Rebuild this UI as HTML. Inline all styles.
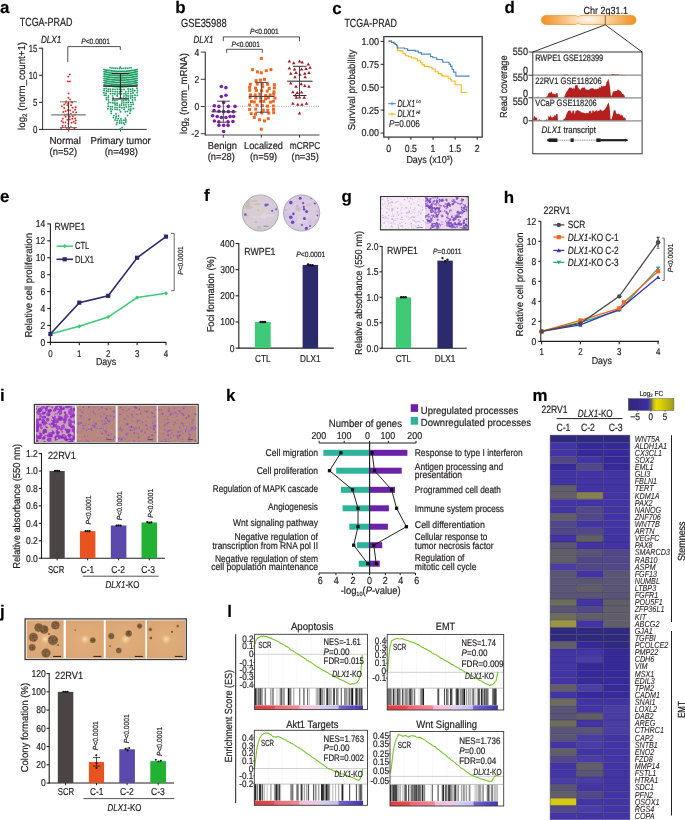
<!DOCTYPE html>
<html><head><meta charset="utf-8"><style>
html,body{margin:0;padding:0;background:#fff;}
svg{display:block;will-change:transform;font-family:"Liberation Sans", sans-serif;}
text{stroke:#231f20;stroke-width:0.2px;}
</style></head><body>
<svg width="685" height="820" viewBox="0 0 685 820" fill="#231f20" text-rendering="geometricPrecision">
<rect width="685" height="820" fill="#fff"/>
<text x="0.00" y="13.20" font-size="16.91" font-weight="bold" fill="#000">a</text>
<text x="19.70" y="26.40" font-size="11.77" textLength="52.80" lengthAdjust="spacingAndGlyphs">TCGA-PRAD</text>
<text x="40.90" y="42.80" font-size="10.27" font-style="italic" textLength="20.40" lengthAdjust="spacingAndGlyphs">DLX1</text>
<polyline points="67.80,62.20 67.80,46.60 120.30,46.60 120.30,50.00" fill="none" stroke="#231f20" stroke-width="0.8"/>
<text x="81.20" y="43.60" font-size="7.7" textLength="28.80" lengthAdjust="spacingAndGlyphs"><tspan font-style="italic">P</tspan>&lt;0.0001</text>
<line x1="42.60" y1="47.80" x2="42.60" y2="129.90" stroke="#231f20" stroke-width="0.9"/>
<line x1="42.20" y1="129.40" x2="146.80" y2="129.40" stroke="#231f20" stroke-width="0.9"/>
<line x1="38.90" y1="129.40" x2="42.60" y2="129.40" stroke="#231f20" stroke-width="1.0"/>
<text x="37.40" y="132.90" font-size="10.27" text-anchor="end" textLength="4.40" lengthAdjust="spacingAndGlyphs">0</text>
<line x1="38.90" y1="102.33" x2="42.60" y2="102.33" stroke="#231f20" stroke-width="1.0"/>
<text x="37.40" y="105.83" font-size="10.27" text-anchor="end" textLength="4.40" lengthAdjust="spacingAndGlyphs">5</text>
<line x1="38.90" y1="75.27" x2="42.60" y2="75.27" stroke="#231f20" stroke-width="1.0"/>
<text x="37.40" y="78.77" font-size="10.27" text-anchor="end" textLength="8.60" lengthAdjust="spacingAndGlyphs">10</text>
<line x1="38.90" y1="48.20" x2="42.60" y2="48.20" stroke="#231f20" stroke-width="1.0"/>
<text x="37.40" y="51.70" font-size="10.27" text-anchor="end" textLength="8.60" lengthAdjust="spacingAndGlyphs">15</text>
<line x1="68.60" y1="129.40" x2="68.60" y2="131.60" stroke="#231f20" stroke-width="0.8"/>
<line x1="120.50" y1="129.40" x2="120.50" y2="131.60" stroke="#231f20" stroke-width="0.8"/>
<text x="25.30" y="85.90" font-size="10.06" text-anchor="middle" textLength="88.00" lengthAdjust="spacingAndGlyphs" transform="rotate(-90 25.30 85.90)">log<tspan font-size="6.5" dy="2">2</tspan><tspan dy="-2"> (norm_count+1)</tspan></text>
<text x="65.20" y="143.80" font-size="10.06" text-anchor="middle" textLength="31.50" lengthAdjust="spacingAndGlyphs">Normal</text>
<text x="63.30" y="155.30" font-size="10.06" text-anchor="middle" textLength="27.50" lengthAdjust="spacingAndGlyphs">(n=52)</text>
<text x="120.60" y="143.80" font-size="10.06" text-anchor="middle" textLength="60.20" lengthAdjust="spacingAndGlyphs">Primary tumor</text>
<text x="121.30" y="155.30" font-size="10.06" text-anchor="middle" textLength="33.20" lengthAdjust="spacingAndGlyphs">(n=498)</text>
<circle cx="69.70" cy="74.50" r="0.95" fill="#e4231f"/>
<circle cx="68.20" cy="76.60" r="0.95" fill="#e4231f"/>
<circle cx="67.90" cy="81.40" r="0.95" fill="#e4231f"/>
<circle cx="69.90" cy="81.40" r="0.95" fill="#e4231f"/>
<circle cx="68.60" cy="93.40" r="0.95" fill="#e4231f"/>
<circle cx="68.40" cy="97.80" r="0.95" fill="#e4231f"/>
<circle cx="70.20" cy="99.50" r="0.95" fill="#e4231f"/>
<circle cx="66.20" cy="101.50" r="0.95" fill="#e4231f"/>
<circle cx="71.50" cy="102.20" r="0.95" fill="#e4231f"/>
<circle cx="72.37" cy="118.76" r="0.95" fill="#e4231f"/>
<circle cx="75.50" cy="123.25" r="0.95" fill="#e4231f"/>
<circle cx="68.26" cy="103.26" r="0.95" fill="#e4231f"/>
<circle cx="70.92" cy="127.12" r="0.95" fill="#e4231f"/>
<circle cx="62.57" cy="126.01" r="0.95" fill="#e4231f"/>
<circle cx="64.65" cy="114.74" r="0.95" fill="#e4231f"/>
<circle cx="69.75" cy="116.69" r="0.95" fill="#e4231f"/>
<circle cx="65.77" cy="102.84" r="0.95" fill="#e4231f"/>
<circle cx="75.09" cy="109.79" r="0.95" fill="#e4231f"/>
<circle cx="63.29" cy="122.49" r="0.95" fill="#e4231f"/>
<circle cx="62.78" cy="118.62" r="0.95" fill="#e4231f"/>
<circle cx="72.31" cy="102.55" r="0.95" fill="#e4231f"/>
<circle cx="64.16" cy="107.97" r="0.95" fill="#e4231f"/>
<circle cx="74.41" cy="128.14" r="0.95" fill="#e4231f"/>
<circle cx="75.88" cy="120.53" r="0.95" fill="#e4231f"/>
<circle cx="65.46" cy="125.83" r="0.95" fill="#e4231f"/>
<circle cx="63.39" cy="111.93" r="0.95" fill="#e4231f"/>
<circle cx="61.82" cy="106.30" r="0.95" fill="#e4231f"/>
<circle cx="70.21" cy="110.37" r="0.95" fill="#e4231f"/>
<circle cx="65.64" cy="111.32" r="0.95" fill="#e4231f"/>
<circle cx="68.30" cy="123.86" r="0.95" fill="#e4231f"/>
<circle cx="61.69" cy="120.89" r="0.95" fill="#e4231f"/>
<circle cx="61.16" cy="127.95" r="0.95" fill="#e4231f"/>
<circle cx="75.70" cy="107.22" r="0.95" fill="#e4231f"/>
<circle cx="72.59" cy="107.63" r="0.95" fill="#e4231f"/>
<circle cx="72.90" cy="116.19" r="0.95" fill="#e4231f"/>
<circle cx="71.08" cy="105.32" r="0.95" fill="#e4231f"/>
<circle cx="75.12" cy="118.44" r="0.95" fill="#e4231f"/>
<circle cx="65.67" cy="116.73" r="0.95" fill="#e4231f"/>
<circle cx="69.12" cy="128.25" r="0.95" fill="#e4231f"/>
<circle cx="67.38" cy="114.39" r="0.95" fill="#e4231f"/>
<circle cx="67.87" cy="110.19" r="0.95" fill="#e4231f"/>
<circle cx="76.22" cy="112.34" r="0.95" fill="#e4231f"/>
<circle cx="73.06" cy="111.93" r="0.95" fill="#e4231f"/>
<circle cx="71.64" cy="122.72" r="0.95" fill="#e4231f"/>
<circle cx="69.86" cy="119.46" r="0.95" fill="#e4231f"/>
<circle cx="73.72" cy="121.76" r="0.95" fill="#e4231f"/>
<circle cx="67.36" cy="119.87" r="0.95" fill="#e4231f"/>
<circle cx="70.94" cy="114.01" r="0.95" fill="#e4231f"/>
<circle cx="66.72" cy="127.88" r="0.95" fill="#e4231f"/>
<circle cx="65.49" cy="122.35" r="0.95" fill="#e4231f"/>
<circle cx="75.10" cy="114.39" r="0.95" fill="#e4231f"/>
<circle cx="67.39" cy="105.32" r="0.95" fill="#e4231f"/>
<circle cx="64.18" cy="104.38" r="0.95" fill="#e4231f"/>
<line x1="51.20" y1="114.90" x2="85.80" y2="114.90" stroke="#7a7a7a" stroke-width="1.2"/>
<line x1="60.00" y1="101.80" x2="77.00" y2="101.80" stroke="#7a7a7a" stroke-width="1.0"/>
<line x1="60.00" y1="127.50" x2="77.00" y2="127.50" stroke="#7a7a7a" stroke-width="1.0"/>
<line x1="68.60" y1="101.80" x2="68.60" y2="127.50" stroke="#231f20" stroke-width="0.9"/>
<circle cx="110.10" cy="67.67" r="0.90" fill="#22a068"/>
<circle cx="112.00" cy="67.91" r="0.90" fill="#22a068"/>
<circle cx="113.90" cy="68.10" r="0.90" fill="#22a068"/>
<circle cx="115.80" cy="68.25" r="0.90" fill="#22a068"/>
<circle cx="117.70" cy="68.34" r="0.90" fill="#22a068"/>
<circle cx="119.60" cy="68.39" r="0.90" fill="#22a068"/>
<circle cx="121.50" cy="68.39" r="0.90" fill="#22a068"/>
<circle cx="123.40" cy="68.35" r="0.90" fill="#22a068"/>
<circle cx="125.30" cy="68.25" r="0.90" fill="#22a068"/>
<circle cx="127.20" cy="68.11" r="0.90" fill="#22a068"/>
<circle cx="129.10" cy="67.92" r="0.90" fill="#22a068"/>
<circle cx="131.00" cy="67.68" r="0.90" fill="#22a068"/>
<polyline points="104.00,69.50 105.23,69.77 106.46,70.02 107.69,70.25 108.92,70.46 110.15,70.65 111.38,70.81 112.61,70.96 113.84,71.08 115.07,71.19 116.30,71.27 117.53,71.33 118.76,71.38 119.99,71.40 121.21,71.40 122.44,71.38 123.67,71.33 124.90,71.27 126.13,71.19 127.36,71.08 128.59,70.96 129.82,70.81 131.05,70.65 132.28,70.46 133.51,70.25 134.74,70.02 135.97,69.77 137.20,69.50" fill="none" stroke="#22a068" stroke-width="1.75" stroke-linecap="round"/>
<polyline points="104.00,71.70 105.23,71.97 106.46,72.22 107.69,72.45 108.92,72.66 110.15,72.85 111.38,73.01 112.61,73.16 113.84,73.28 115.07,73.39 116.30,73.47 117.53,73.53 118.76,73.58 119.99,73.60 121.21,73.60 122.44,73.58 123.67,73.53 124.90,73.47 126.13,73.39 127.36,73.28 128.59,73.16 129.82,73.01 131.05,72.85 132.28,72.66 133.51,72.45 134.74,72.22 135.97,71.97 137.20,71.70" fill="none" stroke="#22a068" stroke-width="1.75" stroke-linecap="round"/>
<polyline points="104.00,73.90 105.23,74.17 106.46,74.42 107.69,74.65 108.92,74.86 110.15,75.05 111.38,75.21 112.61,75.36 113.84,75.48 115.07,75.59 116.30,75.67 117.53,75.73 118.76,75.78 119.99,75.80 121.21,75.80 122.44,75.78 123.67,75.73 124.90,75.67 126.13,75.59 127.36,75.48 128.59,75.36 129.82,75.21 131.05,75.05 132.28,74.86 133.51,74.65 134.74,74.42 135.97,74.17 137.20,73.90" fill="none" stroke="#22a068" stroke-width="1.75" stroke-linecap="round"/>
<polyline points="104.00,76.10 105.23,76.37 106.46,76.62 107.69,76.85 108.92,77.06 110.15,77.25 111.38,77.41 112.61,77.56 113.84,77.68 115.07,77.79 116.30,77.87 117.53,77.93 118.76,77.98 119.99,78.00 121.21,78.00 122.44,77.98 123.67,77.93 124.90,77.87 126.13,77.79 127.36,77.68 128.59,77.56 129.82,77.41 131.05,77.25 132.28,77.06 133.51,76.85 134.74,76.62 135.97,76.37 137.20,76.10" fill="none" stroke="#22a068" stroke-width="1.75" stroke-linecap="round"/>
<polyline points="104.00,78.30 105.23,78.57 106.46,78.82 107.69,79.05 108.92,79.26 110.15,79.45 111.38,79.61 112.61,79.76 113.84,79.88 115.07,79.99 116.30,80.07 117.53,80.13 118.76,80.18 119.99,80.20 121.21,80.20 122.44,80.18 123.67,80.13 124.90,80.07 126.13,79.99 127.36,79.88 128.59,79.76 129.82,79.61 131.05,79.45 132.28,79.26 133.51,79.05 134.74,78.82 135.97,78.57 137.20,78.30" fill="none" stroke="#22a068" stroke-width="1.75" stroke-linecap="round"/>
<polyline points="104.00,80.50 105.23,80.77 106.46,81.02 107.69,81.25 108.92,81.46 110.15,81.65 111.38,81.81 112.61,81.96 113.84,82.08 115.07,82.19 116.30,82.27 117.53,82.33 118.76,82.38 119.99,82.40 121.21,82.40 122.44,82.38 123.67,82.33 124.90,82.27 126.13,82.19 127.36,82.08 128.59,81.96 129.82,81.81 131.05,81.65 132.28,81.46 133.51,81.25 134.74,81.02 135.97,80.77 137.20,80.50" fill="none" stroke="#22a068" stroke-width="1.75" stroke-linecap="round"/>
<polyline points="104.00,82.70 105.23,82.97 106.46,83.22 107.69,83.45 108.92,83.66 110.15,83.85 111.38,84.01 112.61,84.16 113.84,84.28 115.07,84.39 116.30,84.47 117.53,84.53 118.76,84.58 119.99,84.60 121.21,84.60 122.44,84.58 123.67,84.53 124.90,84.47 126.13,84.39 127.36,84.28 128.59,84.16 129.82,84.01 131.05,83.85 132.28,83.66 133.51,83.45 134.74,83.22 135.97,82.97 137.20,82.70" fill="none" stroke="#22a068" stroke-width="1.75" stroke-linecap="round"/>
<polyline points="104.00,84.90 105.23,85.17 106.46,85.42 107.69,85.65 108.92,85.86 110.15,86.05 111.38,86.21 112.61,86.36 113.84,86.48 115.07,86.59 116.30,86.67 117.53,86.73 118.76,86.78 119.99,86.80 121.21,86.80 122.44,86.78 123.67,86.73 124.90,86.67 126.13,86.59 127.36,86.48 128.59,86.36 129.82,86.21 131.05,86.05 132.28,85.86 133.51,85.65 134.74,85.42 135.97,85.17 137.20,84.90" fill="none" stroke="#22a068" stroke-width="1.75" stroke-linecap="round"/>
<circle cx="104.15" cy="88.63" r="0.95" fill="#22a068"/>
<circle cx="106.17" cy="88.54" r="0.95" fill="#22a068"/>
<circle cx="108.42" cy="89.13" r="0.95" fill="#22a068"/>
<circle cx="110.37" cy="89.16" r="0.95" fill="#22a068"/>
<circle cx="112.93" cy="89.19" r="0.95" fill="#22a068"/>
<circle cx="115.10" cy="89.36" r="0.95" fill="#22a068"/>
<circle cx="117.31" cy="89.21" r="0.95" fill="#22a068"/>
<circle cx="119.50" cy="89.18" r="0.95" fill="#22a068"/>
<circle cx="121.63" cy="89.54" r="0.95" fill="#22a068"/>
<circle cx="124.05" cy="89.45" r="0.95" fill="#22a068"/>
<circle cx="128.10" cy="88.96" r="0.95" fill="#22a068"/>
<circle cx="130.40" cy="89.27" r="0.95" fill="#22a068"/>
<circle cx="132.67" cy="89.04" r="0.95" fill="#22a068"/>
<circle cx="136.93" cy="88.19" r="0.95" fill="#22a068"/>
<circle cx="104.11" cy="90.48" r="0.95" fill="#22a068"/>
<circle cx="106.50" cy="91.00" r="0.95" fill="#22a068"/>
<circle cx="108.21" cy="91.19" r="0.95" fill="#22a068"/>
<circle cx="110.48" cy="91.19" r="0.95" fill="#22a068"/>
<circle cx="112.76" cy="91.36" r="0.95" fill="#22a068"/>
<circle cx="115.27" cy="91.63" r="0.95" fill="#22a068"/>
<circle cx="117.24" cy="91.82" r="0.95" fill="#22a068"/>
<circle cx="119.55" cy="91.69" r="0.95" fill="#22a068"/>
<circle cx="121.64" cy="91.40" r="0.95" fill="#22a068"/>
<circle cx="125.86" cy="91.77" r="0.95" fill="#22a068"/>
<circle cx="128.50" cy="91.13" r="0.95" fill="#22a068"/>
<circle cx="130.79" cy="91.36" r="0.95" fill="#22a068"/>
<circle cx="132.75" cy="90.87" r="0.95" fill="#22a068"/>
<circle cx="134.78" cy="90.82" r="0.95" fill="#22a068"/>
<circle cx="137.43" cy="90.44" r="0.95" fill="#22a068"/>
<circle cx="103.87" cy="92.70" r="0.95" fill="#22a068"/>
<circle cx="106.05" cy="93.14" r="0.95" fill="#22a068"/>
<circle cx="110.56" cy="93.80" r="0.95" fill="#22a068"/>
<circle cx="112.96" cy="93.67" r="0.95" fill="#22a068"/>
<circle cx="114.84" cy="93.89" r="0.95" fill="#22a068"/>
<circle cx="117.38" cy="94.00" r="0.95" fill="#22a068"/>
<circle cx="119.31" cy="93.61" r="0.95" fill="#22a068"/>
<circle cx="121.45" cy="93.84" r="0.95" fill="#22a068"/>
<circle cx="123.84" cy="93.75" r="0.95" fill="#22a068"/>
<circle cx="126.00" cy="93.93" r="0.95" fill="#22a068"/>
<circle cx="128.14" cy="93.53" r="0.95" fill="#22a068"/>
<circle cx="130.82" cy="93.63" r="0.95" fill="#22a068"/>
<circle cx="133.06" cy="93.07" r="0.95" fill="#22a068"/>
<circle cx="137.15" cy="92.63" r="0.95" fill="#22a068"/>
<circle cx="104.29" cy="95.16" r="0.95" fill="#22a068"/>
<circle cx="105.97" cy="95.14" r="0.95" fill="#22a068"/>
<circle cx="108.42" cy="95.87" r="0.95" fill="#22a068"/>
<circle cx="112.58" cy="95.87" r="0.95" fill="#22a068"/>
<circle cx="117.22" cy="95.99" r="0.95" fill="#22a068"/>
<circle cx="123.73" cy="96.12" r="0.95" fill="#22a068"/>
<circle cx="126.15" cy="95.79" r="0.95" fill="#22a068"/>
<circle cx="128.11" cy="95.96" r="0.95" fill="#22a068"/>
<circle cx="130.62" cy="96.00" r="0.95" fill="#22a068"/>
<circle cx="132.48" cy="95.64" r="0.95" fill="#22a068"/>
<circle cx="135.03" cy="95.32" r="0.95" fill="#22a068"/>
<circle cx="137.34" cy="95.40" r="0.95" fill="#22a068"/>
<circle cx="106.27" cy="97.60" r="0.95" fill="#22a068"/>
<circle cx="108.27" cy="97.57" r="0.95" fill="#22a068"/>
<circle cx="113.09" cy="98.00" r="0.95" fill="#22a068"/>
<circle cx="119.25" cy="98.35" r="0.95" fill="#22a068"/>
<circle cx="121.55" cy="98.13" r="0.95" fill="#22a068"/>
<circle cx="123.63" cy="98.17" r="0.95" fill="#22a068"/>
<circle cx="126.02" cy="98.01" r="0.95" fill="#22a068"/>
<circle cx="128.19" cy="98.26" r="0.95" fill="#22a068"/>
<circle cx="130.74" cy="98.01" r="0.95" fill="#22a068"/>
<circle cx="132.74" cy="97.65" r="0.95" fill="#22a068"/>
<circle cx="134.99" cy="97.67" r="0.95" fill="#22a068"/>
<circle cx="106.42" cy="99.51" r="0.95" fill="#22a068"/>
<circle cx="108.43" cy="99.71" r="0.95" fill="#22a068"/>
<circle cx="112.76" cy="100.47" r="0.95" fill="#22a068"/>
<circle cx="114.84" cy="100.66" r="0.95" fill="#22a068"/>
<circle cx="117.02" cy="100.33" r="0.95" fill="#22a068"/>
<circle cx="121.92" cy="100.91" r="0.95" fill="#22a068"/>
<circle cx="123.74" cy="100.55" r="0.95" fill="#22a068"/>
<circle cx="126.00" cy="100.21" r="0.95" fill="#22a068"/>
<circle cx="128.50" cy="100.50" r="0.95" fill="#22a068"/>
<circle cx="132.50" cy="100.06" r="0.95" fill="#22a068"/>
<circle cx="135.16" cy="99.83" r="0.95" fill="#22a068"/>
<circle cx="108.75" cy="102.16" r="0.95" fill="#22a068"/>
<circle cx="110.66" cy="102.58" r="0.95" fill="#22a068"/>
<circle cx="112.92" cy="102.89" r="0.95" fill="#22a068"/>
<circle cx="114.86" cy="102.94" r="0.95" fill="#22a068"/>
<circle cx="117.03" cy="103.13" r="0.95" fill="#22a068"/>
<circle cx="121.69" cy="103.12" r="0.95" fill="#22a068"/>
<circle cx="123.73" cy="102.71" r="0.95" fill="#22a068"/>
<circle cx="126.14" cy="102.67" r="0.95" fill="#22a068"/>
<circle cx="128.14" cy="102.52" r="0.95" fill="#22a068"/>
<circle cx="130.79" cy="102.62" r="0.95" fill="#22a068"/>
<circle cx="132.77" cy="102.12" r="0.95" fill="#22a068"/>
<circle cx="108.09" cy="103.87" r="0.95" fill="#22a068"/>
<circle cx="115.16" cy="104.76" r="0.95" fill="#22a068"/>
<circle cx="117.09" cy="105.19" r="0.95" fill="#22a068"/>
<circle cx="119.54" cy="105.32" r="0.95" fill="#22a068"/>
<circle cx="121.44" cy="105.15" r="0.95" fill="#22a068"/>
<circle cx="123.82" cy="105.01" r="0.95" fill="#22a068"/>
<circle cx="126.00" cy="104.83" r="0.95" fill="#22a068"/>
<circle cx="128.54" cy="104.87" r="0.95" fill="#22a068"/>
<circle cx="131.12" cy="104.67" r="0.95" fill="#22a068"/>
<circle cx="133.22" cy="104.25" r="0.95" fill="#22a068"/>
<circle cx="108.28" cy="106.32" r="0.95" fill="#22a068"/>
<circle cx="110.48" cy="106.74" r="0.95" fill="#22a068"/>
<circle cx="112.39" cy="106.75" r="0.95" fill="#22a068"/>
<circle cx="114.97" cy="107.35" r="0.95" fill="#22a068"/>
<circle cx="117.07" cy="107.58" r="0.95" fill="#22a068"/>
<circle cx="119.59" cy="107.13" r="0.95" fill="#22a068"/>
<circle cx="121.84" cy="107.67" r="0.95" fill="#22a068"/>
<circle cx="124.12" cy="107.53" r="0.95" fill="#22a068"/>
<circle cx="126.35" cy="107.02" r="0.95" fill="#22a068"/>
<circle cx="128.79" cy="106.84" r="0.95" fill="#22a068"/>
<circle cx="130.85" cy="106.67" r="0.95" fill="#22a068"/>
<circle cx="107.91" cy="108.74" r="0.95" fill="#22a068"/>
<circle cx="110.62" cy="109.05" r="0.95" fill="#22a068"/>
<circle cx="112.41" cy="109.36" r="0.95" fill="#22a068"/>
<circle cx="115.05" cy="109.37" r="0.95" fill="#22a068"/>
<circle cx="117.02" cy="109.46" r="0.95" fill="#22a068"/>
<circle cx="119.54" cy="109.88" r="0.95" fill="#22a068"/>
<circle cx="124.17" cy="109.41" r="0.95" fill="#22a068"/>
<circle cx="128.75" cy="109.47" r="0.95" fill="#22a068"/>
<circle cx="130.78" cy="108.94" r="0.95" fill="#22a068"/>
<circle cx="133.34" cy="108.53" r="0.95" fill="#22a068"/>
<circle cx="111.16" cy="111.18" r="0.95" fill="#22a068"/>
<circle cx="120.66" cy="111.71" r="0.95" fill="#22a068"/>
<circle cx="125.44" cy="111.76" r="0.95" fill="#22a068"/>
<circle cx="127.46" cy="111.33" r="0.95" fill="#22a068"/>
<circle cx="130.37" cy="110.79" r="0.95" fill="#22a068"/>
<circle cx="111.19" cy="113.41" r="0.95" fill="#22a068"/>
<circle cx="116.05" cy="113.89" r="0.95" fill="#22a068"/>
<circle cx="129.86" cy="113.30" r="0.95" fill="#22a068"/>
<circle cx="113.79" cy="115.58" r="0.95" fill="#22a068"/>
<circle cx="116.19" cy="116.23" r="0.95" fill="#22a068"/>
<circle cx="118.55" cy="116.05" r="0.95" fill="#22a068"/>
<circle cx="127.58" cy="115.51" r="0.95" fill="#22a068"/>
<circle cx="113.35" cy="117.59" r="0.95" fill="#22a068"/>
<circle cx="115.86" cy="117.98" r="0.95" fill="#22a068"/>
<circle cx="118.19" cy="118.65" r="0.95" fill="#22a068"/>
<circle cx="120.88" cy="118.92" r="0.95" fill="#22a068"/>
<circle cx="125.40" cy="118.08" r="0.95" fill="#22a068"/>
<circle cx="115.01" cy="120.04" r="0.95" fill="#22a068"/>
<circle cx="117.23" cy="120.41" r="0.95" fill="#22a068"/>
<circle cx="119.62" cy="121.03" r="0.95" fill="#22a068"/>
<circle cx="121.58" cy="120.76" r="0.95" fill="#22a068"/>
<circle cx="123.91" cy="120.27" r="0.95" fill="#22a068"/>
<circle cx="125.94" cy="120.00" r="0.95" fill="#22a068"/>
<circle cx="117.06" cy="122.78" r="0.95" fill="#22a068"/>
<circle cx="119.52" cy="123.04" r="0.95" fill="#22a068"/>
<circle cx="121.46" cy="123.02" r="0.95" fill="#22a068"/>
<circle cx="123.60" cy="122.95" r="0.95" fill="#22a068"/>
<circle cx="125.81" cy="122.00" r="0.95" fill="#22a068"/>
<circle cx="116.53" cy="124.41" r="0.95" fill="#22a068"/>
<circle cx="124.57" cy="124.38" r="0.95" fill="#22a068"/>
<circle cx="122.05" cy="127.54" r="0.95" fill="#22a068"/>
<circle cx="120.30" cy="67.20" r="0.95" fill="#22a068"/>
<circle cx="120.30" cy="129.00" r="0.95" fill="#22a068"/>
<line x1="103.10" y1="86.10" x2="137.60" y2="86.10" stroke="#231f20" stroke-width="1.3"/>
<line x1="112.00" y1="73.60" x2="128.80" y2="73.60" stroke="#231f20" stroke-width="1.1"/>
<line x1="112.00" y1="98.90" x2="128.80" y2="98.90" stroke="#231f20" stroke-width="1.1"/>
<line x1="120.40" y1="73.60" x2="120.40" y2="98.90" stroke="#231f20" stroke-width="1.0"/>
<text x="175.30" y="13.20" font-size="16.91" font-weight="bold" fill="#000">b</text>
<text x="181.00" y="27.30" font-size="11.77" textLength="45.60" lengthAdjust="spacingAndGlyphs">GSE35988</text>
<text x="193.60" y="42.80" font-size="10.27" font-style="italic" textLength="19.80" lengthAdjust="spacingAndGlyphs">DLX1</text>
<polyline points="223.30,41.20 223.30,36.90 299.50,36.90 299.50,41.20" fill="none" stroke="#231f20" stroke-width="0.8"/>
<text x="250.00" y="33.60" font-size="7.7" textLength="28.70" lengthAdjust="spacingAndGlyphs"><tspan font-style="italic">P</tspan>&lt;0.0001</text>
<polyline points="226.60,52.80 226.60,49.30 262.30,49.30 262.30,52.80" fill="none" stroke="#231f20" stroke-width="0.8"/>
<text x="231.50" y="46.60" font-size="7.7" textLength="28.30" lengthAdjust="spacingAndGlyphs"><tspan font-style="italic">P</tspan>&lt;0.0001</text>
<line x1="205.30" y1="51.70" x2="205.30" y2="135.40" stroke="#444" stroke-width="1.2"/>
<line x1="204.90" y1="135.00" x2="319.50" y2="135.00" stroke="#444" stroke-width="1.2"/>
<line x1="200.70" y1="52.10" x2="205.30" y2="52.10" stroke="#444" stroke-width="1.0"/>
<text x="199.30" y="55.50" font-size="10.06" text-anchor="end" textLength="4.80" lengthAdjust="spacingAndGlyphs">4</text>
<line x1="200.70" y1="79.30" x2="205.30" y2="79.30" stroke="#444" stroke-width="1.0"/>
<text x="199.30" y="82.70" font-size="10.06" text-anchor="end" textLength="4.80" lengthAdjust="spacingAndGlyphs">2</text>
<line x1="200.70" y1="106.50" x2="205.30" y2="106.50" stroke="#444" stroke-width="1.0"/>
<text x="199.30" y="109.90" font-size="10.06" text-anchor="end" textLength="4.80" lengthAdjust="spacingAndGlyphs">0</text>
<line x1="200.70" y1="133.70" x2="205.30" y2="133.70" stroke="#444" stroke-width="1.0"/>
<text x="199.30" y="137.10" font-size="10.06" text-anchor="end" textLength="8.10" lengthAdjust="spacingAndGlyphs">-2</text>
<line x1="223.30" y1="135.00" x2="223.30" y2="137.60" stroke="#231f20" stroke-width="0.9"/>
<line x1="261.30" y1="135.00" x2="261.30" y2="137.60" stroke="#231f20" stroke-width="0.9"/>
<line x1="299.50" y1="135.00" x2="299.50" y2="137.60" stroke="#231f20" stroke-width="0.9"/>
<line x1="205.30" y1="106.40" x2="320.00" y2="106.40" stroke="#9a9a9a" stroke-width="0.8" stroke-dasharray="1,1.3"/>
<text x="187.20" y="93.50" font-size="10.06" text-anchor="middle" textLength="81.00" lengthAdjust="spacingAndGlyphs" transform="rotate(-90 187.20 93.50)">log<tspan font-size="6.5" dy="2">2</tspan><tspan dy="-2"> (norm_mRNA)</tspan></text>
<text x="222.30" y="148.50" font-size="10.06" text-anchor="middle" textLength="29.30" lengthAdjust="spacingAndGlyphs">Benign</text>
<text x="221.30" y="160.30" font-size="10.06" text-anchor="middle" textLength="27.30" lengthAdjust="spacingAndGlyphs">(n=28)</text>
<text x="263.50" y="148.50" font-size="10.06" text-anchor="middle" textLength="39.00" lengthAdjust="spacingAndGlyphs">Localized</text>
<text x="263.60" y="160.30" font-size="10.06" text-anchor="middle" textLength="27.20" lengthAdjust="spacingAndGlyphs">(n=59)</text>
<text x="305.10" y="148.50" font-size="10.06" text-anchor="middle" textLength="30.60" lengthAdjust="spacingAndGlyphs">mCRPC</text>
<text x="305.20" y="160.30" font-size="10.06" text-anchor="middle" textLength="27.30" lengthAdjust="spacingAndGlyphs">(n=35)</text>
<circle cx="221.37" cy="86.44" r="1.80" fill="#7d1fa6"/>
<circle cx="225.93" cy="87.67" r="1.80" fill="#7d1fa6"/>
<circle cx="221.37" cy="96.43" r="1.80" fill="#7d1fa6"/>
<circle cx="225.93" cy="95.20" r="1.80" fill="#7d1fa6"/>
<circle cx="223.65" cy="102.56" r="1.80" fill="#7d1fa6"/>
<circle cx="214.37" cy="105.71" r="1.80" fill="#7d1fa6"/>
<circle cx="218.92" cy="106.41" r="1.80" fill="#7d1fa6"/>
<circle cx="228.38" cy="106.41" r="1.80" fill="#7d1fa6"/>
<circle cx="235.04" cy="106.41" r="1.80" fill="#7d1fa6"/>
<circle cx="214.02" cy="110.44" r="1.80" fill="#7d1fa6"/>
<circle cx="218.92" cy="111.32" r="1.80" fill="#7d1fa6"/>
<circle cx="223.65" cy="111.67" r="1.80" fill="#7d1fa6"/>
<circle cx="228.38" cy="111.67" r="1.80" fill="#7d1fa6"/>
<circle cx="233.29" cy="111.67" r="1.80" fill="#7d1fa6"/>
<circle cx="212.61" cy="115.70" r="1.80" fill="#7d1fa6"/>
<circle cx="217.17" cy="116.57" r="1.80" fill="#7d1fa6"/>
<circle cx="221.37" cy="117.45" r="1.80" fill="#7d1fa6"/>
<circle cx="225.93" cy="117.45" r="1.80" fill="#7d1fa6"/>
<circle cx="230.13" cy="116.57" r="1.80" fill="#7d1fa6"/>
<circle cx="233.64" cy="116.57" r="1.80" fill="#7d1fa6"/>
<circle cx="214.37" cy="120.95" r="1.80" fill="#7d1fa6"/>
<circle cx="218.92" cy="121.83" r="1.80" fill="#7d1fa6"/>
<circle cx="228.03" cy="121.83" r="1.80" fill="#7d1fa6"/>
<circle cx="232.94" cy="121.48" r="1.80" fill="#7d1fa6"/>
<circle cx="218.92" cy="125.33" r="1.80" fill="#7d1fa6"/>
<circle cx="223.65" cy="125.33" r="1.80" fill="#7d1fa6"/>
<circle cx="228.03" cy="125.33" r="1.80" fill="#7d1fa6"/>
<circle cx="223.65" cy="131.46" r="1.80" fill="#7d1fa6"/>
<rect x="259.82" y="56.91" width="3.00" height="3.00" fill="#f26722"/>
<rect x="251.06" y="68.12" width="3.00" height="3.00" fill="#f26722"/>
<rect x="255.96" y="70.40" width="3.00" height="3.00" fill="#f26722"/>
<rect x="259.82" y="71.28" width="3.00" height="3.00" fill="#f26722"/>
<rect x="264.72" y="69.17" width="3.00" height="3.00" fill="#f26722"/>
<rect x="269.45" y="68.12" width="3.00" height="3.00" fill="#f26722"/>
<rect x="254.56" y="79.16" width="3.00" height="3.00" fill="#f26722"/>
<rect x="258.94" y="78.63" width="3.00" height="3.00" fill="#f26722"/>
<rect x="262.97" y="77.93" width="3.00" height="3.00" fill="#f26722"/>
<rect x="252.81" y="115.95" width="3.00" height="3.00" fill="#f26722"/>
<rect x="258.07" y="118.23" width="3.00" height="3.00" fill="#f26722"/>
<rect x="262.97" y="119.45" width="3.00" height="3.00" fill="#f26722"/>
<rect x="266.83" y="117.18" width="3.00" height="3.00" fill="#f26722"/>
<rect x="259.82" y="127.69" width="3.00" height="3.00" fill="#f26722"/>
<rect x="248.86" y="82.77" width="3.00" height="3.00" fill="#f26722"/>
<rect x="255.76" y="82.60" width="3.00" height="3.00" fill="#f26722"/>
<rect x="260.80" y="82.82" width="3.00" height="3.00" fill="#f26722"/>
<rect x="266.03" y="82.68" width="3.00" height="3.00" fill="#f26722"/>
<rect x="272.88" y="83.18" width="3.00" height="3.00" fill="#f26722"/>
<rect x="248.10" y="85.82" width="3.00" height="3.00" fill="#f26722"/>
<rect x="254.01" y="86.71" width="3.00" height="3.00" fill="#f26722"/>
<rect x="261.19" y="85.36" width="3.00" height="3.00" fill="#f26722"/>
<rect x="267.71" y="86.98" width="3.00" height="3.00" fill="#f26722"/>
<rect x="272.93" y="86.37" width="3.00" height="3.00" fill="#f26722"/>
<rect x="248.24" y="88.82" width="3.00" height="3.00" fill="#f26722"/>
<rect x="254.93" y="88.90" width="3.00" height="3.00" fill="#f26722"/>
<rect x="260.13" y="89.22" width="3.00" height="3.00" fill="#f26722"/>
<rect x="265.71" y="89.61" width="3.00" height="3.00" fill="#f26722"/>
<rect x="272.48" y="90.27" width="3.00" height="3.00" fill="#f26722"/>
<rect x="249.00" y="93.42" width="3.00" height="3.00" fill="#f26722"/>
<rect x="253.69" y="93.46" width="3.00" height="3.00" fill="#f26722"/>
<rect x="258.33" y="92.79" width="3.00" height="3.00" fill="#f26722"/>
<rect x="264.19" y="94.04" width="3.00" height="3.00" fill="#f26722"/>
<rect x="268.59" y="93.54" width="3.00" height="3.00" fill="#f26722"/>
<rect x="272.22" y="92.70" width="3.00" height="3.00" fill="#f26722"/>
<rect x="248.51" y="95.93" width="3.00" height="3.00" fill="#f26722"/>
<rect x="254.25" y="96.50" width="3.00" height="3.00" fill="#f26722"/>
<rect x="259.14" y="96.48" width="3.00" height="3.00" fill="#f26722"/>
<rect x="264.11" y="97.29" width="3.00" height="3.00" fill="#f26722"/>
<rect x="266.83" y="96.17" width="3.00" height="3.00" fill="#f26722"/>
<rect x="273.47" y="96.63" width="3.00" height="3.00" fill="#f26722"/>
<rect x="249.97" y="100.00" width="3.00" height="3.00" fill="#f26722"/>
<rect x="252.79" y="100.41" width="3.00" height="3.00" fill="#f26722"/>
<rect x="259.00" y="99.78" width="3.00" height="3.00" fill="#f26722"/>
<rect x="262.28" y="99.89" width="3.00" height="3.00" fill="#f26722"/>
<rect x="268.85" y="100.63" width="3.00" height="3.00" fill="#f26722"/>
<rect x="271.80" y="99.74" width="3.00" height="3.00" fill="#f26722"/>
<rect x="248.12" y="103.44" width="3.00" height="3.00" fill="#f26722"/>
<rect x="255.49" y="103.65" width="3.00" height="3.00" fill="#f26722"/>
<rect x="260.91" y="104.12" width="3.00" height="3.00" fill="#f26722"/>
<rect x="266.04" y="104.62" width="3.00" height="3.00" fill="#f26722"/>
<rect x="271.83" y="104.46" width="3.00" height="3.00" fill="#f26722"/>
<rect x="248.15" y="107.93" width="3.00" height="3.00" fill="#f26722"/>
<rect x="254.26" y="107.66" width="3.00" height="3.00" fill="#f26722"/>
<rect x="261.77" y="108.60" width="3.00" height="3.00" fill="#f26722"/>
<rect x="266.28" y="108.74" width="3.00" height="3.00" fill="#f26722"/>
<rect x="272.00" y="107.88" width="3.00" height="3.00" fill="#f26722"/>
<rect x="249.70" y="112.17" width="3.00" height="3.00" fill="#f26722"/>
<rect x="254.03" y="112.78" width="3.00" height="3.00" fill="#f26722"/>
<rect x="260.18" y="111.50" width="3.00" height="3.00" fill="#f26722"/>
<rect x="267.27" y="111.62" width="3.00" height="3.00" fill="#f26722"/>
<rect x="272.18" y="111.17" width="3.00" height="3.00" fill="#f26722"/>
<path d="M289.35,59.59 L291.10,62.59 L287.60,62.59Z" fill="#a3191f"/>
<path d="M293.73,61.34 L295.48,64.34 L291.98,64.34Z" fill="#a3191f"/>
<path d="M299.51,59.59 L301.26,62.59 L297.76,62.59Z" fill="#a3191f"/>
<path d="M302.14,60.46 L303.89,63.46 L300.39,63.46Z" fill="#a3191f"/>
<path d="M308.27,62.57 L310.02,65.57 L306.52,65.57Z" fill="#a3191f"/>
<path d="M310.02,65.72 L311.77,68.72 L308.27,68.72Z" fill="#a3191f"/>
<path d="M289.35,66.60 L291.10,69.60 L287.60,69.60Z" fill="#a3191f"/>
<path d="M294.60,67.47 L296.35,70.47 L292.85,70.47Z" fill="#a3191f"/>
<path d="M301.61,67.47 L303.36,70.47 L299.86,70.47Z" fill="#a3191f"/>
<path d="M305.99,67.12 L307.74,70.12 L304.24,70.12Z" fill="#a3191f"/>
<path d="M290.75,71.85 L292.50,74.85 L289.00,74.85Z" fill="#a3191f"/>
<path d="M296.01,70.98 L297.76,73.98 L294.26,73.98Z" fill="#a3191f"/>
<path d="M299.86,72.73 L301.61,75.73 L298.11,75.73Z" fill="#a3191f"/>
<path d="M304.77,71.85 L306.52,74.85 L303.02,74.85Z" fill="#a3191f"/>
<path d="M308.97,70.98 L310.72,73.98 L307.22,73.98Z" fill="#a3191f"/>
<path d="M294.95,75.35 L296.70,78.35 L293.20,78.35Z" fill="#a3191f"/>
<path d="M305.12,75.35 L306.87,78.35 L303.37,78.35Z" fill="#a3191f"/>
<path d="M290.75,81.49 L292.50,84.49 L289.00,84.49Z" fill="#a3191f"/>
<path d="M296.01,84.64 L297.76,87.64 L294.26,87.64Z" fill="#a3191f"/>
<path d="M301.26,82.36 L303.01,85.36 L299.51,85.36Z" fill="#a3191f"/>
<path d="M304.77,84.11 L306.52,87.11 L303.02,87.11Z" fill="#a3191f"/>
<path d="M308.97,84.64 L310.72,87.64 L307.22,87.64Z" fill="#a3191f"/>
<path d="M292.85,90.25 L294.60,93.25 L291.10,93.25Z" fill="#a3191f"/>
<path d="M297.23,91.12 L298.98,94.12 L295.48,94.12Z" fill="#a3191f"/>
<path d="M301.61,90.60 L303.36,93.60 L299.86,93.60Z" fill="#a3191f"/>
<path d="M295.48,93.40 L297.23,96.40 L293.73,96.40Z" fill="#a3191f"/>
<path d="M296.36,95.85 L298.11,98.85 L294.61,98.85Z" fill="#a3191f"/>
<path d="M299.51,95.50 L301.26,98.50 L297.76,98.50Z" fill="#a3191f"/>
<path d="M304.24,95.85 L305.99,98.85 L302.49,98.85Z" fill="#a3191f"/>
<path d="M292.85,101.63 L294.60,104.63 L291.10,104.63Z" fill="#a3191f"/>
<path d="M297.76,102.86 L299.51,105.86 L296.01,105.86Z" fill="#a3191f"/>
<path d="M301.96,102.86 L303.71,105.86 L300.21,105.86Z" fill="#a3191f"/>
<path d="M306.52,101.63 L308.27,104.63 L304.77,104.63Z" fill="#a3191f"/>
<path d="M299.51,111.62 L301.26,114.62 L297.76,114.62Z" fill="#a3191f"/>
<line x1="211.40" y1="111.80" x2="236.40" y2="111.80" stroke="#444" stroke-width="1.1"/>
<line x1="217.20" y1="101.20" x2="229.80" y2="101.20" stroke="#444" stroke-width="1.0"/>
<line x1="217.20" y1="122.20" x2="229.80" y2="122.20" stroke="#444" stroke-width="1.0"/>
<line x1="223.30" y1="101.20" x2="223.30" y2="122.20" stroke="#333" stroke-width="0.9"/>
<line x1="249.00" y1="96.40" x2="274.50" y2="96.40" stroke="#444" stroke-width="1.1"/>
<line x1="255.20" y1="82.40" x2="268.30" y2="82.40" stroke="#444" stroke-width="1.0"/>
<line x1="255.20" y1="112.20" x2="268.30" y2="112.20" stroke="#444" stroke-width="1.0"/>
<line x1="261.30" y1="82.40" x2="261.30" y2="112.20" stroke="#333" stroke-width="0.9"/>
<line x1="287.20" y1="81.20" x2="312.50" y2="81.20" stroke="#333" stroke-width="1.1"/>
<line x1="292.90" y1="66.30" x2="306.50" y2="66.30" stroke="#333" stroke-width="1.0"/>
<line x1="292.90" y1="95.50" x2="306.50" y2="95.50" stroke="#333" stroke-width="1.0"/>
<line x1="299.50" y1="66.30" x2="299.50" y2="95.50" stroke="#333" stroke-width="0.9"/>
<text x="332.30" y="14.30" font-size="16.91" font-weight="bold" fill="#000">c</text>
<text x="344.40" y="26.80" font-size="11.77" textLength="52.60" lengthAdjust="spacingAndGlyphs">TCGA-PRAD</text>
<rect x="383.8" y="36.6" width="98.4" height="100.5" fill="none" stroke="#3a3a3a" stroke-width="1.3"/>
<line x1="380.60" y1="41.40" x2="383.80" y2="41.40" stroke="#231f20" stroke-width="1.0"/>
<text x="379.10" y="44.80" font-size="10.06" text-anchor="end" textLength="17.60" lengthAdjust="spacingAndGlyphs">1.00</text>
<line x1="380.60" y1="64.30" x2="383.80" y2="64.30" stroke="#231f20" stroke-width="1.0"/>
<text x="379.10" y="67.70" font-size="10.06" text-anchor="end" textLength="17.60" lengthAdjust="spacingAndGlyphs">0.75</text>
<line x1="380.60" y1="87.20" x2="383.80" y2="87.20" stroke="#231f20" stroke-width="1.0"/>
<text x="379.10" y="90.60" font-size="10.06" text-anchor="end" textLength="17.60" lengthAdjust="spacingAndGlyphs">0.50</text>
<line x1="380.60" y1="110.10" x2="383.80" y2="110.10" stroke="#231f20" stroke-width="1.0"/>
<text x="379.10" y="113.50" font-size="10.06" text-anchor="end" textLength="17.60" lengthAdjust="spacingAndGlyphs">0.25</text>
<line x1="380.60" y1="133.00" x2="383.80" y2="133.00" stroke="#231f20" stroke-width="1.0"/>
<text x="379.10" y="136.40" font-size="10.06" text-anchor="end" textLength="17.60" lengthAdjust="spacingAndGlyphs">0.00</text>
<line x1="388.80" y1="137.10" x2="388.80" y2="139.80" stroke="#231f20" stroke-width="1.0"/>
<text x="388.80" y="151.60" font-size="10.27" text-anchor="middle" textLength="4.90" lengthAdjust="spacingAndGlyphs">0</text>
<line x1="410.90" y1="137.10" x2="410.90" y2="139.80" stroke="#231f20" stroke-width="1.0"/>
<text x="410.90" y="151.60" font-size="10.27" text-anchor="middle" textLength="12.20" lengthAdjust="spacingAndGlyphs">0.5</text>
<line x1="433.00" y1="137.10" x2="433.00" y2="139.80" stroke="#231f20" stroke-width="1.0"/>
<text x="433.00" y="151.60" font-size="10.27" text-anchor="middle" textLength="4.90" lengthAdjust="spacingAndGlyphs">1</text>
<line x1="455.10" y1="137.10" x2="455.10" y2="139.80" stroke="#231f20" stroke-width="1.0"/>
<text x="455.10" y="151.60" font-size="10.27" text-anchor="middle" textLength="12.20" lengthAdjust="spacingAndGlyphs">1.5</text>
<line x1="477.20" y1="137.10" x2="477.20" y2="139.80" stroke="#231f20" stroke-width="1.0"/>
<text x="477.20" y="151.60" font-size="10.27" text-anchor="middle" textLength="4.90" lengthAdjust="spacingAndGlyphs">2</text>
<text x="429.60" y="163.00" font-size="10.06" text-anchor="middle" textLength="46.40" lengthAdjust="spacingAndGlyphs">Days (x10<tspan font-size="6" dy="-3.3">3</tspan><tspan dy="3.3">)</tspan></text>
<text x="355.40" y="90.00" font-size="10.06" text-anchor="middle" textLength="80.70" lengthAdjust="spacingAndGlyphs" transform="rotate(-90 355.40 90.00)">Survival probability</text>
<polyline points="388.43,41.13 389.96,41.13 389.96,41.13 391.50,41.13 391.50,42.36 394.56,42.36 394.56,44.50 396.86,44.50 396.86,48.03 397.63,48.03 397.63,50.63 400.69,50.63 400.69,51.09 402.99,51.09 402.99,53.70 405.29,53.70 405.29,55.69 408.36,55.69 408.36,56.77 411.42,56.77 411.42,57.99 415.25,57.99 415.25,58.76 417.55,58.76 417.55,60.75 420.62,60.75 420.62,62.59 422.15,62.59 422.15,64.89 424.45,64.89 424.45,66.42 429.05,66.42 429.05,67.19 432.12,67.19 432.12,69.03 435.18,69.03 435.18,71.79 438.25,71.79 438.25,73.63 441.31,73.63 441.31,75.16 442.84,75.16 442.84,76.08 447.44,76.08 447.44,76.08 448.21,76.08 448.21,78.23 450.51,78.23 450.51,79.45 451.28,79.45 451.28,80.98 454.34,80.98 454.34,80.98 455.11,80.98 455.11,84.82 461.24,84.82 461.24,84.82 461.24,84.82 461.24,92.48 467.37,92.48 467.37,92.48" fill="none" stroke="#f2b81c" stroke-width="1.1" stroke-linejoin="miter"/>
<polyline points="388.43,41.13 390.42,41.13 390.42,41.13 391.50,41.13 391.50,42.36 393.80,42.36 393.80,43.43 395.33,43.43 395.33,44.50 396.55,44.50 396.55,45.73 397.63,45.73 397.63,48.03 402.99,48.03 402.99,48.03 404.52,48.03 404.52,48.80 407.59,48.80 407.59,50.33 412.19,50.33 412.19,50.33 415.25,50.33 415.25,51.09 418.32,51.09 418.32,52.63 421.39,52.63 421.39,54.16 429.05,54.16 429.05,54.16 430.58,54.16 430.58,56.46 432.88,56.46 432.88,57.69 436.71,57.69 436.71,59.52 442.08,59.52 442.08,60.29 442.84,60.29 442.84,62.28 447.44,62.28 447.44,62.28 448.98,62.28 448.98,64.12 450.51,64.12 450.51,66.42 452.04,66.42 452.04,69.49 453.57,69.49 453.57,72.09 455.11,72.09 455.11,72.09 455.87,72.09 455.87,76.08 469.67,76.08 469.67,76.08" fill="none" stroke="#4a86c8" stroke-width="1.1" stroke-linejoin="miter"/>
<line x1="388.30" y1="103.70" x2="395.80" y2="103.70" stroke="#4a86c8" stroke-width="1.1"/>
<line x1="392.00" y1="101.90" x2="392.00" y2="105.50" stroke="#4a86c8" stroke-width="0.9"/>
<line x1="388.30" y1="114.10" x2="395.80" y2="114.10" stroke="#f2b81c" stroke-width="1.1"/>
<line x1="392.00" y1="112.30" x2="392.00" y2="115.90" stroke="#f2b81c" stroke-width="0.9"/>
<text x="397.50" y="106.90" font-size="10.27" font-style="italic" textLength="17.60" lengthAdjust="spacingAndGlyphs">DLX1</text>
<text x="416.30" y="103.20" font-size="4.92" font-style="italic" textLength="4.60" lengthAdjust="spacingAndGlyphs">Lo</text>
<text x="397.50" y="117.30" font-size="10.27" font-style="italic" textLength="17.60" lengthAdjust="spacingAndGlyphs">DLX1</text>
<text x="416.30" y="113.60" font-size="4.92" font-style="italic" textLength="4.00" lengthAdjust="spacingAndGlyphs">Hi</text>
<text x="389.00" y="127.40" font-size="9.84" textLength="30.80" lengthAdjust="spacingAndGlyphs"><tspan font-style="italic">P</tspan>=0.006</text>
<text x="504.60" y="13.30" font-size="16.91" font-weight="bold" fill="#000">d</text>
<text x="583.40" y="14.00" font-size="10.27" textLength="44.70" lengthAdjust="spacingAndGlyphs">Chr 2q31.1</text>
<defs><radialGradient id="chrg" cx="588.7" cy="19.5" r="52" gradientUnits="userSpaceOnUse" gradientTransform="translate(588.7 19.5) scale(1 0.35) translate(-588.7 -19.5)">
<stop offset="0" stop-color="#fff8ee"/><stop offset="0.35" stop-color="#f9d3a0"/><stop offset="0.75" stop-color="#f2a040"/><stop offset="1" stop-color="#ec8c1c"/></radialGradient></defs>
<path d="M545.9,15.4 L575.6,15.4 Q578.2,18 580.8,15.4 L631.5,15.4 A4.55,4.55 0 0 1 631.5,24.5 L580.8,24.5 Q578.2,21.9 575.6,24.5 L545.9,24.5 A4.55,4.55 0 0 1 545.9,15.4 Z" fill="url(#chrg)" stroke="#e8871a" stroke-width="0.6"/>
<line x1="605.30" y1="15.40" x2="605.30" y2="24.50" stroke="#7a4a20" stroke-width="0.8"/>
<line x1="605.30" y1="24.80" x2="532.80" y2="52.00" stroke="#231f20" stroke-width="0.9"/>
<line x1="605.30" y1="24.80" x2="642.10" y2="52.00" stroke="#231f20" stroke-width="0.9"/>
<rect x="532.8" y="52" width="109.3" height="101.8" fill="none" stroke="#231f20" stroke-width="0.9"/>
<path d="M533.00,75.20 L533.00,75.20 L533.50,75.20 L534.00,75.20 L534.50,75.20 L535.00,75.20 L535.50,75.20 L536.00,75.20 L536.50,75.20 L537.00,75.20 L537.50,75.20 L538.00,75.20 L538.50,75.20 L539.00,75.20 L539.50,75.20 L540.00,75.20 L540.50,75.20 L541.00,75.20 L541.50,75.20 L542.00,75.20 L542.50,75.20 L543.00,75.20 L543.50,75.20 L544.00,75.20 L544.50,75.20 L545.00,75.20 L545.50,75.20 L546.00,75.20 L546.50,75.20 L547.00,75.20 L547.50,75.20 L548.00,75.20 L548.50,75.20 L549.00,75.20 L549.50,75.20 L550.00,75.20 L550.50,75.20 L551.00,75.20 L551.50,75.20 L552.00,75.20 L552.50,75.20 L553.00,75.20 L553.50,75.20 L554.00,75.20 L554.50,75.20 L555.00,75.20 L555.50,75.20 L556.00,75.20 L556.50,75.20 L557.00,75.20 L557.50,75.20 L558.00,75.20 L558.50,75.20 L559.00,75.20 L559.50,75.20 L560.00,75.20 L560.50,75.20 L561.00,75.20 L561.50,75.20 L562.00,75.20 L562.50,75.20 L563.00,75.20 L563.50,74.85 L564.00,74.43 L564.50,74.81 L565.00,74.59 L565.50,74.63 L566.00,74.68 L566.50,74.30 L567.00,74.33 L567.50,74.85 L568.00,75.20 L568.50,75.20 L569.00,75.20 L569.50,75.20 L570.00,75.20 L570.50,75.20 L571.00,75.20 L571.50,75.20 L572.00,75.20 L572.50,75.20 L573.00,75.20 L573.50,75.20 L574.00,75.20 L574.50,75.20 L575.00,75.20 L575.50,75.20 L576.00,75.20 L576.50,75.20 L577.00,75.20 L577.50,75.20 L578.00,75.20 L578.50,75.20 L579.00,75.20 L579.50,75.20 L580.00,75.20 L580.50,75.20 L581.00,75.20 L581.50,75.20 L582.00,75.20 L582.50,75.20 L583.00,75.20 L583.50,75.20 L584.00,75.20 L584.50,75.20 L585.00,75.20 L585.50,75.20 L586.00,75.20 L586.50,74.67 L587.00,74.68 L587.50,74.75 L588.00,74.79 L588.50,74.90 L589.00,74.92 L589.50,74.85 L590.00,74.96 L590.50,75.06 L591.00,74.90 L591.50,75.05 L592.00,75.20 L592.50,75.20 L593.00,75.20 L593.50,75.20 L594.00,75.20 L594.50,75.20 L595.00,75.20 L595.50,75.20 L596.00,75.20 L596.50,75.20 L597.00,75.20 L597.50,75.20 L598.00,75.20 L598.50,75.20 L599.00,75.20 L599.50,75.20 L600.00,75.20 L600.50,75.14 L601.00,74.72 L601.50,74.66 L602.00,74.57 L602.50,74.55 L603.00,74.52 L603.50,74.71 L604.00,74.50 L604.50,74.59 L605.00,74.66 L605.50,74.64 L606.00,74.69 L606.50,74.95 L607.00,74.94 L607.50,74.73 L608.00,74.98 L608.50,74.93 L609.00,74.81 L609.50,74.59 L610.00,74.54 L610.50,74.76 L611.00,74.67 L611.50,74.68 L612.00,74.05 L612.50,73.96 L613.00,74.12 L613.50,74.12 L614.00,74.19 L614.50,74.15 L615.00,74.32 L615.50,74.42 L616.00,74.31 L616.50,74.43 L617.00,74.27 L617.50,74.54 L618.00,74.56 L618.50,74.57 L619.00,74.46 L619.50,74.92 L620.00,75.01 L620.50,74.98 L621.00,74.86 L621.50,74.83 L622.00,74.83 L622.50,74.74 L623.00,74.90 L623.50,74.95 L624.00,75.00 L624.50,75.05 L625.00,75.10 L625.50,75.15 L626.00,75.20 L626.00,75.20 Z" fill="#b3201d" stroke="none" stroke-width="1"/>
<path d="M533.00,97.80 L533.00,97.80 L533.50,97.55 L534.00,97.80 L534.50,97.80 L535.00,97.80 L535.50,97.32 L536.00,97.23 L536.50,97.38 L537.00,97.53 L537.50,97.80 L538.00,95.61 L538.50,97.59 L539.00,97.68 L539.50,97.80 L540.00,97.80 L540.50,97.77 L541.00,97.20 L541.50,97.80 L542.00,97.80 L542.50,97.80 L543.00,97.80 L543.50,97.80 L544.00,97.80 L544.50,97.80 L545.00,97.18 L545.50,97.43 L546.00,96.70 L546.50,96.47 L547.00,96.80 L547.50,95.63 L548.00,94.47 L548.50,92.94 L549.00,93.44 L549.50,92.43 L550.00,92.41 L550.50,92.89 L551.00,91.71 L551.50,91.75 L552.00,92.22 L552.50,94.06 L553.00,93.82 L553.50,93.37 L554.00,94.78 L554.50,93.74 L555.00,94.66 L555.50,94.36 L556.00,92.94 L556.50,93.20 L557.00,93.48 L557.50,92.78 L558.00,97.80 L558.50,97.80 L559.00,97.80 L559.50,97.80 L560.00,97.80 L560.50,97.80 L561.00,97.80 L561.50,97.80 L562.00,97.80 L562.50,97.80 L563.00,97.80 L563.50,97.80 L564.00,97.78 L564.50,95.97 L565.00,95.14 L565.50,93.79 L566.00,92.99 L566.50,91.85 L567.00,91.08 L567.50,90.80 L568.00,89.53 L568.50,89.10 L569.00,88.00 L569.50,87.50 L570.00,87.65 L570.50,87.66 L571.00,87.50 L571.50,87.80 L572.00,88.31 L572.50,88.83 L573.00,88.78 L573.50,87.34 L574.00,88.63 L574.50,88.77 L575.00,85.90 L575.50,85.22 L576.00,85.01 L576.50,85.22 L577.00,85.29 L577.50,84.87 L578.00,87.32 L578.50,88.16 L579.00,88.49 L579.50,89.22 L580.00,89.71 L580.50,90.04 L581.00,88.41 L581.50,88.53 L582.00,87.71 L582.50,87.84 L583.00,87.56 L583.50,87.97 L584.00,86.91 L584.50,87.50 L585.00,87.85 L585.50,89.42 L586.00,89.25 L586.50,89.76 L587.00,89.70 L587.50,89.58 L588.00,90.32 L588.50,89.82 L589.00,89.29 L589.50,89.38 L590.00,88.91 L590.50,88.83 L591.00,88.34 L591.50,88.61 L592.00,88.10 L592.50,88.27 L593.00,88.60 L593.50,88.81 L594.00,88.58 L594.50,89.40 L595.00,89.42 L595.50,88.72 L596.00,89.42 L596.50,89.27 L597.00,88.72 L597.50,89.10 L598.00,88.37 L598.50,88.91 L599.00,88.02 L599.50,86.89 L600.00,87.25 L600.50,88.17 L601.00,85.70 L601.50,86.05 L602.00,85.58 L602.50,86.47 L603.00,86.65 L603.50,85.64 L604.00,85.87 L604.50,86.47 L605.00,85.87 L605.50,86.17 L606.00,84.68 L606.50,82.26 L607.00,81.67 L607.50,80.92 L608.00,79.59 L608.50,78.68 L609.00,81.88 L609.50,84.07 L610.00,87.80 L610.50,91.95 L611.00,96.70 L611.50,95.76 L612.00,95.09 L612.50,93.07 L613.00,91.11 L613.50,91.80 L614.00,91.21 L614.50,91.33 L615.00,90.97 L615.50,91.31 L616.00,91.09 L616.50,90.80 L617.00,91.20 L617.50,89.25 L618.00,89.93 L618.50,89.82 L619.00,89.51 L619.50,90.69 L620.00,90.93 L620.50,91.10 L621.00,91.73 L621.50,92.32 L622.00,93.26 L622.50,94.01 L623.00,93.91 L623.50,94.58 L624.00,94.72 L624.50,95.44 L625.00,97.80 L625.50,97.60 L625.70,97.80 Z" fill="#b3201d" stroke="none" stroke-width="1"/>
<path d="M533.00,120.80 L533.00,120.80 L533.50,118.11 L534.00,116.18 L534.50,116.35 L535.00,116.76 L535.50,117.71 L536.00,117.13 L536.50,117.74 L537.00,117.76 L537.50,120.80 L538.00,120.00 L538.50,119.85 L539.00,119.63 L539.50,118.91 L540.00,120.01 L540.50,119.88 L541.00,120.15 L541.50,119.78 L542.00,120.80 L542.50,120.80 L543.00,120.80 L543.50,120.70 L544.00,120.80 L544.50,120.02 L545.00,119.82 L545.50,120.24 L546.00,119.90 L546.50,118.34 L547.00,120.19 L547.50,120.06 L548.00,119.63 L548.50,115.82 L549.00,115.86 L549.50,116.99 L550.00,117.37 L550.50,115.07 L551.00,115.99 L551.50,117.75 L552.00,117.20 L552.50,117.60 L553.00,117.20 L553.50,116.61 L554.00,117.48 L554.50,114.43 L555.00,115.54 L555.50,115.65 L556.00,114.89 L556.50,113.75 L557.00,113.84 L557.50,113.93 L558.00,120.80 L558.50,120.80 L559.00,120.80 L559.50,120.80 L560.00,120.80 L560.50,120.80 L561.00,120.80 L561.50,120.80 L562.00,120.80 L562.50,120.80 L563.00,120.80 L563.50,119.38 L564.00,118.23 L564.50,119.09 L565.00,118.23 L565.50,117.60 L566.00,115.33 L566.50,113.65 L567.00,113.50 L567.50,111.98 L568.00,111.28 L568.50,110.80 L569.00,110.97 L569.50,110.81 L570.00,109.39 L570.50,111.50 L571.00,111.29 L571.50,112.81 L572.00,113.73 L572.50,110.85 L573.00,110.84 L573.50,110.59 L574.00,110.62 L574.50,113.85 L575.00,113.76 L575.50,110.84 L576.00,110.91 L576.50,110.71 L577.00,110.23 L577.50,110.11 L578.00,110.61 L578.50,110.54 L579.00,110.88 L579.50,111.34 L580.00,111.10 L580.50,111.56 L581.00,112.85 L581.50,112.16 L582.00,112.29 L582.50,112.75 L583.00,111.87 L583.50,113.04 L584.00,113.02 L584.50,113.07 L585.00,113.33 L585.50,113.40 L586.00,112.93 L586.50,112.90 L587.00,113.08 L587.50,112.77 L588.00,113.49 L588.50,113.55 L589.00,111.40 L589.50,110.96 L590.00,111.22 L590.50,111.09 L591.00,110.59 L591.50,113.28 L592.00,113.46 L592.50,110.35 L593.00,109.95 L593.50,110.52 L594.00,111.90 L594.50,111.72 L595.00,111.27 L595.50,110.60 L596.00,111.15 L596.50,109.93 L597.00,110.00 L597.50,111.73 L598.00,111.12 L598.50,110.44 L599.00,110.94 L599.50,110.31 L600.00,109.73 L600.50,109.41 L601.00,109.49 L601.50,110.68 L602.00,110.68 L602.50,110.80 L603.00,110.80 L603.50,110.57 L604.00,110.03 L604.50,110.00 L605.00,108.53 L605.50,108.50 L606.00,107.49 L606.50,106.74 L607.00,105.72 L607.50,104.37 L608.00,103.40 L608.50,102.50 L609.00,104.05 L609.50,106.71 L610.00,111.53 L610.50,118.92 L611.00,119.41 L611.50,119.18 L612.00,117.40 L612.50,116.19 L613.00,114.00 L613.50,111.85 L614.00,109.77 L614.50,110.50 L615.00,110.57 L615.50,110.31 L616.00,112.91 L616.50,113.81 L617.00,114.05 L617.50,113.55 L618.00,114.68 L618.50,113.24 L619.00,113.56 L619.50,114.65 L620.00,113.45 L620.50,115.32 L621.00,115.96 L621.50,114.58 L622.00,115.14 L622.50,115.20 L623.00,116.38 L623.50,117.64 L624.00,117.25 L624.50,117.57 L625.00,118.48 L625.50,117.95 L626.00,120.54 L626.30,120.80 Z" fill="#b3201d" stroke="none" stroke-width="1"/>
<line x1="532.80" y1="75.20" x2="642.30" y2="75.20" stroke="#8c8c8c" stroke-width="1.2"/>
<line x1="532.80" y1="97.80" x2="642.30" y2="97.80" stroke="#8c8c8c" stroke-width="1.2"/>
<line x1="532.80" y1="120.80" x2="642.30" y2="120.80" stroke="#8c8c8c" stroke-width="1.2"/>
<text x="528.00" y="55.30" font-size="10.49" text-anchor="end" textLength="15.20" lengthAdjust="spacingAndGlyphs">550</text>
<line x1="528.50" y1="52.00" x2="532.80" y2="52.00" stroke="#231f20" stroke-width="0.9"/>
<text x="528.00" y="73.90" font-size="10.49" text-anchor="end" textLength="5.00" lengthAdjust="spacingAndGlyphs">0</text>
<text x="528.00" y="80.80" font-size="10.49" text-anchor="end" textLength="15.20" lengthAdjust="spacingAndGlyphs">550</text>
<text x="528.00" y="96.60" font-size="10.49" text-anchor="end" textLength="5.00" lengthAdjust="spacingAndGlyphs">0</text>
<text x="528.00" y="105.40" font-size="10.49" text-anchor="end" textLength="15.20" lengthAdjust="spacingAndGlyphs">550</text>
<text x="528.00" y="124.00" font-size="10.49" text-anchor="end" textLength="5.00" lengthAdjust="spacingAndGlyphs">0</text>
<line x1="528.50" y1="75.20" x2="532.80" y2="75.20" stroke="#231f20" stroke-width="0.9"/>
<line x1="528.50" y1="97.80" x2="532.80" y2="97.80" stroke="#231f20" stroke-width="0.9"/>
<line x1="528.50" y1="120.80" x2="532.80" y2="120.80" stroke="#231f20" stroke-width="0.9"/>
<text x="507.30" y="86.70" font-size="10.06" text-anchor="middle" textLength="62.40" lengthAdjust="spacingAndGlyphs" transform="rotate(-90 507.30 86.70)">Read coverage</text>
<text x="535.20" y="61.30" font-size="9.2" textLength="68.00" lengthAdjust="spacingAndGlyphs">RWPE1 GSE128399</text>
<text x="535.20" y="84.00" font-size="9.2" textLength="66.50" lengthAdjust="spacingAndGlyphs">22RV1 GSE118206</text>
<text x="535.20" y="106.20" font-size="9.2" textLength="61.50" lengthAdjust="spacingAndGlyphs">VCaP GSE118206</text>
<text x="541.60" y="133.40" font-size="9.42" textLength="54.30" lengthAdjust="spacingAndGlyphs"><tspan font-style="italic">DLX1</tspan> transcript</text>
<line x1="547.70" y1="140.20" x2="627.50" y2="140.20" stroke="#231f20" stroke-width="0.6" stroke-dasharray="1,0.8"/>
<rect x="547.20" y="139.20" width="2.20" height="2.00" fill="#231f20"/>
<rect x="548.60" y="138.40" width="8.80" height="3.60" fill="#231f20"/>
<rect x="570.50" y="138.40" width="3.20" height="3.60" fill="#231f20"/>
<rect x="596.30" y="138.40" width="4.40" height="3.60" fill="#231f20"/>
<rect x="600.50" y="139.10" width="25.50" height="2.20" fill="#231f20"/>
<path d="M625.5,138.6 L628.3,140.2 L625.5,141.79999999999998 Z" fill="#231f20" stroke="none" stroke-width="1"/>
<text x="0.00" y="202.20" font-size="16.91" font-weight="bold" fill="#000">e</text>
<line x1="50.40" y1="223.50" x2="50.40" y2="343.00" stroke="#231f20" stroke-width="1.1"/>
<line x1="49.90" y1="342.40" x2="166.40" y2="342.40" stroke="#231f20" stroke-width="1.1"/>
<line x1="47.20" y1="342.40" x2="50.40" y2="342.40" stroke="#231f20" stroke-width="1.1"/>
<text x="45.20" y="345.80" font-size="10.06" text-anchor="end" textLength="4.75" lengthAdjust="spacingAndGlyphs">0</text>
<line x1="47.20" y1="325.47" x2="50.40" y2="325.47" stroke="#231f20" stroke-width="1.1"/>
<text x="45.20" y="328.87" font-size="10.06" text-anchor="end" textLength="4.75" lengthAdjust="spacingAndGlyphs">2</text>
<line x1="47.20" y1="308.54" x2="50.40" y2="308.54" stroke="#231f20" stroke-width="1.1"/>
<text x="45.20" y="311.94" font-size="10.06" text-anchor="end" textLength="4.75" lengthAdjust="spacingAndGlyphs">4</text>
<line x1="47.20" y1="291.61" x2="50.40" y2="291.61" stroke="#231f20" stroke-width="1.1"/>
<text x="45.20" y="295.01" font-size="10.06" text-anchor="end" textLength="4.75" lengthAdjust="spacingAndGlyphs">6</text>
<line x1="47.20" y1="274.69" x2="50.40" y2="274.69" stroke="#231f20" stroke-width="1.1"/>
<text x="45.20" y="278.09" font-size="10.06" text-anchor="end" textLength="4.75" lengthAdjust="spacingAndGlyphs">8</text>
<line x1="47.20" y1="257.76" x2="50.40" y2="257.76" stroke="#231f20" stroke-width="1.1"/>
<text x="45.20" y="261.16" font-size="10.06" text-anchor="end" textLength="9.50" lengthAdjust="spacingAndGlyphs">10</text>
<line x1="47.20" y1="240.83" x2="50.40" y2="240.83" stroke="#231f20" stroke-width="1.1"/>
<text x="45.20" y="244.23" font-size="10.06" text-anchor="end" textLength="9.50" lengthAdjust="spacingAndGlyphs">12</text>
<line x1="47.20" y1="223.90" x2="50.40" y2="223.90" stroke="#231f20" stroke-width="1.1"/>
<text x="45.20" y="227.30" font-size="10.06" text-anchor="end" textLength="9.50" lengthAdjust="spacingAndGlyphs">14</text>
<line x1="50.40" y1="342.40" x2="50.40" y2="345.20" stroke="#231f20" stroke-width="1.1"/>
<text x="50.40" y="356.80" font-size="9.84" text-anchor="middle" textLength="4.40" lengthAdjust="spacingAndGlyphs">0</text>
<line x1="79.30" y1="342.40" x2="79.30" y2="345.20" stroke="#231f20" stroke-width="1.1"/>
<text x="79.30" y="356.80" font-size="9.84" text-anchor="middle" textLength="4.40" lengthAdjust="spacingAndGlyphs">1</text>
<line x1="108.20" y1="342.40" x2="108.20" y2="345.20" stroke="#231f20" stroke-width="1.1"/>
<text x="108.20" y="356.80" font-size="9.84" text-anchor="middle" textLength="4.40" lengthAdjust="spacingAndGlyphs">2</text>
<line x1="137.10" y1="342.40" x2="137.10" y2="345.20" stroke="#231f20" stroke-width="1.1"/>
<text x="137.10" y="356.80" font-size="9.84" text-anchor="middle" textLength="4.40" lengthAdjust="spacingAndGlyphs">3</text>
<line x1="166.00" y1="342.40" x2="166.00" y2="345.20" stroke="#231f20" stroke-width="1.1"/>
<text x="166.00" y="356.80" font-size="9.84" text-anchor="middle" textLength="4.40" lengthAdjust="spacingAndGlyphs">4</text>
<text x="106.00" y="364.60" font-size="10.06" text-anchor="middle" textLength="20.20" lengthAdjust="spacingAndGlyphs">Days</text>
<text x="32.00" y="285.30" font-size="10.06" text-anchor="middle" textLength="104.60" lengthAdjust="spacingAndGlyphs" transform="rotate(-90 32.00 285.30)">Relative cell proliferation</text>
<text x="54.60" y="229.80" font-size="10.27" textLength="30.80" lengthAdjust="spacingAndGlyphs">RWPE1</text>
<polyline points="50.40,333.94 79.30,326.32 108.20,317.01 137.10,297.54 166.00,293.31" fill="none" stroke="#3fca78" stroke-width="1.5"/>
<polyline points="50.40,333.94 79.30,302.62 108.20,295.85 137.10,257.76 166.00,236.60" fill="none" stroke="#2b2a6b" stroke-width="1.6"/>
<path d="M79.3,324.2178571428571 L81.39999999999999,326.3178571428571 L79.3,328.41785714285714 L77.2,326.3178571428571Z" fill="#3fca78" stroke="none" stroke-width="1"/>
<path d="M108.19999999999999,314.90714285714284 L110.29999999999998,317.00714285714287 L108.19999999999999,319.1071428571429 L106.1,317.00714285714287Z" fill="#3fca78" stroke="none" stroke-width="1"/>
<path d="M137.1,295.4392857142857 L139.2,297.5392857142857 L137.1,299.63928571428573 L135.0,297.5392857142857Z" fill="#3fca78" stroke="none" stroke-width="1"/>
<path d="M166.0,291.2071428571428 L168.1,293.3071428571428 L166.0,295.40714285714284 L163.9,293.3071428571428Z" fill="#3fca78" stroke="none" stroke-width="1"/>
<rect x="48.30" y="331.84" width="4.20" height="4.20" fill="#2b2a6b"/>
<rect x="77.20" y="300.52" width="4.20" height="4.20" fill="#2b2a6b"/>
<rect x="106.10" y="293.75" width="4.20" height="4.20" fill="#2b2a6b"/>
<rect x="135.00" y="255.66" width="4.20" height="4.20" fill="#2b2a6b"/>
<rect x="163.90" y="234.50" width="4.20" height="4.20" fill="#2b2a6b"/>
<line x1="56.50" y1="246.20" x2="73.00" y2="246.20" stroke="#3fca78" stroke-width="1.5"/>
<path d="M64.7,244.1 L66.8,246.2 L64.7,248.3 L62.6,246.2Z" fill="#3fca78" stroke="none" stroke-width="1"/>
<text x="74.90" y="249.40" font-size="10.27" textLength="14.40" lengthAdjust="spacingAndGlyphs">CTL</text>
<line x1="56.50" y1="259.30" x2="73.00" y2="259.30" stroke="#2b2a6b" stroke-width="1.6"/>
<rect x="62.60" y="257.20" width="4.20" height="4.20" fill="#2b2a6b"/>
<text x="74.90" y="262.50" font-size="10.27" textLength="19.20" lengthAdjust="spacingAndGlyphs">DLX1</text>
<polyline points="171.00,233.40 174.20,233.40 174.20,290.70 171.00,290.70" fill="none" stroke="#444" stroke-width="0.8"/>
<text x="182.80" y="260.50" font-size="7.38" text-anchor="middle" textLength="28.50" lengthAdjust="spacingAndGlyphs" transform="rotate(-90 182.80 260.50)"><tspan font-style="italic">P</tspan>&lt;0.0001</text>
<text x="204.00" y="201.00" font-size="16.91" font-weight="bold" fill="#000">f</text>
<defs><radialGradient id="fociA" cx="0.45" cy="0.45" r="0.6"><stop offset="0" stop-color="#d9cfcf"/><stop offset="0.7" stop-color="#d6cdd6"/><stop offset="1" stop-color="#cfc6d4"/></radialGradient>
<radialGradient id="fociB" cx="0.5" cy="0.5" r="0.6"><stop offset="0" stop-color="#dcd0e2"/><stop offset="1" stop-color="#d4c6e2"/></radialGradient></defs>
<defs><filter id="blur04" x="-5%" y="-5%" width="110%" height="110%"><feGaussianBlur stdDeviation="0.45"/></filter><clipPath id="fc1"><circle cx="260.4" cy="213" r="17.8"/></clipPath><clipPath id="fc2"><circle cx="301.6" cy="213" r="17.8"/></clipPath></defs>
<circle cx="260.40" cy="213.00" r="18.10" fill="url(#fociA)" stroke="#9a8f93" stroke-width="0.7"/>
<circle cx="301.60" cy="213.00" r="18.10" fill="url(#fociB)" stroke="#9a8f93" stroke-width="0.7"/>
<g clip-path="url(#fc1)"><g filter="url(#blur04)">
<ellipse cx="254.3" cy="201.1" rx="3.5" ry="1.1" fill="#c2b4a0" opacity="0.55"/>
<ellipse cx="255.8" cy="198.0" rx="3.0" ry="1.1" fill="#d8cce0" opacity="0.55"/>
<ellipse cx="257.6" cy="204.2" rx="3.2" ry="1.1" fill="#c2b4a0" opacity="0.55"/>
<ellipse cx="276.2" cy="217.4" rx="3.2" ry="1.1" fill="#d8cce0" opacity="0.55"/>
<ellipse cx="244.7" cy="203.5" rx="3.2" ry="1.3" fill="#d8cce0" opacity="0.55"/>
<ellipse cx="248.0" cy="200.0" rx="2.4" ry="2.6" fill="#bfae9a" opacity="0.55"/>
<ellipse cx="246.6" cy="215.4" rx="2.1" ry="1.2" fill="#c2b4a0" opacity="0.55"/>
<ellipse cx="262.8" cy="217.0" rx="3.0" ry="2.1" fill="#e0d8e4" opacity="0.55"/>
<ellipse cx="259.3" cy="227.4" rx="2.6" ry="1.5" fill="#bfae9a" opacity="0.55"/>
<ellipse cx="267.5" cy="204.3" rx="3.2" ry="2.1" fill="#e0d8e4" opacity="0.55"/>
<ellipse cx="268.5" cy="205.8" rx="4.4" ry="1.2" fill="#d8cce0" opacity="0.55"/>
<ellipse cx="248.8" cy="207.6" rx="4.3" ry="1.8" fill="#c2b4a0" opacity="0.55"/>
<ellipse cx="269.8" cy="215.5" rx="4.1" ry="1.6" fill="#e0d8e4" opacity="0.55"/>
<ellipse cx="263.8" cy="215.7" rx="2.9" ry="2.7" fill="#e0d8e4" opacity="0.55"/>
<ellipse cx="259.6" cy="218.6" rx="1.7" ry="2.4" fill="#d8cce0" opacity="0.55"/>
<ellipse cx="253.0" cy="209.1" rx="3.5" ry="1.0" fill="#d8cce0" opacity="0.55"/>
<ellipse cx="255.4" cy="216.8" rx="3.0" ry="1.4" fill="#e0d8e4" opacity="0.55"/>
<ellipse cx="247.5" cy="204.4" rx="2.7" ry="2.7" fill="#c2b4a0" opacity="0.55"/>
<ellipse cx="248.8" cy="209.7" rx="2.3" ry="1.3" fill="#d8cce0" opacity="0.55"/>
<ellipse cx="273.2" cy="205.5" rx="2.7" ry="1.7" fill="#d8cce0" opacity="0.55"/>
<ellipse cx="276.5" cy="201.1" rx="2.0" ry="1.5" fill="#bfae9a" opacity="0.55"/>
<ellipse cx="243.4" cy="224.3" rx="2.0" ry="1.6" fill="#bfae9a" opacity="0.55"/>
<circle cx="265.80" cy="205.00" r="1.50" fill="#7d55c8"/>
<circle cx="267.50" cy="204.60" r="1.20" fill="#7d55c8"/>
<circle cx="272.20" cy="210.80" r="1.10" fill="#7d55c8"/>
<circle cx="276.10" cy="209.20" r="1.00" fill="#7d55c8"/>
<circle cx="245.30" cy="214.50" r="1.30" fill="#7d55c8"/>
<circle cx="258.00" cy="210.00" r="0.40" fill="#7d55c8"/>
<circle cx="256.00" cy="222.00" r="0.50" fill="#7d55c8"/>
</g></g><g clip-path="url(#fc2)"><g filter="url(#blur04)">
<ellipse cx="298.7" cy="208.6" rx="3.2" ry="2.9" fill="#cdbde0" opacity="0.55"/>
<ellipse cx="314.1" cy="228.3" rx="3.5" ry="2.5" fill="#e4d8ee" opacity="0.55"/>
<ellipse cx="315.5" cy="222.5" rx="4.1" ry="2.6" fill="#e4d8ee" opacity="0.55"/>
<ellipse cx="297.9" cy="209.4" rx="2.9" ry="1.8" fill="#c8b8a8" opacity="0.55"/>
<ellipse cx="286.4" cy="203.1" rx="2.0" ry="1.7" fill="#c8b8a8" opacity="0.55"/>
<ellipse cx="287.6" cy="215.3" rx="3.1" ry="2.9" fill="#cdbde0" opacity="0.55"/>
<ellipse cx="284.9" cy="225.7" rx="3.3" ry="1.3" fill="#e4d8ee" opacity="0.55"/>
<ellipse cx="317.4" cy="216.5" rx="2.9" ry="1.2" fill="#e4d8ee" opacity="0.55"/>
<ellipse cx="318.8" cy="211.8" rx="3.0" ry="1.2" fill="#c8b8a8" opacity="0.55"/>
<ellipse cx="310.2" cy="221.2" rx="2.9" ry="2.4" fill="#cdbde0" opacity="0.55"/>
<ellipse cx="284.8" cy="228.3" rx="3.1" ry="1.3" fill="#cdbde0" opacity="0.55"/>
<ellipse cx="316.0" cy="221.8" rx="2.4" ry="2.3" fill="#c8b8a8" opacity="0.55"/>
<ellipse cx="308.4" cy="204.9" rx="2.6" ry="1.3" fill="#c8b8a8" opacity="0.55"/>
<ellipse cx="302.6" cy="222.5" rx="2.5" ry="1.4" fill="#c8b8a8" opacity="0.55"/>
<ellipse cx="312.2" cy="223.8" rx="3.7" ry="1.5" fill="#cdbde0" opacity="0.55"/>
<ellipse cx="301.2" cy="220.9" rx="4.5" ry="2.6" fill="#e4d8ee" opacity="0.55"/>
<ellipse cx="293.1" cy="219.5" rx="4.4" ry="1.9" fill="#cdbde0" opacity="0.55"/>
<ellipse cx="318.6" cy="228.5" rx="2.6" ry="1.4" fill="#c8b8a8" opacity="0.55"/>
<circle cx="290.80" cy="202.60" r="1.80" fill="#7048c0"/>
<circle cx="300.20" cy="198.30" r="1.50" fill="#7048c0"/>
<circle cx="303.20" cy="203.10" r="1.10" fill="#7048c0"/>
<circle cx="303.80" cy="206.90" r="1.10" fill="#7048c0"/>
<circle cx="306.60" cy="211.50" r="1.50" fill="#7048c0"/>
<circle cx="304.10" cy="209.30" r="1.20" fill="#7048c0"/>
<circle cx="293.40" cy="213.90" r="1.30" fill="#7048c0"/>
<circle cx="290.80" cy="217.20" r="1.80" fill="#7048c0"/>
<circle cx="292.60" cy="222.20" r="1.80" fill="#7048c0"/>
<circle cx="304.40" cy="218.50" r="1.50" fill="#7048c0"/>
<circle cx="302.00" cy="225.00" r="1.00" fill="#7048c0"/>
<circle cx="306.40" cy="228.40" r="1.60" fill="#7048c0"/>
<circle cx="310.00" cy="226.00" r="0.90" fill="#7048c0"/>
<circle cx="314.80" cy="203.40" r="1.00" fill="#7048c0"/>
<circle cx="317.40" cy="215.50" r="0.90" fill="#7048c0"/>
<circle cx="311.10" cy="198.40" r="0.70" fill="#7048c0"/>
<circle cx="297.00" cy="206.00" r="0.50" fill="#7048c0"/>
<circle cx="286.00" cy="210.00" r="0.50" fill="#7048c0"/>
</g></g>
<line x1="263.50" y1="226.20" x2="268.50" y2="226.20" stroke="#555" stroke-width="0.5"/>
<line x1="238.80" y1="243.10" x2="238.80" y2="348.60" stroke="#231f20" stroke-width="1.1"/>
<line x1="238.30" y1="348.10" x2="333.80" y2="348.10" stroke="#231f20" stroke-width="1.1"/>
<line x1="235.60" y1="348.10" x2="238.80" y2="348.10" stroke="#231f20" stroke-width="1.1"/>
<text x="234.40" y="351.50" font-size="10.06" text-anchor="end" textLength="4.75" lengthAdjust="spacingAndGlyphs">0</text>
<line x1="235.60" y1="321.95" x2="238.80" y2="321.95" stroke="#231f20" stroke-width="1.1"/>
<text x="234.40" y="325.35" font-size="10.06" text-anchor="end" textLength="14.25" lengthAdjust="spacingAndGlyphs">100</text>
<line x1="235.60" y1="295.80" x2="238.80" y2="295.80" stroke="#231f20" stroke-width="1.1"/>
<text x="234.40" y="299.20" font-size="10.06" text-anchor="end" textLength="14.25" lengthAdjust="spacingAndGlyphs">200</text>
<line x1="235.60" y1="269.65" x2="238.80" y2="269.65" stroke="#231f20" stroke-width="1.1"/>
<text x="234.40" y="273.05" font-size="10.06" text-anchor="end" textLength="14.25" lengthAdjust="spacingAndGlyphs">300</text>
<line x1="235.60" y1="243.50" x2="238.80" y2="243.50" stroke="#231f20" stroke-width="1.1"/>
<text x="234.40" y="246.90" font-size="10.06" text-anchor="end" textLength="14.25" lengthAdjust="spacingAndGlyphs">400</text>
<rect x="254.90" y="321.95" width="15.80" height="26.15" fill="#3fca78"/>
<rect x="302.60" y="264.94" width="15.50" height="83.16" fill="#2b2a6b"/>
<circle cx="260.60" cy="321.95" r="1.32" fill="#111"/>
<circle cx="262.80" cy="321.95" r="1.32" fill="#111"/>
<circle cx="265.00" cy="321.95" r="1.32" fill="#111"/>
<circle cx="308.10" cy="264.54" r="1.32" fill="#111"/>
<circle cx="310.30" cy="265.24" r="1.32" fill="#111"/>
<circle cx="312.50" cy="265.44" r="1.32" fill="#111"/>
<line x1="310.30" y1="263.90" x2="310.30" y2="265.99" stroke="#231f20" stroke-width="0.8"/>
<text x="244.30" y="255.00" font-size="10.27" textLength="31.10" lengthAdjust="spacingAndGlyphs">RWPE1</text>
<text x="296.20" y="257.20" font-size="7.7" textLength="29.10" lengthAdjust="spacingAndGlyphs"><tspan font-style="italic">P</tspan>&lt;0.0001</text>
<text x="214.50" y="294.20" font-size="10.06" text-anchor="middle" textLength="76.30" lengthAdjust="spacingAndGlyphs" transform="rotate(-90 214.50 294.20)">Foci formation (%)</text>
<text x="262.80" y="362.00" font-size="10.06" text-anchor="middle" textLength="15.50" lengthAdjust="spacingAndGlyphs">CTL</text>
<text x="310.30" y="362.00" font-size="10.06" text-anchor="middle" textLength="20.50" lengthAdjust="spacingAndGlyphs">DLX1</text>
<text x="341.60" y="201.70" font-size="16.91" font-weight="bold" fill="#000">g</text>
<rect x="380.6" y="196.6" width="87.6" height="33.2" fill="#fff" stroke="#3a3a3a" stroke-width="1.3"/>
<clipPath id="gclipL"><rect x="381.3" y="197.3" width="42.8" height="31.8"/></clipPath><clipPath id="gclipR"><rect x="424.9" y="197.3" width="42.6" height="31.8"/></clipPath>
<g clip-path="url(#gclipL)"><g filter="url(#blur04)">
<rect x="380.30" y="196.30" width="44.80" height="33.80" fill="#f6eef6"/>
<circle cx="388.48" cy="219.09" r="0.64" fill="#ead2ee"/>
<circle cx="417.17" cy="228.48" r="0.56" fill="#d4b0e4"/>
<circle cx="402.87" cy="204.89" r="0.35" fill="#c8a4e0"/>
<circle cx="420.96" cy="210.90" r="0.42" fill="#d4b0e4"/>
<circle cx="420.48" cy="219.22" r="0.55" fill="#ead2ee"/>
<circle cx="407.55" cy="198.57" r="0.50" fill="#ead2ee"/>
<circle cx="410.85" cy="217.81" r="0.77" fill="#e2c2ea"/>
<circle cx="388.05" cy="223.09" r="0.41" fill="#e2c2ea"/>
<circle cx="400.67" cy="214.78" r="0.50" fill="#ead2ee"/>
<circle cx="387.89" cy="218.32" r="0.56" fill="#d4b0e4"/>
<circle cx="384.66" cy="203.68" r="0.65" fill="#e2c2ea"/>
<circle cx="386.68" cy="212.41" r="0.72" fill="#d4b0e4"/>
<circle cx="395.93" cy="202.07" r="0.59" fill="#c8a4e0"/>
<circle cx="396.95" cy="211.63" r="0.52" fill="#ead2ee"/>
<circle cx="397.85" cy="198.34" r="0.39" fill="#ead2ee"/>
<circle cx="381.62" cy="199.69" r="0.62" fill="#d4b0e4"/>
<circle cx="405.68" cy="207.47" r="0.79" fill="#e2c2ea"/>
<circle cx="389.14" cy="202.82" r="0.51" fill="#c8a4e0"/>
<circle cx="396.16" cy="216.19" r="0.49" fill="#e2c2ea"/>
<circle cx="388.64" cy="226.39" r="0.43" fill="#ead2ee"/>
<circle cx="397.36" cy="218.89" r="0.65" fill="#d4b0e4"/>
<circle cx="398.72" cy="228.46" r="0.78" fill="#e2c2ea"/>
<circle cx="418.86" cy="212.87" r="0.52" fill="#d4b0e4"/>
<circle cx="421.10" cy="205.20" r="0.60" fill="#ead2ee"/>
<circle cx="415.56" cy="221.72" r="0.57" fill="#c8a4e0"/>
<circle cx="383.71" cy="205.57" r="0.48" fill="#ead2ee"/>
<circle cx="392.02" cy="209.85" r="0.74" fill="#d4b0e4"/>
<circle cx="423.10" cy="220.85" r="0.57" fill="#c8a4e0"/>
<circle cx="387.40" cy="217.85" r="0.76" fill="#ead2ee"/>
<circle cx="382.70" cy="204.14" r="0.73" fill="#d4b0e4"/>
<circle cx="418.79" cy="216.32" r="0.54" fill="#ead2ee"/>
<circle cx="394.53" cy="214.22" r="0.47" fill="#e2c2ea"/>
<circle cx="397.67" cy="201.44" r="0.67" fill="#c8a4e0"/>
<circle cx="406.61" cy="217.65" r="0.73" fill="#ead2ee"/>
<circle cx="392.38" cy="210.20" r="0.78" fill="#d4b0e4"/>
<circle cx="387.15" cy="200.47" r="0.39" fill="#e2c2ea"/>
<circle cx="408.65" cy="222.11" r="0.38" fill="#e2c2ea"/>
<circle cx="409.22" cy="201.46" r="0.59" fill="#c8a4e0"/>
<circle cx="398.26" cy="225.29" r="0.63" fill="#d4b0e4"/>
<circle cx="389.28" cy="209.33" r="0.67" fill="#e2c2ea"/>
<circle cx="407.04" cy="213.30" r="0.69" fill="#e2c2ea"/>
<circle cx="414.95" cy="197.74" r="0.56" fill="#e2c2ea"/>
<circle cx="398.33" cy="215.25" r="0.73" fill="#d4b0e4"/>
<circle cx="392.20" cy="219.31" r="0.49" fill="#e2c2ea"/>
<circle cx="391.85" cy="202.39" r="0.68" fill="#c8a4e0"/>
<circle cx="416.08" cy="222.64" r="0.57" fill="#e2c2ea"/>
<circle cx="404.57" cy="199.38" r="0.62" fill="#c8a4e0"/>
<circle cx="422.41" cy="207.21" r="0.66" fill="#d4b0e4"/>
<circle cx="384.20" cy="223.00" r="0.79" fill="#c8a4e0"/>
<circle cx="384.26" cy="218.09" r="0.54" fill="#e2c2ea"/>
<circle cx="409.07" cy="217.11" r="0.71" fill="#ead2ee"/>
<circle cx="402.86" cy="227.14" r="0.66" fill="#ead2ee"/>
<circle cx="401.42" cy="213.56" r="0.74" fill="#e2c2ea"/>
<circle cx="391.04" cy="199.03" r="0.55" fill="#d4b0e4"/>
<circle cx="393.16" cy="215.95" r="0.53" fill="#ead2ee"/>
<circle cx="400.79" cy="204.90" r="0.52" fill="#ead2ee"/>
<circle cx="391.14" cy="226.13" r="0.64" fill="#e2c2ea"/>
<circle cx="401.79" cy="212.90" r="0.67" fill="#d4b0e4"/>
<circle cx="414.47" cy="217.12" r="0.69" fill="#c8a4e0"/>
<circle cx="391.88" cy="226.19" r="0.52" fill="#ead2ee"/>
<circle cx="416.39" cy="227.66" r="0.80" fill="#e2c2ea"/>
<circle cx="388.35" cy="203.82" r="0.74" fill="#d4b0e4"/>
<circle cx="385.34" cy="202.99" r="0.59" fill="#ead2ee"/>
<circle cx="412.90" cy="211.97" r="0.40" fill="#d4b0e4"/>
<circle cx="411.28" cy="203.94" r="0.50" fill="#d4b0e4"/>
<circle cx="392.53" cy="227.27" r="0.49" fill="#c8a4e0"/>
<circle cx="421.47" cy="227.77" r="0.75" fill="#d4b0e4"/>
<circle cx="391.58" cy="219.04" r="0.67" fill="#d4b0e4"/>
<circle cx="421.29" cy="212.12" r="0.55" fill="#c8a4e0"/>
<circle cx="409.82" cy="218.40" r="0.63" fill="#e2c2ea"/>
<circle cx="389.47" cy="227.57" r="0.37" fill="#c8a4e0"/>
<circle cx="382.30" cy="213.19" r="0.37" fill="#ead2ee"/>
<circle cx="411.13" cy="205.02" r="0.35" fill="#d4b0e4"/>
<circle cx="385.50" cy="207.17" r="0.55" fill="#e2c2ea"/>
<circle cx="397.15" cy="201.72" r="0.71" fill="#ead2ee"/>
<circle cx="403.89" cy="199.04" r="0.43" fill="#ead2ee"/>
<circle cx="418.83" cy="205.15" r="0.61" fill="#ead2ee"/>
<circle cx="418.87" cy="198.05" r="0.61" fill="#e2c2ea"/>
<circle cx="399.93" cy="223.56" r="0.80" fill="#d4b0e4"/>
<circle cx="387.93" cy="213.07" r="0.59" fill="#ead2ee"/>
<circle cx="401.43" cy="222.54" r="0.50" fill="#c8a4e0"/>
<circle cx="387.99" cy="206.51" r="0.64" fill="#e2c2ea"/>
<circle cx="419.15" cy="199.72" r="0.38" fill="#e2c2ea"/>
<circle cx="410.18" cy="203.44" r="0.47" fill="#e2c2ea"/>
<circle cx="388.36" cy="215.82" r="0.47" fill="#ead2ee"/>
<circle cx="388.19" cy="200.76" r="0.77" fill="#c8a4e0"/>
<circle cx="398.78" cy="219.12" r="0.68" fill="#ead2ee"/>
<circle cx="384.81" cy="223.39" r="0.45" fill="#e2c2ea"/>
<circle cx="412.28" cy="216.49" r="0.63" fill="#d4b0e4"/>
<circle cx="382.39" cy="209.03" r="0.57" fill="#ead2ee"/>
<circle cx="415.63" cy="225.87" r="0.66" fill="#d4b0e4"/>
<circle cx="410.30" cy="217.78" r="0.63" fill="#e2c2ea"/>
<circle cx="422.54" cy="209.71" r="0.77" fill="#c8a4e0"/>
<circle cx="381.98" cy="208.52" r="0.63" fill="#e2c2ea"/>
<circle cx="413.47" cy="217.75" r="0.42" fill="#ead2ee"/>
<circle cx="390.25" cy="228.74" r="0.60" fill="#ead2ee"/>
<circle cx="412.80" cy="225.13" r="0.51" fill="#e2c2ea"/>
<circle cx="391.65" cy="216.26" r="0.51" fill="#c8a4e0"/>
<circle cx="405.73" cy="228.62" r="0.76" fill="#e2c2ea"/>
<circle cx="423.14" cy="220.66" r="0.68" fill="#d4b0e4"/>
<circle cx="420.74" cy="213.87" r="0.75" fill="#c8a4e0"/>
<circle cx="386.70" cy="205.01" r="0.54" fill="#ead2ee"/>
<circle cx="414.11" cy="221.02" r="0.64" fill="#c8a4e0"/>
<circle cx="389.30" cy="223.39" r="0.45" fill="#ead2ee"/>
<circle cx="392.73" cy="214.33" r="0.56" fill="#e2c2ea"/>
<circle cx="414.88" cy="208.02" r="0.55" fill="#c8a4e0"/>
<circle cx="412.66" cy="220.38" r="0.80" fill="#ead2ee"/>
<circle cx="387.52" cy="198.53" r="0.70" fill="#c8a4e0"/>
<circle cx="405.88" cy="228.73" r="0.44" fill="#d4b0e4"/>
<circle cx="418.30" cy="214.82" r="0.69" fill="#e2c2ea"/>
<circle cx="382.65" cy="226.18" r="0.41" fill="#c8a4e0"/>
<circle cx="401.02" cy="209.69" r="0.63" fill="#e2c2ea"/>
<circle cx="418.10" cy="221.02" r="0.52" fill="#c8a4e0"/>
<circle cx="412.56" cy="211.86" r="0.41" fill="#d4b0e4"/>
<circle cx="406.68" cy="207.93" r="0.73" fill="#c8a4e0"/>
<circle cx="392.02" cy="201.57" r="0.69" fill="#c8a4e0"/>
<circle cx="385.91" cy="216.81" r="0.64" fill="#d4b0e4"/>
<circle cx="387.16" cy="221.64" r="0.57" fill="#e2c2ea"/>
<circle cx="410.54" cy="207.99" r="0.64" fill="#c8a4e0"/>
<circle cx="381.89" cy="223.88" r="0.48" fill="#c8a4e0"/>
<circle cx="410.96" cy="210.45" r="0.41" fill="#e2c2ea"/>
<circle cx="423.65" cy="204.78" r="0.67" fill="#ead2ee"/>
<circle cx="402.68" cy="227.62" r="0.52" fill="#e2c2ea"/>
<circle cx="408.39" cy="208.95" r="0.51" fill="#ead2ee"/>
<circle cx="408.39" cy="211.80" r="0.58" fill="#d4b0e4"/>
<circle cx="400.07" cy="204.78" r="0.73" fill="#ead2ee"/>
<circle cx="417.18" cy="221.75" r="0.76" fill="#e2c2ea"/>
<circle cx="396.09" cy="202.33" r="0.36" fill="#c8a4e0"/>
<circle cx="395.33" cy="207.78" r="0.45" fill="#e2c2ea"/>
<circle cx="400.82" cy="203.82" r="0.35" fill="#d4b0e4"/>
<circle cx="417.34" cy="204.42" r="0.40" fill="#e2c2ea"/>
<circle cx="408.09" cy="201.33" r="0.41" fill="#d4b0e4"/>
<circle cx="404.29" cy="200.16" r="0.46" fill="#e2c2ea"/>
<circle cx="391.85" cy="211.02" r="0.70" fill="#e2c2ea"/>
<circle cx="398.41" cy="227.53" r="0.71" fill="#c8a4e0"/>
<circle cx="418.91" cy="210.58" r="0.61" fill="#e2c2ea"/>
<circle cx="419.21" cy="221.64" r="0.61" fill="#d4b0e4"/>
<circle cx="383.11" cy="217.55" r="0.70" fill="#c8a4e0"/>
<circle cx="414.33" cy="220.03" r="0.59" fill="#d4b0e4"/>
<circle cx="393.73" cy="209.11" r="0.57" fill="#c8a4e0"/>
<circle cx="397.97" cy="222.58" r="0.37" fill="#c8a4e0"/>
<circle cx="406.24" cy="212.74" r="0.72" fill="#d4b0e4"/>
<circle cx="413.37" cy="202.18" r="0.49" fill="#e2c2ea"/>
<circle cx="392.91" cy="218.70" r="0.76" fill="#e2c2ea"/>
<circle cx="397.33" cy="224.58" r="0.54" fill="#e2c2ea"/>
<circle cx="408.05" cy="212.32" r="0.60" fill="#c8a4e0"/>
<circle cx="412.20" cy="198.96" r="0.63" fill="#c8a4e0"/>
<circle cx="399.90" cy="221.61" r="0.36" fill="#d4b0e4"/>
<circle cx="388.38" cy="204.31" r="0.42" fill="#c8a4e0"/>
<circle cx="382.06" cy="221.71" r="0.73" fill="#ead2ee"/>
<circle cx="392.02" cy="208.60" r="0.73" fill="#d4b0e4"/>
<circle cx="393.35" cy="216.10" r="0.72" fill="#c8a4e0"/>
<circle cx="401.81" cy="207.78" r="0.75" fill="#d4b0e4"/>
<circle cx="393.67" cy="220.98" r="0.66" fill="#e2c2ea"/>
<circle cx="418.68" cy="205.20" r="0.80" fill="#c8a4e0"/>
<circle cx="405.18" cy="223.20" r="0.70" fill="#ead2ee"/>
<circle cx="382.68" cy="215.59" r="0.76" fill="#d4b0e4"/>
<circle cx="415.09" cy="216.67" r="0.68" fill="#e2c2ea"/>
<circle cx="418.39" cy="225.47" r="0.72" fill="#d4b0e4"/>
<circle cx="402.62" cy="219.46" r="0.58" fill="#d4b0e4"/>
<circle cx="409.21" cy="210.98" r="0.65" fill="#c8a4e0"/>
<circle cx="414.07" cy="213.75" r="0.37" fill="#e2c2ea"/>
<circle cx="413.41" cy="202.69" r="0.40" fill="#ead2ee"/>
<circle cx="383.55" cy="217.43" r="0.40" fill="#c8a4e0"/>
<circle cx="409.11" cy="224.80" r="0.48" fill="#ead2ee"/>
<circle cx="421.73" cy="214.84" r="0.48" fill="#e2c2ea"/>
<circle cx="411.19" cy="223.63" r="0.79" fill="#c8a4e0"/>
<circle cx="401.10" cy="225.91" r="0.75" fill="#c8a4e0"/>
<circle cx="417.29" cy="201.73" r="0.51" fill="#c8a4e0"/>
<circle cx="390.16" cy="202.54" r="0.39" fill="#d4b0e4"/>
<circle cx="381.65" cy="208.16" r="0.43" fill="#c8a4e0"/>
<circle cx="410.83" cy="213.29" r="0.37" fill="#e2c2ea"/>
<circle cx="388.84" cy="215.44" r="0.60" fill="#d4b0e4"/>
<circle cx="417.33" cy="216.96" r="0.43" fill="#d4b0e4"/>
<circle cx="385.62" cy="226.56" r="0.49" fill="#c8a4e0"/>
<circle cx="395.30" cy="220.26" r="0.52" fill="#c8a4e0"/>
<circle cx="413.06" cy="220.33" r="0.46" fill="#c8a4e0"/>
<circle cx="391.13" cy="223.21" r="0.70" fill="#d4b0e4"/>
<circle cx="423.63" cy="200.12" r="0.78" fill="#ead2ee"/>
<circle cx="401.00" cy="219.18" r="0.70" fill="#d4b0e4"/>
<circle cx="411.93" cy="211.22" r="0.37" fill="#ead2ee"/>
<circle cx="420.06" cy="200.15" r="0.67" fill="#ead2ee"/>
<circle cx="419.76" cy="226.70" r="0.72" fill="#e2c2ea"/>
<circle cx="407.57" cy="197.78" r="0.69" fill="#c8a4e0"/>
<circle cx="403.54" cy="220.09" r="0.35" fill="#e2c2ea"/>
<circle cx="418.36" cy="228.37" r="0.78" fill="#e2c2ea"/>
<circle cx="405.79" cy="208.88" r="0.62" fill="#ead2ee"/>
<circle cx="414.83" cy="212.79" r="0.47" fill="#c8a4e0"/>
<circle cx="408.55" cy="227.93" r="0.49" fill="#d4b0e4"/>
<circle cx="388.25" cy="210.37" r="0.49" fill="#c8a4e0"/>
<circle cx="414.03" cy="209.78" r="0.69" fill="#c8a4e0"/>
<circle cx="404.06" cy="199.10" r="0.39" fill="#d4b0e4"/>
<circle cx="419.08" cy="211.90" r="0.56" fill="#d4b0e4"/>
<circle cx="409.33" cy="212.31" r="0.70" fill="#c8a4e0"/>
<circle cx="394.90" cy="215.96" r="0.57" fill="#ead2ee"/>
<circle cx="413.33" cy="217.31" r="0.77" fill="#c8a4e0"/>
<circle cx="390.11" cy="203.12" r="0.59" fill="#d4b0e4"/>
<circle cx="385.51" cy="220.15" r="0.47" fill="#ead2ee"/>
<circle cx="399.41" cy="214.25" r="0.46" fill="#c8a4e0"/>
<circle cx="385.18" cy="216.44" r="0.71" fill="#e2c2ea"/>
<circle cx="417.36" cy="215.13" r="0.38" fill="#d4b0e4"/>
<circle cx="410.97" cy="213.48" r="0.60" fill="#d4b0e4"/>
<circle cx="408.59" cy="219.36" r="0.80" fill="#ead2ee"/>
<circle cx="392.54" cy="219.17" r="0.54" fill="#e2c2ea"/>
<circle cx="411.59" cy="227.81" r="0.54" fill="#c8a4e0"/>
<circle cx="420.90" cy="217.21" r="0.74" fill="#ead2ee"/>
<circle cx="393.48" cy="220.43" r="0.45" fill="#c8a4e0"/>
<circle cx="392.15" cy="227.57" r="0.59" fill="#e2c2ea"/>
<circle cx="392.65" cy="202.52" r="0.75" fill="#d4b0e4"/>
<circle cx="385.87" cy="218.01" r="0.76" fill="#d4b0e4"/>
<circle cx="414.11" cy="202.91" r="0.62" fill="#e2c2ea"/>
<circle cx="382.93" cy="199.11" r="0.65" fill="#d4b0e4"/>
<circle cx="388.63" cy="209.92" r="0.72" fill="#ead2ee"/>
<circle cx="414.73" cy="228.22" r="0.42" fill="#ead2ee"/>
<circle cx="408.73" cy="211.52" r="0.53" fill="#ead2ee"/>
<circle cx="396.00" cy="218.53" r="0.44" fill="#d4b0e4"/>
<circle cx="385.70" cy="228.19" r="0.37" fill="#ead2ee"/>
<circle cx="415.36" cy="208.05" r="0.53" fill="#ead2ee"/>
<circle cx="393.05" cy="222.91" r="0.76" fill="#e2c2ea"/>
<circle cx="413.29" cy="228.03" r="0.59" fill="#c8a4e0"/>
<circle cx="387.72" cy="213.66" r="0.39" fill="#e2c2ea"/>
<circle cx="400.80" cy="210.39" r="0.55" fill="#ead2ee"/>
<circle cx="413.72" cy="225.17" r="0.71" fill="#ead2ee"/>
<circle cx="391.79" cy="225.95" r="0.70" fill="#c8a4e0"/>
<circle cx="391.71" cy="205.75" r="0.61" fill="#ead2ee"/>
<circle cx="391.34" cy="226.90" r="0.68" fill="#ead2ee"/>
<circle cx="397.58" cy="208.22" r="0.78" fill="#d4b0e4"/>
<circle cx="394.74" cy="223.83" r="0.48" fill="#c8a4e0"/>
<circle cx="410.45" cy="198.32" r="0.63" fill="#c8a4e0"/>
<circle cx="384.45" cy="201.18" r="0.57" fill="#ead2ee"/>
<circle cx="395.01" cy="223.91" r="0.54" fill="#ead2ee"/>
<circle cx="391.12" cy="205.62" r="0.70" fill="#d4b0e4"/>
<circle cx="388.99" cy="220.97" r="0.38" fill="#c8a4e0"/>
<circle cx="408.10" cy="214.08" r="0.78" fill="#ead2ee"/>
<circle cx="402.26" cy="225.78" r="0.69" fill="#d4b0e4"/>
<circle cx="385.18" cy="216.84" r="0.78" fill="#ead2ee"/>
<circle cx="389.58" cy="222.43" r="0.45" fill="#d4b0e4"/>
<circle cx="382.29" cy="217.80" r="0.44" fill="#c8a4e0"/>
<circle cx="406.83" cy="216.21" r="0.68" fill="#e2c2ea"/>
<circle cx="420.72" cy="206.30" r="0.39" fill="#c8a4e0"/>
<circle cx="418.61" cy="221.36" r="0.37" fill="#d4b0e4"/>
<circle cx="420.32" cy="222.45" r="0.54" fill="#e2c2ea"/>
<circle cx="397.31" cy="212.45" r="0.64" fill="#e2c2ea"/>
<circle cx="382.33" cy="225.50" r="0.36" fill="#ead2ee"/>
<circle cx="404.84" cy="215.94" r="0.49" fill="#ead2ee"/>
<circle cx="411.53" cy="225.99" r="0.61" fill="#c8a4e0"/>
<circle cx="415.97" cy="218.99" r="0.47" fill="#c8a4e0"/>
<circle cx="394.47" cy="220.02" r="0.41" fill="#d4b0e4"/>
<circle cx="405.57" cy="223.42" r="0.58" fill="#d4b0e4"/>
<circle cx="397.94" cy="213.86" r="0.71" fill="#e2c2ea"/>
<circle cx="392.46" cy="219.22" r="0.70" fill="#c8a4e0"/>
<circle cx="397.61" cy="212.37" r="0.76" fill="#e2c2ea"/>
<circle cx="402.05" cy="217.33" r="0.73" fill="#d4b0e4"/>
<circle cx="404.05" cy="208.04" r="0.35" fill="#ead2ee"/>
<circle cx="411.43" cy="217.37" r="0.53" fill="#d4b0e4"/>
<circle cx="381.55" cy="197.97" r="0.79" fill="#e2c2ea"/>
<circle cx="387.58" cy="205.66" r="0.37" fill="#d4b0e4"/>
<circle cx="401.72" cy="217.49" r="0.72" fill="#d4b0e4"/>
<circle cx="421.33" cy="224.21" r="0.49" fill="#d4b0e4"/>
<circle cx="387.01" cy="208.39" r="0.54" fill="#c8a4e0"/>
</g></g><g clip-path="url(#gclipR)"><g filter="url(#blur04)">
<rect x="423.90" y="196.30" width="44.60" height="33.80" fill="#ecd6ee"/>
<circle cx="439.16" cy="207.93" r="1.39" fill="#9a6cd0"/>
<circle cx="437.98" cy="209.23" r="1.31" fill="#8c5ec8"/>
<circle cx="435.46" cy="209.12" r="1.12" fill="#7446b8"/>
<circle cx="438.10" cy="211.65" r="0.91" fill="#7f52c2"/>
<circle cx="456.86" cy="197.94" r="1.21" fill="#7446b8"/>
<circle cx="457.11" cy="198.07" r="1.47" fill="#7446b8"/>
<circle cx="454.46" cy="199.74" r="0.73" fill="#7f52c2"/>
<circle cx="441.18" cy="200.85" r="0.84" fill="#7f52c2"/>
<circle cx="439.45" cy="201.37" r="0.82" fill="#7446b8"/>
<circle cx="439.97" cy="200.15" r="0.90" fill="#7446b8"/>
<circle cx="439.31" cy="199.62" r="0.76" fill="#7446b8"/>
<circle cx="437.66" cy="203.39" r="0.80" fill="#8c5ec8"/>
<circle cx="442.41" cy="200.62" r="1.25" fill="#7446b8"/>
<circle cx="439.93" cy="200.57" r="0.75" fill="#9a6cd0"/>
<circle cx="463.88" cy="221.33" r="1.50" fill="#7446b8"/>
<circle cx="461.56" cy="223.82" r="0.78" fill="#9a6cd0"/>
<circle cx="459.93" cy="221.62" r="1.07" fill="#9a6cd0"/>
<circle cx="460.91" cy="224.61" r="1.32" fill="#7f52c2"/>
<circle cx="463.84" cy="225.28" r="0.95" fill="#7446b8"/>
<circle cx="464.64" cy="224.69" r="0.75" fill="#7f52c2"/>
<circle cx="463.75" cy="223.12" r="1.21" fill="#7446b8"/>
<circle cx="428.63" cy="217.68" r="1.00" fill="#7f52c2"/>
<circle cx="428.54" cy="214.42" r="0.97" fill="#7f52c2"/>
<circle cx="429.67" cy="218.59" r="1.41" fill="#8c5ec8"/>
<circle cx="429.54" cy="218.54" r="0.60" fill="#7f52c2"/>
<circle cx="425.93" cy="215.85" r="0.91" fill="#8c5ec8"/>
<circle cx="427.21" cy="218.85" r="1.16" fill="#7f52c2"/>
<circle cx="439.59" cy="211.21" r="1.29" fill="#7446b8"/>
<circle cx="434.29" cy="212.13" r="0.64" fill="#8c5ec8"/>
<circle cx="438.47" cy="210.23" r="1.41" fill="#7446b8"/>
<circle cx="438.39" cy="209.25" r="1.25" fill="#9a6cd0"/>
<circle cx="435.95" cy="211.84" r="1.42" fill="#7f52c2"/>
<circle cx="436.94" cy="212.03" r="1.29" fill="#7f52c2"/>
<circle cx="459.09" cy="212.47" r="0.61" fill="#8c5ec8"/>
<circle cx="461.84" cy="207.58" r="1.00" fill="#7f52c2"/>
<circle cx="461.64" cy="209.39" r="0.73" fill="#8c5ec8"/>
<circle cx="463.73" cy="211.53" r="1.14" fill="#7446b8"/>
<circle cx="445.81" cy="205.17" r="1.48" fill="#9a6cd0"/>
<circle cx="447.22" cy="205.82" r="1.31" fill="#9a6cd0"/>
<circle cx="448.91" cy="203.81" r="0.79" fill="#8c5ec8"/>
<circle cx="445.14" cy="204.47" r="0.89" fill="#7446b8"/>
<circle cx="445.98" cy="208.54" r="0.76" fill="#8c5ec8"/>
<circle cx="445.13" cy="206.23" r="1.19" fill="#9a6cd0"/>
<circle cx="446.97" cy="204.30" r="0.95" fill="#7446b8"/>
<circle cx="450.37" cy="219.51" r="1.01" fill="#7446b8"/>
<circle cx="449.38" cy="219.49" r="1.36" fill="#9a6cd0"/>
<circle cx="446.99" cy="217.16" r="0.77" fill="#7f52c2"/>
<circle cx="448.04" cy="218.09" r="1.50" fill="#9a6cd0"/>
<circle cx="463.73" cy="225.70" r="1.06" fill="#7f52c2"/>
<circle cx="465.80" cy="225.00" r="1.46" fill="#7446b8"/>
<circle cx="467.66" cy="226.21" r="1.16" fill="#7446b8"/>
<circle cx="459.33" cy="230.27" r="1.43" fill="#7446b8"/>
<circle cx="464.35" cy="227.32" r="1.32" fill="#9a6cd0"/>
<circle cx="464.97" cy="231.64" r="1.33" fill="#8c5ec8"/>
<circle cx="464.79" cy="229.40" r="1.32" fill="#8c5ec8"/>
<circle cx="451.23" cy="223.04" r="0.71" fill="#8c5ec8"/>
<circle cx="446.46" cy="226.09" r="1.00" fill="#9a6cd0"/>
<circle cx="449.92" cy="226.01" r="1.43" fill="#7446b8"/>
<circle cx="449.66" cy="225.89" r="1.12" fill="#7446b8"/>
<circle cx="447.67" cy="223.05" r="1.43" fill="#7f52c2"/>
<circle cx="446.56" cy="220.72" r="0.86" fill="#9a6cd0"/>
<circle cx="436.43" cy="213.61" r="1.09" fill="#9a6cd0"/>
<circle cx="436.03" cy="214.14" r="0.60" fill="#7f52c2"/>
<circle cx="435.35" cy="214.90" r="1.40" fill="#7446b8"/>
<circle cx="436.58" cy="216.52" r="1.07" fill="#7f52c2"/>
<circle cx="464.12" cy="208.28" r="0.96" fill="#7f52c2"/>
<circle cx="466.86" cy="207.71" r="0.71" fill="#7f52c2"/>
<circle cx="469.00" cy="208.09" r="1.01" fill="#9a6cd0"/>
<circle cx="467.91" cy="206.75" r="0.97" fill="#7446b8"/>
<circle cx="465.06" cy="204.97" r="0.73" fill="#7f52c2"/>
<circle cx="464.71" cy="206.75" r="1.13" fill="#7f52c2"/>
<circle cx="465.13" cy="206.29" r="0.82" fill="#7f52c2"/>
<circle cx="426.33" cy="197.98" r="1.45" fill="#8c5ec8"/>
<circle cx="425.32" cy="201.73" r="1.32" fill="#8c5ec8"/>
<circle cx="426.75" cy="200.08" r="0.99" fill="#8c5ec8"/>
<circle cx="427.33" cy="199.64" r="1.43" fill="#7f52c2"/>
<circle cx="468.13" cy="229.11" r="0.64" fill="#7446b8"/>
<circle cx="468.97" cy="227.96" r="1.30" fill="#7f52c2"/>
<circle cx="466.71" cy="230.58" r="1.42" fill="#9a6cd0"/>
<circle cx="465.43" cy="230.45" r="1.02" fill="#8c5ec8"/>
<circle cx="466.45" cy="227.86" r="1.32" fill="#9a6cd0"/>
<circle cx="463.79" cy="228.10" r="1.03" fill="#8c5ec8"/>
<circle cx="455.81" cy="217.42" r="1.43" fill="#9a6cd0"/>
<circle cx="453.52" cy="219.74" r="1.17" fill="#7446b8"/>
<circle cx="456.00" cy="215.43" r="1.28" fill="#8c5ec8"/>
<circle cx="452.09" cy="216.83" r="1.34" fill="#9a6cd0"/>
<circle cx="454.48" cy="219.07" r="1.31" fill="#7f52c2"/>
<circle cx="455.48" cy="219.03" r="0.95" fill="#8c5ec8"/>
<circle cx="452.51" cy="216.53" r="0.94" fill="#7f52c2"/>
<circle cx="436.05" cy="203.68" r="0.77" fill="#7446b8"/>
<circle cx="431.76" cy="204.61" r="1.12" fill="#7446b8"/>
<circle cx="432.95" cy="203.70" r="0.71" fill="#9a6cd0"/>
<circle cx="436.55" cy="205.65" r="0.96" fill="#8c5ec8"/>
<circle cx="431.89" cy="204.42" r="0.69" fill="#7f52c2"/>
<circle cx="432.95" cy="202.73" r="0.77" fill="#9a6cd0"/>
<circle cx="426.99" cy="202.29" r="0.67" fill="#7446b8"/>
<circle cx="426.77" cy="202.08" r="0.75" fill="#7f52c2"/>
<circle cx="427.78" cy="206.27" r="0.94" fill="#8c5ec8"/>
<circle cx="427.44" cy="205.39" r="1.19" fill="#7f52c2"/>
<circle cx="431.06" cy="208.86" r="0.86" fill="#7f52c2"/>
<circle cx="447.09" cy="204.36" r="1.35" fill="#8c5ec8"/>
<circle cx="444.80" cy="207.04" r="0.94" fill="#9a6cd0"/>
<circle cx="446.71" cy="204.55" r="1.05" fill="#7f52c2"/>
<circle cx="447.79" cy="205.02" r="1.02" fill="#8c5ec8"/>
<circle cx="443.73" cy="205.70" r="0.74" fill="#7446b8"/>
<circle cx="446.97" cy="206.25" r="1.29" fill="#9a6cd0"/>
<circle cx="447.80" cy="213.83" r="1.02" fill="#7446b8"/>
<circle cx="446.10" cy="211.36" r="0.65" fill="#7f52c2"/>
<circle cx="446.56" cy="212.73" r="1.15" fill="#8c5ec8"/>
<circle cx="456.66" cy="216.10" r="0.68" fill="#7f52c2"/>
<circle cx="458.68" cy="219.90" r="0.91" fill="#8c5ec8"/>
<circle cx="460.44" cy="217.01" r="0.89" fill="#7f52c2"/>
<circle cx="458.40" cy="216.47" r="1.33" fill="#7f52c2"/>
<circle cx="456.96" cy="216.88" r="1.41" fill="#7f52c2"/>
<circle cx="442.49" cy="215.88" r="1.38" fill="#9a6cd0"/>
<circle cx="442.17" cy="216.63" r="0.63" fill="#8c5ec8"/>
<circle cx="443.57" cy="215.03" r="0.70" fill="#8c5ec8"/>
<circle cx="431.72" cy="210.76" r="1.21" fill="#7446b8"/>
<circle cx="431.18" cy="210.93" r="0.72" fill="#7446b8"/>
<circle cx="432.03" cy="209.83" r="1.14" fill="#7f52c2"/>
<circle cx="431.52" cy="211.84" r="1.30" fill="#7446b8"/>
<circle cx="447.47" cy="207.42" r="0.77" fill="#9a6cd0"/>
<circle cx="450.58" cy="210.93" r="1.40" fill="#8c5ec8"/>
<circle cx="448.62" cy="204.99" r="0.78" fill="#7446b8"/>
<circle cx="450.24" cy="205.49" r="1.13" fill="#7f52c2"/>
<circle cx="427.35" cy="205.68" r="0.98" fill="#7446b8"/>
<circle cx="426.15" cy="205.21" r="0.63" fill="#8c5ec8"/>
<circle cx="425.45" cy="203.49" r="0.90" fill="#7446b8"/>
<circle cx="425.96" cy="205.87" r="0.78" fill="#8c5ec8"/>
<circle cx="425.50" cy="203.31" r="1.32" fill="#9a6cd0"/>
<circle cx="427.37" cy="206.16" r="0.97" fill="#7f52c2"/>
<circle cx="450.02" cy="223.80" r="0.83" fill="#8c5ec8"/>
<circle cx="447.81" cy="225.10" r="1.50" fill="#9a6cd0"/>
<circle cx="454.18" cy="226.85" r="1.26" fill="#8c5ec8"/>
<circle cx="450.10" cy="225.45" r="1.27" fill="#7f52c2"/>
<circle cx="452.07" cy="227.30" r="1.28" fill="#9a6cd0"/>
<circle cx="454.57" cy="223.59" r="1.03" fill="#7f52c2"/>
<circle cx="448.66" cy="223.03" r="0.68" fill="#7446b8"/>
<circle cx="459.00" cy="215.85" r="0.65" fill="#9a6cd0"/>
<circle cx="457.20" cy="212.70" r="0.72" fill="#7f52c2"/>
<circle cx="457.77" cy="211.88" r="1.07" fill="#7446b8"/>
<circle cx="458.68" cy="212.67" r="0.64" fill="#8c5ec8"/>
<circle cx="459.33" cy="214.56" r="0.77" fill="#9a6cd0"/>
<circle cx="456.82" cy="214.50" r="0.75" fill="#7446b8"/>
<circle cx="468.55" cy="218.94" r="0.68" fill="#7446b8"/>
<circle cx="464.17" cy="219.12" r="0.74" fill="#9a6cd0"/>
<circle cx="466.37" cy="219.10" r="1.16" fill="#7446b8"/>
<circle cx="466.23" cy="221.71" r="0.65" fill="#9a6cd0"/>
<circle cx="464.76" cy="206.46" r="0.84" fill="#9a6cd0"/>
<circle cx="465.89" cy="206.32" r="0.76" fill="#8c5ec8"/>
<circle cx="466.14" cy="208.10" r="0.66" fill="#9a6cd0"/>
<circle cx="463.45" cy="204.90" r="0.66" fill="#7446b8"/>
<circle cx="469.42" cy="206.13" r="1.07" fill="#8c5ec8"/>
<circle cx="467.57" cy="206.32" r="0.69" fill="#9a6cd0"/>
<circle cx="431.96" cy="207.43" r="0.75" fill="#7f52c2"/>
<circle cx="430.66" cy="207.06" r="1.27" fill="#7446b8"/>
<circle cx="435.09" cy="204.34" r="1.07" fill="#9a6cd0"/>
<circle cx="434.48" cy="208.05" r="1.25" fill="#7446b8"/>
<circle cx="432.51" cy="208.30" r="1.20" fill="#7f52c2"/>
<circle cx="432.19" cy="205.66" r="0.73" fill="#7446b8"/>
<circle cx="450.24" cy="205.60" r="0.90" fill="#8c5ec8"/>
<circle cx="448.81" cy="204.73" r="1.35" fill="#7446b8"/>
<circle cx="452.79" cy="204.01" r="1.27" fill="#7f52c2"/>
<circle cx="448.14" cy="206.02" r="1.29" fill="#7446b8"/>
<circle cx="446.31" cy="199.74" r="1.27" fill="#9a6cd0"/>
<circle cx="448.69" cy="203.47" r="1.18" fill="#7f52c2"/>
<circle cx="464.11" cy="210.70" r="1.40" fill="#7f52c2"/>
<circle cx="466.27" cy="207.69" r="0.66" fill="#9a6cd0"/>
<circle cx="465.82" cy="210.31" r="1.34" fill="#7f52c2"/>
<circle cx="463.18" cy="208.01" r="0.82" fill="#7446b8"/>
<circle cx="466.95" cy="206.15" r="0.85" fill="#7f52c2"/>
<circle cx="465.95" cy="210.19" r="1.41" fill="#8c5ec8"/>
<circle cx="465.03" cy="210.00" r="0.85" fill="#9a6cd0"/>
<circle cx="439.14" cy="205.74" r="1.22" fill="#7446b8"/>
<circle cx="436.92" cy="208.14" r="1.26" fill="#7f52c2"/>
<circle cx="438.93" cy="208.36" r="1.02" fill="#7446b8"/>
<circle cx="441.03" cy="205.66" r="0.97" fill="#9a6cd0"/>
<circle cx="436.69" cy="222.82" r="0.72" fill="#7f52c2"/>
<circle cx="436.75" cy="224.06" r="1.42" fill="#8c5ec8"/>
<circle cx="439.95" cy="223.92" r="1.03" fill="#7f52c2"/>
<circle cx="437.80" cy="225.92" r="1.47" fill="#8c5ec8"/>
<circle cx="436.51" cy="223.57" r="0.90" fill="#8c5ec8"/>
<circle cx="437.12" cy="223.66" r="1.14" fill="#7f52c2"/>
<circle cx="437.37" cy="216.87" r="0.96" fill="#7f52c2"/>
<circle cx="435.02" cy="214.83" r="1.38" fill="#7f52c2"/>
<circle cx="435.87" cy="214.13" r="0.64" fill="#7f52c2"/>
<circle cx="433.62" cy="215.73" r="1.12" fill="#7446b8"/>
<circle cx="438.45" cy="214.47" r="0.74" fill="#9a6cd0"/>
<circle cx="437.32" cy="215.66" r="0.97" fill="#7f52c2"/>
<circle cx="436.08" cy="211.49" r="1.49" fill="#8c5ec8"/>
<circle cx="437.14" cy="201.68" r="1.33" fill="#9a6cd0"/>
<circle cx="436.63" cy="199.79" r="0.63" fill="#8c5ec8"/>
<circle cx="436.44" cy="200.87" r="0.64" fill="#7f52c2"/>
<circle cx="426.97" cy="216.05" r="1.35" fill="#9a6cd0"/>
<circle cx="428.13" cy="218.33" r="1.10" fill="#9a6cd0"/>
<circle cx="424.84" cy="217.35" r="1.07" fill="#7446b8"/>
<circle cx="421.51" cy="218.82" r="0.75" fill="#8c5ec8"/>
<circle cx="427.35" cy="218.13" r="0.77" fill="#7446b8"/>
<circle cx="457.08" cy="223.65" r="1.39" fill="#8c5ec8"/>
<circle cx="456.95" cy="224.52" r="1.02" fill="#7f52c2"/>
<circle cx="457.04" cy="226.82" r="1.09" fill="#9a6cd0"/>
<circle cx="455.68" cy="223.34" r="1.20" fill="#7446b8"/>
<circle cx="458.72" cy="225.09" r="1.43" fill="#7f52c2"/>
<circle cx="459.06" cy="222.98" r="1.26" fill="#7446b8"/>
<circle cx="454.58" cy="223.53" r="0.94" fill="#7446b8"/>
<circle cx="462.79" cy="200.01" r="1.33" fill="#7446b8"/>
<circle cx="461.54" cy="201.99" r="0.82" fill="#9a6cd0"/>
<circle cx="461.71" cy="203.44" r="0.72" fill="#7f52c2"/>
<circle cx="461.51" cy="199.00" r="0.67" fill="#9a6cd0"/>
<circle cx="458.02" cy="203.28" r="0.97" fill="#8c5ec8"/>
<circle cx="461.65" cy="200.92" r="1.22" fill="#8c5ec8"/>
<circle cx="460.08" cy="203.92" r="0.76" fill="#7446b8"/>
<circle cx="436.60" cy="207.39" r="0.96" fill="#7446b8"/>
<circle cx="437.26" cy="201.66" r="1.32" fill="#7f52c2"/>
<circle cx="436.44" cy="203.49" r="0.81" fill="#9a6cd0"/>
<circle cx="451.28" cy="225.01" r="1.07" fill="#8c5ec8"/>
<circle cx="452.78" cy="224.36" r="0.96" fill="#7446b8"/>
<circle cx="455.72" cy="224.15" r="1.02" fill="#7446b8"/>
<circle cx="437.57" cy="228.66" r="1.09" fill="#8c5ec8"/>
<circle cx="434.71" cy="229.16" r="1.00" fill="#8c5ec8"/>
<circle cx="436.26" cy="225.14" r="1.44" fill="#9a6cd0"/>
<circle cx="437.61" cy="227.15" r="1.04" fill="#7446b8"/>
<circle cx="437.15" cy="228.01" r="0.89" fill="#9a6cd0"/>
<circle cx="431.20" cy="210.80" r="1.45" fill="#9a6cd0"/>
<circle cx="431.34" cy="205.65" r="1.46" fill="#8c5ec8"/>
<circle cx="429.25" cy="208.43" r="0.80" fill="#8c5ec8"/>
<circle cx="429.30" cy="206.96" r="1.42" fill="#7446b8"/>
<circle cx="449.42" cy="220.39" r="0.68" fill="#7f52c2"/>
<circle cx="452.24" cy="225.74" r="1.19" fill="#7f52c2"/>
<circle cx="448.77" cy="221.34" r="0.66" fill="#7446b8"/>
<circle cx="447.12" cy="222.27" r="1.15" fill="#9a6cd0"/>
<circle cx="448.32" cy="221.19" r="0.76" fill="#9a6cd0"/>
<circle cx="428.55" cy="223.34" r="0.78" fill="#7f52c2"/>
<circle cx="428.30" cy="221.24" r="1.10" fill="#7f52c2"/>
<circle cx="424.43" cy="222.16" r="1.24" fill="#9a6cd0"/>
<circle cx="454.49" cy="201.92" r="1.46" fill="#9a6cd0"/>
<circle cx="455.48" cy="199.05" r="0.84" fill="#8c5ec8"/>
<circle cx="456.04" cy="202.32" r="0.79" fill="#8c5ec8"/>
<circle cx="452.73" cy="200.69" r="1.30" fill="#8c5ec8"/>
<circle cx="431.44" cy="220.05" r="1.02" fill="#8c5ec8"/>
<circle cx="430.32" cy="221.61" r="0.87" fill="#9a6cd0"/>
<circle cx="431.74" cy="217.94" r="0.85" fill="#7f52c2"/>
<circle cx="430.09" cy="221.20" r="1.43" fill="#7f52c2"/>
<circle cx="432.15" cy="220.08" r="0.60" fill="#7f52c2"/>
<circle cx="428.15" cy="222.46" r="1.32" fill="#7f52c2"/>
<circle cx="429.53" cy="219.13" r="0.77" fill="#9a6cd0"/>
<circle cx="428.83" cy="200.43" r="1.44" fill="#7f52c2"/>
<circle cx="429.94" cy="201.98" r="1.43" fill="#7f52c2"/>
<circle cx="430.11" cy="199.51" r="1.14" fill="#8c5ec8"/>
<circle cx="459.80" cy="215.29" r="0.60" fill="#9a6cd0"/>
<circle cx="462.41" cy="210.72" r="1.06" fill="#8c5ec8"/>
<circle cx="459.12" cy="213.40" r="0.83" fill="#7f52c2"/>
<circle cx="462.32" cy="212.72" r="0.90" fill="#8c5ec8"/>
<circle cx="460.33" cy="212.80" r="1.32" fill="#7446b8"/>
<circle cx="461.42" cy="213.26" r="1.39" fill="#9a6cd0"/>
<circle cx="458.43" cy="213.78" r="1.06" fill="#9a6cd0"/>
<circle cx="450.94" cy="223.05" r="1.03" fill="#7446b8"/>
<circle cx="446.65" cy="221.55" r="1.14" fill="#7f52c2"/>
<circle cx="449.10" cy="223.66" r="0.79" fill="#7f52c2"/>
<circle cx="449.76" cy="220.45" r="0.61" fill="#8c5ec8"/>
<circle cx="444.47" cy="200.48" r="0.64" fill="#7446b8"/>
<circle cx="442.37" cy="199.46" r="0.97" fill="#7f52c2"/>
<circle cx="446.83" cy="200.70" r="0.86" fill="#8c5ec8"/>
<circle cx="437.61" cy="197.81" r="0.92" fill="#7446b8"/>
<circle cx="433.39" cy="198.42" r="0.87" fill="#7446b8"/>
<circle cx="435.51" cy="197.27" r="1.10" fill="#9a6cd0"/>
<circle cx="433.07" cy="196.36" r="1.12" fill="#8c5ec8"/>
<circle cx="430.91" cy="198.39" r="0.75" fill="#9a6cd0"/>
<circle cx="433.19" cy="196.52" r="0.85" fill="#8c5ec8"/>
<circle cx="434.17" cy="201.29" r="1.37" fill="#7f52c2"/>
<circle cx="434.68" cy="217.44" r="0.72" fill="#8c5ec8"/>
<circle cx="437.96" cy="213.56" r="1.45" fill="#7f52c2"/>
<circle cx="437.65" cy="219.79" r="0.99" fill="#7f52c2"/>
<circle cx="432.84" cy="224.79" r="1.47" fill="#7f52c2"/>
<circle cx="431.63" cy="226.38" r="1.31" fill="#7f52c2"/>
<circle cx="434.66" cy="223.85" r="0.99" fill="#7446b8"/>
<circle cx="430.59" cy="228.35" r="0.97" fill="#7446b8"/>
<circle cx="434.14" cy="224.30" r="1.06" fill="#7446b8"/>
<circle cx="434.04" cy="224.97" r="0.98" fill="#7f52c2"/>
<circle cx="432.09" cy="223.33" r="0.83" fill="#9a6cd0"/>
<circle cx="438.83" cy="211.19" r="1.08" fill="#9a6cd0"/>
<circle cx="435.35" cy="211.13" r="0.62" fill="#7446b8"/>
<circle cx="434.00" cy="211.20" r="0.89" fill="#7f52c2"/>
<circle cx="434.47" cy="230.37" r="1.20" fill="#8c5ec8"/>
<circle cx="433.16" cy="226.74" r="1.32" fill="#7f52c2"/>
<circle cx="434.06" cy="230.35" r="1.18" fill="#8c5ec8"/>
<circle cx="432.93" cy="225.46" r="0.67" fill="#9a6cd0"/>
<circle cx="431.48" cy="229.93" r="0.76" fill="#9a6cd0"/>
<circle cx="434.40" cy="225.90" r="1.37" fill="#9a6cd0"/>
<circle cx="431.71" cy="218.33" r="0.62" fill="#9a6cd0"/>
<circle cx="430.63" cy="220.38" r="1.03" fill="#9a6cd0"/>
<circle cx="429.93" cy="216.64" r="0.67" fill="#7446b8"/>
<circle cx="431.58" cy="216.88" r="1.13" fill="#8c5ec8"/>
<circle cx="428.18" cy="219.91" r="1.47" fill="#7446b8"/>
<circle cx="428.98" cy="217.28" r="0.99" fill="#9a6cd0"/>
<circle cx="431.99" cy="216.26" r="1.49" fill="#9a6cd0"/>
<circle cx="426.21" cy="200.07" r="0.83" fill="#9a70cc"/>
<circle cx="439.73" cy="227.84" r="0.52" fill="#9a70cc"/>
<circle cx="440.46" cy="225.63" r="0.62" fill="#9a70cc"/>
<circle cx="453.80" cy="221.89" r="0.59" fill="#9a70cc"/>
<circle cx="433.57" cy="197.61" r="0.83" fill="#9a70cc"/>
<circle cx="449.37" cy="222.08" r="0.89" fill="#9a70cc"/>
<circle cx="462.05" cy="216.07" r="0.46" fill="#9a70cc"/>
<circle cx="449.51" cy="212.65" r="0.45" fill="#9a70cc"/>
<circle cx="425.79" cy="208.26" r="0.59" fill="#9a70cc"/>
<circle cx="462.22" cy="228.79" r="0.86" fill="#9a70cc"/>
<circle cx="438.68" cy="224.34" r="0.59" fill="#9a70cc"/>
<circle cx="440.47" cy="215.62" r="0.42" fill="#9a70cc"/>
<circle cx="453.64" cy="199.25" r="0.69" fill="#9a70cc"/>
<circle cx="456.74" cy="199.22" r="0.72" fill="#9a70cc"/>
<circle cx="446.63" cy="208.35" r="0.79" fill="#9a70cc"/>
<circle cx="438.41" cy="203.39" r="0.61" fill="#9a70cc"/>
<circle cx="440.54" cy="223.30" r="0.50" fill="#9a70cc"/>
<circle cx="441.89" cy="222.02" r="0.63" fill="#9a70cc"/>
<circle cx="439.38" cy="201.96" r="0.58" fill="#9a70cc"/>
<circle cx="447.55" cy="222.01" r="0.90" fill="#9a70cc"/>
<circle cx="447.69" cy="213.09" r="0.78" fill="#9a70cc"/>
<circle cx="444.78" cy="205.37" r="0.75" fill="#9a70cc"/>
<circle cx="460.35" cy="204.32" r="0.83" fill="#9a70cc"/>
<circle cx="427.58" cy="203.33" r="0.59" fill="#9a70cc"/>
<circle cx="463.46" cy="212.56" r="0.57" fill="#9a70cc"/>
<circle cx="435.35" cy="212.12" r="0.68" fill="#9a70cc"/>
<circle cx="450.42" cy="225.61" r="0.46" fill="#9a70cc"/>
<circle cx="455.43" cy="227.80" r="0.70" fill="#9a70cc"/>
<circle cx="455.17" cy="222.83" r="0.84" fill="#9a70cc"/>
<circle cx="438.54" cy="211.66" r="0.82" fill="#9a70cc"/>
<circle cx="431.77" cy="211.52" r="0.88" fill="#9a70cc"/>
<circle cx="441.92" cy="211.03" r="0.61" fill="#9a70cc"/>
<circle cx="445.42" cy="221.67" r="0.45" fill="#9a70cc"/>
<circle cx="444.57" cy="210.82" r="0.88" fill="#9a70cc"/>
<circle cx="461.32" cy="206.62" r="0.56" fill="#9a70cc"/>
<circle cx="467.13" cy="197.69" r="0.75" fill="#9a70cc"/>
<circle cx="425.70" cy="206.55" r="0.72" fill="#9a70cc"/>
<circle cx="453.73" cy="217.47" r="0.51" fill="#9a70cc"/>
<circle cx="442.07" cy="224.38" r="0.54" fill="#9a70cc"/>
<circle cx="447.81" cy="215.00" r="0.83" fill="#9a70cc"/>
<circle cx="458.88" cy="222.23" r="0.64" fill="#f2e2f2"/>
<circle cx="450.07" cy="224.55" r="0.47" fill="#e8d0ec"/>
<circle cx="464.20" cy="224.50" r="0.76" fill="#f2e2f2"/>
<circle cx="465.43" cy="210.88" r="0.52" fill="#f2e2f2"/>
<circle cx="430.11" cy="223.89" r="0.88" fill="#f2e2f2"/>
<circle cx="464.03" cy="216.26" r="1.06" fill="#f2e2f2"/>
<circle cx="452.29" cy="200.42" r="0.50" fill="#e8d0ec"/>
<circle cx="451.13" cy="211.16" r="0.54" fill="#f2e2f2"/>
<circle cx="459.10" cy="200.03" r="0.50" fill="#e8d0ec"/>
<circle cx="446.69" cy="197.60" r="0.63" fill="#f2e2f2"/>
<circle cx="437.50" cy="213.29" r="1.05" fill="#e8d0ec"/>
<circle cx="437.70" cy="205.95" r="0.95" fill="#e8d0ec"/>
<circle cx="426.73" cy="218.30" r="1.07" fill="#e8d0ec"/>
<circle cx="463.38" cy="201.48" r="0.90" fill="#e8d0ec"/>
<circle cx="435.63" cy="206.56" r="1.08" fill="#f2e2f2"/>
<circle cx="433.73" cy="198.61" r="0.45" fill="#e8d0ec"/>
<circle cx="451.31" cy="205.44" r="0.56" fill="#e8d0ec"/>
<circle cx="443.55" cy="218.41" r="0.79" fill="#f2e2f2"/>
<circle cx="448.32" cy="200.30" r="0.75" fill="#f2e2f2"/>
<circle cx="455.02" cy="207.86" r="0.40" fill="#f2e2f2"/>
<circle cx="459.07" cy="202.44" r="0.58" fill="#e8d0ec"/>
<circle cx="458.26" cy="225.45" r="0.44" fill="#f2e2f2"/>
<circle cx="426.13" cy="221.37" r="1.01" fill="#f2e2f2"/>
<circle cx="445.48" cy="207.98" r="0.67" fill="#e8d0ec"/>
<circle cx="449.43" cy="217.31" r="1.03" fill="#f2e2f2"/>
<circle cx="453.31" cy="198.58" r="0.66" fill="#e8d0ec"/>
<circle cx="429.14" cy="219.03" r="0.99" fill="#f2e2f2"/>
<circle cx="448.57" cy="206.34" r="0.66" fill="#f2e2f2"/>
<circle cx="460.68" cy="197.57" r="0.43" fill="#f2e2f2"/>
<circle cx="441.17" cy="228.45" r="0.40" fill="#f2e2f2"/>
<circle cx="444.84" cy="200.23" r="0.76" fill="#e8d0ec"/>
<circle cx="460.21" cy="218.64" r="0.81" fill="#e8d0ec"/>
<circle cx="438.51" cy="201.80" r="0.55" fill="#f2e2f2"/>
<circle cx="454.82" cy="198.76" r="0.79" fill="#f2e2f2"/>
<circle cx="465.47" cy="221.61" r="0.98" fill="#e8d0ec"/>
<circle cx="437.43" cy="203.74" r="0.58" fill="#f2e2f2"/>
<circle cx="428.98" cy="199.25" r="0.55" fill="#e8d0ec"/>
<circle cx="453.36" cy="216.14" r="0.99" fill="#e8d0ec"/>
<circle cx="450.82" cy="211.73" r="0.65" fill="#f2e2f2"/>
<circle cx="462.71" cy="206.21" r="0.99" fill="#e8d0ec"/>
<circle cx="435.22" cy="202.07" r="0.91" fill="#f2e2f2"/>
<circle cx="434.03" cy="228.22" r="0.73" fill="#f2e2f2"/>
<circle cx="446.25" cy="220.05" r="0.50" fill="#e8d0ec"/>
<circle cx="427.04" cy="217.59" r="0.92" fill="#e8d0ec"/>
<circle cx="462.34" cy="221.34" r="1.04" fill="#e8d0ec"/>
<circle cx="440.63" cy="223.46" r="0.96" fill="#e8d0ec"/>
<circle cx="453.48" cy="222.23" r="0.81" fill="#f2e2f2"/>
<circle cx="447.94" cy="219.72" r="0.90" fill="#e8d0ec"/>
<circle cx="432.90" cy="204.91" r="0.49" fill="#f2e2f2"/>
<circle cx="434.72" cy="211.11" r="0.60" fill="#e8d0ec"/>
<circle cx="436.71" cy="211.05" r="1.04" fill="#e8d0ec"/>
<circle cx="443.79" cy="214.82" r="0.96" fill="#f2e2f2"/>
<circle cx="433.80" cy="224.14" r="0.48" fill="#e8d0ec"/>
<circle cx="438.35" cy="218.55" r="0.65" fill="#e8d0ec"/>
<circle cx="443.33" cy="210.60" r="0.49" fill="#f2e2f2"/>
<circle cx="438.87" cy="206.39" r="1.03" fill="#e8d0ec"/>
<circle cx="458.59" cy="226.31" r="1.01" fill="#e8d0ec"/>
<circle cx="428.15" cy="222.65" r="1.02" fill="#e8d0ec"/>
<circle cx="433.98" cy="224.42" r="0.73" fill="#e8d0ec"/>
<circle cx="426.15" cy="202.35" r="0.77" fill="#f2e2f2"/>
<circle cx="444.85" cy="204.98" r="0.81" fill="#f2e2f2"/>
<circle cx="463.90" cy="214.88" r="0.53" fill="#f2e2f2"/>
<circle cx="446.27" cy="204.09" r="0.47" fill="#e8d0ec"/>
<circle cx="456.77" cy="222.84" r="0.85" fill="#f2e2f2"/>
<circle cx="433.06" cy="219.19" r="0.43" fill="#e8d0ec"/>
<circle cx="431.34" cy="216.81" r="0.92" fill="#f2e2f2"/>
<circle cx="460.66" cy="214.90" r="1.01" fill="#f2e2f2"/>
<circle cx="427.09" cy="204.10" r="0.48" fill="#e8d0ec"/>
<circle cx="456.53" cy="201.51" r="0.50" fill="#e8d0ec"/>
<circle cx="427.30" cy="212.45" r="0.48" fill="#f2e2f2"/>
<circle cx="455.65" cy="214.37" r="1.07" fill="#e8d0ec"/>
<circle cx="459.97" cy="199.25" r="0.51" fill="#f2e2f2"/>
<circle cx="462.66" cy="224.70" r="0.46" fill="#e8d0ec"/>
<circle cx="437.37" cy="209.99" r="0.64" fill="#e8d0ec"/>
<circle cx="445.68" cy="226.33" r="0.94" fill="#f2e2f2"/>
<circle cx="433.73" cy="208.04" r="0.43" fill="#e8d0ec"/>
<circle cx="445.71" cy="205.24" r="0.69" fill="#e8d0ec"/>
<circle cx="464.02" cy="210.11" r="0.50" fill="#e8d0ec"/>
<circle cx="443.76" cy="217.53" r="0.75" fill="#f2e2f2"/>
<circle cx="455.28" cy="199.03" r="0.74" fill="#f2e2f2"/>
<circle cx="460.66" cy="201.93" r="0.95" fill="#e8d0ec"/>
<circle cx="429.20" cy="217.34" r="0.61" fill="#f2e2f2"/>
<circle cx="466.73" cy="205.52" r="0.89" fill="#f2e2f2"/>
<circle cx="447.55" cy="219.19" r="0.49" fill="#e8d0ec"/>
<circle cx="434.64" cy="214.65" r="1.04" fill="#e8d0ec"/>
<circle cx="461.86" cy="205.28" r="0.90" fill="#e8d0ec"/>
<circle cx="446.92" cy="220.98" r="0.92" fill="#e8d0ec"/>
<circle cx="433.31" cy="199.46" r="1.09" fill="#e8d0ec"/>
<circle cx="442.91" cy="219.37" r="0.47" fill="#f2e2f2"/>
<circle cx="430.70" cy="226.41" r="0.75" fill="#e8d0ec"/>
</g></g>
<line x1="417.00" y1="227.50" x2="423.00" y2="227.50" stroke="#555" stroke-width="0.5"/>
<line x1="459.50" y1="227.50" x2="465.50" y2="227.50" stroke="#555" stroke-width="0.5"/>
<line x1="382.10" y1="246.00" x2="382.10" y2="348.70" stroke="#231f20" stroke-width="1.1"/>
<line x1="381.60" y1="348.20" x2="466.80" y2="348.20" stroke="#231f20" stroke-width="1.1"/>
<line x1="379.50" y1="348.20" x2="382.10" y2="348.20" stroke="#231f20" stroke-width="1.1"/>
<text x="378.50" y="351.60" font-size="10.06" text-anchor="end" textLength="11.90" lengthAdjust="spacingAndGlyphs">0.0</text>
<line x1="379.50" y1="322.75" x2="382.10" y2="322.75" stroke="#231f20" stroke-width="1.1"/>
<text x="378.50" y="326.15" font-size="10.06" text-anchor="end" textLength="11.90" lengthAdjust="spacingAndGlyphs">0.5</text>
<line x1="379.50" y1="297.30" x2="382.10" y2="297.30" stroke="#231f20" stroke-width="1.1"/>
<text x="378.50" y="300.70" font-size="10.06" text-anchor="end" textLength="11.90" lengthAdjust="spacingAndGlyphs">1.0</text>
<line x1="379.50" y1="271.85" x2="382.10" y2="271.85" stroke="#231f20" stroke-width="1.1"/>
<text x="378.50" y="275.25" font-size="10.06" text-anchor="end" textLength="11.90" lengthAdjust="spacingAndGlyphs">1.5</text>
<line x1="379.50" y1="246.40" x2="382.10" y2="246.40" stroke="#231f20" stroke-width="1.1"/>
<text x="378.50" y="249.80" font-size="10.06" text-anchor="end" textLength="11.90" lengthAdjust="spacingAndGlyphs">2.0</text>
<rect x="395.80" y="297.30" width="15.30" height="50.90" fill="#3fca78"/>
<rect x="437.40" y="260.65" width="15.40" height="87.55" fill="#2b2a6b"/>
<circle cx="401.20" cy="297.30" r="1.32" fill="#111"/>
<circle cx="403.40" cy="297.30" r="1.32" fill="#111"/>
<circle cx="405.60" cy="297.30" r="1.32" fill="#111"/>
<circle cx="442.50" cy="258.11" r="1.20" fill="#111"/>
<circle cx="445.20" cy="261.16" r="1.20" fill="#111"/>
<circle cx="447.50" cy="259.63" r="1.20" fill="#111"/>
<text x="387.00" y="254.00" font-size="10.27" textLength="31.00" lengthAdjust="spacingAndGlyphs">RWPE1</text>
<text x="433.00" y="253.60" font-size="7.7" textLength="28.50" lengthAdjust="spacingAndGlyphs"><tspan font-style="italic">P</tspan>=0.0011</text>
<text x="361.60" y="292.90" font-size="10.06" text-anchor="middle" textLength="124.00" lengthAdjust="spacingAndGlyphs" transform="rotate(-90 361.60 292.90)">Relative absorbance (550 nm)</text>
<text x="403.40" y="362.30" font-size="10.06" text-anchor="middle" textLength="15.50" lengthAdjust="spacingAndGlyphs">CTL</text>
<text x="445.10" y="362.30" font-size="10.06" text-anchor="middle" textLength="20.50" lengthAdjust="spacingAndGlyphs">DLX1</text>
<text x="503.80" y="202.80" font-size="16.91" font-weight="bold" fill="#000">h</text>
<text x="543.50" y="213.60" font-size="10.91" textLength="27.00" lengthAdjust="spacingAndGlyphs">22RV1</text>
<line x1="540.80" y1="220.90" x2="540.80" y2="341.90" stroke="#231f20" stroke-width="1.1"/>
<line x1="540.30" y1="341.40" x2="659.00" y2="341.40" stroke="#231f20" stroke-width="1.1"/>
<line x1="538.30" y1="341.40" x2="540.80" y2="341.40" stroke="#231f20" stroke-width="1.1"/>
<text x="536.30" y="344.80" font-size="10.06" text-anchor="end" textLength="4.75" lengthAdjust="spacingAndGlyphs">0</text>
<line x1="538.30" y1="321.38" x2="540.80" y2="321.38" stroke="#231f20" stroke-width="1.1"/>
<text x="536.30" y="324.78" font-size="10.06" text-anchor="end" textLength="4.75" lengthAdjust="spacingAndGlyphs">2</text>
<line x1="538.30" y1="301.37" x2="540.80" y2="301.37" stroke="#231f20" stroke-width="1.1"/>
<text x="536.30" y="304.77" font-size="10.06" text-anchor="end" textLength="4.75" lengthAdjust="spacingAndGlyphs">4</text>
<line x1="538.30" y1="281.35" x2="540.80" y2="281.35" stroke="#231f20" stroke-width="1.1"/>
<text x="536.30" y="284.75" font-size="10.06" text-anchor="end" textLength="4.75" lengthAdjust="spacingAndGlyphs">6</text>
<line x1="538.30" y1="261.33" x2="540.80" y2="261.33" stroke="#231f20" stroke-width="1.1"/>
<text x="536.30" y="264.73" font-size="10.06" text-anchor="end" textLength="4.75" lengthAdjust="spacingAndGlyphs">8</text>
<line x1="538.30" y1="241.32" x2="540.80" y2="241.32" stroke="#231f20" stroke-width="1.1"/>
<text x="536.30" y="244.72" font-size="10.06" text-anchor="end" textLength="9.50" lengthAdjust="spacingAndGlyphs">10</text>
<line x1="538.30" y1="221.30" x2="540.80" y2="221.30" stroke="#231f20" stroke-width="1.1"/>
<text x="536.30" y="224.70" font-size="10.06" text-anchor="end" textLength="9.50" lengthAdjust="spacingAndGlyphs">12</text>
<line x1="541.60" y1="341.40" x2="541.60" y2="344.20" stroke="#231f20" stroke-width="1.1"/>
<text x="541.60" y="355.30" font-size="9.84" text-anchor="middle" textLength="4.40" lengthAdjust="spacingAndGlyphs">1</text>
<line x1="580.43" y1="341.40" x2="580.43" y2="344.20" stroke="#231f20" stroke-width="1.1"/>
<text x="580.43" y="355.30" font-size="9.84" text-anchor="middle" textLength="4.40" lengthAdjust="spacingAndGlyphs">2</text>
<line x1="619.26" y1="341.40" x2="619.26" y2="344.20" stroke="#231f20" stroke-width="1.1"/>
<text x="619.26" y="355.30" font-size="9.84" text-anchor="middle" textLength="4.40" lengthAdjust="spacingAndGlyphs">3</text>
<line x1="658.09" y1="341.40" x2="658.09" y2="344.20" stroke="#231f20" stroke-width="1.1"/>
<text x="658.09" y="355.30" font-size="9.84" text-anchor="middle" textLength="4.40" lengthAdjust="spacingAndGlyphs">4</text>
<text x="601.80" y="364.40" font-size="10.06" text-anchor="middle" textLength="20.20" lengthAdjust="spacingAndGlyphs">Days</text>
<text x="522.80" y="284.40" font-size="10.06" text-anchor="middle" textLength="104.00" lengthAdjust="spacingAndGlyphs" transform="rotate(-90 522.80 284.40)">Relative cell proliferation</text>
<polyline points="541.60,331.39 580.43,322.38 619.26,310.37 658.09,268.34" fill="none" stroke="#2fa878" stroke-width="1.3"/>
<polyline points="541.60,331.39 580.43,324.89 619.26,309.37 658.09,277.35" fill="none" stroke="#3d37b0" stroke-width="1.3"/>
<polyline points="541.60,331.39 580.43,320.38 619.26,308.37 623.96,302.37 658.09,271.34" fill="none" stroke="#f26522" stroke-width="1.3"/>
<polyline points="541.60,331.39 580.43,323.38 619.26,296.36 658.09,242.32" fill="none" stroke="#4a4a4a" stroke-width="1.3"/>
<line x1="658.09" y1="237.31" x2="658.09" y2="247.32" stroke="#4a4a4a" stroke-width="0.9"/>
<line x1="656.79" y1="237.31" x2="659.39" y2="237.31" stroke="#4a4a4a" stroke-width="0.9"/>
<path d="M541.6,333.59166666666664 L543.8000000000001,329.63166666666666 L539.4,329.63166666666666Z" fill="#2fa878" stroke="none" stroke-width="1"/>
<path d="M580.4300000000001,324.58416666666665 L582.6300000000001,320.62416666666667 L578.23,320.62416666666667Z" fill="#2fa878" stroke="none" stroke-width="1"/>
<path d="M619.26,312.57416666666666 L621.46,308.6141666666667 L617.06,308.6141666666667Z" fill="#2fa878" stroke="none" stroke-width="1"/>
<path d="M658.09,270.53916666666663 L660.2900000000001,266.57916666666665 L655.89,266.57916666666665Z" fill="#2fa878" stroke="none" stroke-width="1"/>
<path d="M541.6,329.19166666666666 L543.8000000000001,333.15166666666664 L539.4,333.15166666666664Z" fill="#3d37b0" stroke="none" stroke-width="1"/>
<path d="M580.4300000000001,322.68625 L582.6300000000001,326.64624999999995 L578.23,326.64624999999995Z" fill="#3d37b0" stroke="none" stroke-width="1"/>
<path d="M619.26,307.17333333333335 L621.46,311.1333333333333 L617.06,311.1333333333333Z" fill="#3d37b0" stroke="none" stroke-width="1"/>
<path d="M658.09,275.14666666666665 L660.2900000000001,279.1066666666666 L655.89,279.1066666666666Z" fill="#3d37b0" stroke="none" stroke-width="1"/>
<rect x="539.50" y="329.29" width="4.20" height="4.20" fill="#f26522"/>
<rect x="578.33" y="318.28" width="4.20" height="4.20" fill="#f26522"/>
<rect x="617.16" y="306.27" width="4.20" height="4.20" fill="#f26522"/>
<rect x="621.86" y="300.27" width="4.20" height="4.20" fill="#f26522"/>
<rect x="655.99" y="269.24" width="4.20" height="4.20" fill="#f26522"/>
<circle cx="541.60" cy="331.39" r="2.20" fill="#4a4a4a"/>
<circle cx="580.43" cy="323.38" r="2.20" fill="#4a4a4a"/>
<circle cx="619.26" cy="296.36" r="2.20" fill="#4a4a4a"/>
<circle cx="658.09" cy="242.32" r="2.20" fill="#4a4a4a"/>
<line x1="553.30" y1="224.90" x2="564.30" y2="224.90" stroke="#4a4a4a" stroke-width="1.3"/>
<circle cx="558.80" cy="224.90" r="2.20" fill="#4a4a4a"/>
<line x1="553.30" y1="237.10" x2="564.30" y2="237.10" stroke="#f26522" stroke-width="1.3"/>
<rect x="556.70" y="235.00" width="4.20" height="4.20" fill="#f26522"/>
<line x1="553.30" y1="250.40" x2="564.30" y2="250.40" stroke="#3d37b0" stroke-width="1.3"/>
<path d="M558.8,248.20000000000002 L561.0,252.16 L556.5999999999999,252.16Z" fill="#3d37b0" stroke="none" stroke-width="1"/>
<line x1="553.30" y1="262.40" x2="564.30" y2="262.40" stroke="#2fa878" stroke-width="1.3"/>
<path d="M558.8,264.59999999999997 L561.0,260.64 L556.5999999999999,260.64Z" fill="#2fa878" stroke="none" stroke-width="1"/>
<text x="567.70" y="228.40" font-size="10.49" textLength="17.60" lengthAdjust="spacingAndGlyphs">SCR</text>
<text x="567.70" y="240.60" font-size="10.49" textLength="51.00" lengthAdjust="spacingAndGlyphs"><tspan font-style="italic">DLX1</tspan>-KO C-1</text>
<text x="567.70" y="253.90" font-size="10.49" textLength="51.00" lengthAdjust="spacingAndGlyphs"><tspan font-style="italic">DLX1</tspan>-KO C-2</text>
<text x="567.70" y="265.90" font-size="10.49" textLength="51.00" lengthAdjust="spacingAndGlyphs"><tspan font-style="italic">DLX1</tspan>-KO C-3</text>
<polyline points="662.20,238.10 664.20,238.10 664.20,280.50 662.20,280.50" fill="none" stroke="#444" stroke-width="0.8"/>
<text x="672.60" y="257.90" font-size="7.38" text-anchor="middle" textLength="28.50" lengthAdjust="spacingAndGlyphs" transform="rotate(-90 672.60 257.90)"><tspan font-style="italic">P</tspan>&lt;0.0001</text>
<line x1="658.09" y1="247.32" x2="658.09" y2="237.31" stroke="#4a4a4a" stroke-width="0.8"/>
<line x1="656.59" y1="237.31" x2="659.59" y2="237.31" stroke="#4a4a4a" stroke-width="0.8"/>
<line x1="656.59" y1="248.32" x2="659.59" y2="248.32" stroke="#4a4a4a" stroke-width="0.8"/>
<text x="0.00" y="400.60" font-size="16.91" font-weight="bold" fill="#000">i</text>
<rect x="34.4" y="404.5" width="163.8" height="38.8" fill="#fff" stroke="#3a3a3a" stroke-width="1.3"/>
<clipPath id="cp1"><rect x="35.90" y="405.80" width="39.10" height="36.10"/></clipPath>
<g clip-path="url(#cp1)"><g filter="url(#blur04)">
<rect x="34.90" y="404.80" width="41.10" height="38.10" fill="#c8a4b8"/>
<circle cx="35.40" cy="409.08" r="1.45" fill="#9a34c8"/>
<circle cx="40.60" cy="409.08" r="1.22" fill="#a23ccc"/>
<circle cx="40.96" cy="433.02" r="1.83" fill="#a23ccc"/>
<circle cx="44.40" cy="432.70" r="1.64" fill="#a23ccc"/>
<circle cx="75.85" cy="408.35" r="0.93" fill="#a848d0"/>
<circle cx="48.94" cy="412.65" r="1.45" fill="#a23ccc"/>
<circle cx="43.54" cy="413.06" r="1.72" fill="#9a34c8"/>
<circle cx="74.10" cy="436.75" r="1.40" fill="#a23ccc"/>
<circle cx="40.97" cy="435.13" r="1.43" fill="#9a34c8"/>
<circle cx="65.11" cy="437.88" r="1.81" fill="#a23ccc"/>
<circle cx="43.44" cy="421.27" r="1.41" fill="#9030c0"/>
<circle cx="61.24" cy="413.15" r="0.96" fill="#9030c0"/>
<circle cx="46.96" cy="426.59" r="1.57" fill="#9030c0"/>
<circle cx="74.41" cy="442.00" r="2.29" fill="#9030c0"/>
<circle cx="71.74" cy="426.13" r="2.21" fill="#9030c0"/>
<circle cx="38.74" cy="412.15" r="2.19" fill="#9030c0"/>
<circle cx="63.48" cy="408.44" r="1.46" fill="#9030c0"/>
<circle cx="61.59" cy="442.58" r="1.18" fill="#a848d0"/>
<circle cx="43.23" cy="417.52" r="1.46" fill="#9a34c8"/>
<circle cx="57.99" cy="409.30" r="1.04" fill="#9a34c8"/>
<circle cx="74.39" cy="412.46" r="1.13" fill="#a23ccc"/>
<circle cx="54.45" cy="423.78" r="2.00" fill="#9030c0"/>
<circle cx="70.26" cy="442.19" r="1.59" fill="#9a34c8"/>
<circle cx="70.02" cy="423.29" r="2.02" fill="#a848d0"/>
<circle cx="74.90" cy="434.04" r="1.26" fill="#a848d0"/>
<circle cx="49.23" cy="405.23" r="1.43" fill="#9030c0"/>
<circle cx="53.22" cy="442.64" r="1.09" fill="#9a34c8"/>
<circle cx="72.85" cy="438.59" r="2.00" fill="#9030c0"/>
<circle cx="63.23" cy="425.93" r="1.68" fill="#a848d0"/>
<circle cx="44.23" cy="412.22" r="1.76" fill="#9030c0"/>
<circle cx="64.37" cy="422.59" r="1.09" fill="#9a34c8"/>
<circle cx="56.38" cy="418.02" r="1.17" fill="#9030c0"/>
<circle cx="63.26" cy="426.89" r="1.13" fill="#9a34c8"/>
<circle cx="65.01" cy="412.71" r="1.24" fill="#9030c0"/>
<circle cx="43.32" cy="438.72" r="1.33" fill="#a23ccc"/>
<circle cx="72.68" cy="415.07" r="2.21" fill="#9a34c8"/>
<circle cx="36.26" cy="428.22" r="2.15" fill="#9030c0"/>
<circle cx="56.95" cy="421.37" r="1.88" fill="#a23ccc"/>
<circle cx="51.39" cy="435.95" r="1.44" fill="#a23ccc"/>
<circle cx="44.76" cy="417.07" r="1.32" fill="#9030c0"/>
<circle cx="39.52" cy="413.03" r="2.26" fill="#a848d0"/>
<circle cx="71.41" cy="422.02" r="1.81" fill="#a23ccc"/>
<circle cx="52.07" cy="407.39" r="1.12" fill="#a848d0"/>
<circle cx="69.09" cy="442.18" r="1.29" fill="#9030c0"/>
<circle cx="66.04" cy="416.25" r="2.18" fill="#9030c0"/>
<circle cx="51.48" cy="434.41" r="1.23" fill="#a23ccc"/>
<circle cx="69.69" cy="425.41" r="1.35" fill="#9a34c8"/>
<circle cx="62.45" cy="431.77" r="0.93" fill="#a848d0"/>
<circle cx="73.58" cy="430.46" r="1.63" fill="#9030c0"/>
<circle cx="47.58" cy="419.57" r="1.85" fill="#a23ccc"/>
<circle cx="66.44" cy="406.64" r="1.70" fill="#a23ccc"/>
<circle cx="36.88" cy="441.17" r="1.86" fill="#9030c0"/>
<circle cx="46.12" cy="408.91" r="1.67" fill="#9030c0"/>
<circle cx="45.10" cy="423.53" r="2.30" fill="#a23ccc"/>
<circle cx="66.38" cy="416.57" r="2.02" fill="#a848d0"/>
<circle cx="44.16" cy="437.62" r="1.66" fill="#9a34c8"/>
<circle cx="35.85" cy="435.39" r="1.52" fill="#a848d0"/>
<circle cx="66.08" cy="430.22" r="0.90" fill="#9030c0"/>
<circle cx="44.56" cy="442.64" r="1.55" fill="#9030c0"/>
<circle cx="37.24" cy="426.49" r="2.17" fill="#9030c0"/>
<circle cx="60.34" cy="412.50" r="1.21" fill="#9a34c8"/>
<circle cx="63.02" cy="436.76" r="0.95" fill="#a848d0"/>
<circle cx="53.43" cy="420.10" r="2.04" fill="#9030c0"/>
<circle cx="52.50" cy="425.99" r="2.00" fill="#a848d0"/>
<circle cx="37.20" cy="437.99" r="1.33" fill="#a23ccc"/>
<circle cx="40.04" cy="419.32" r="1.22" fill="#9030c0"/>
<circle cx="48.90" cy="439.82" r="1.98" fill="#9030c0"/>
<circle cx="59.47" cy="436.07" r="1.49" fill="#9a34c8"/>
<circle cx="42.56" cy="413.41" r="1.26" fill="#a23ccc"/>
<circle cx="39.68" cy="437.24" r="1.89" fill="#9030c0"/>
<circle cx="45.83" cy="434.50" r="1.50" fill="#9a34c8"/>
<circle cx="55.84" cy="417.51" r="2.16" fill="#a848d0"/>
<circle cx="54.50" cy="410.26" r="1.51" fill="#a23ccc"/>
<circle cx="37.45" cy="427.70" r="1.34" fill="#9030c0"/>
<circle cx="57.46" cy="434.28" r="1.07" fill="#a23ccc"/>
<circle cx="57.56" cy="427.36" r="1.97" fill="#9030c0"/>
<circle cx="40.66" cy="416.39" r="1.44" fill="#a848d0"/>
<circle cx="57.20" cy="437.41" r="2.27" fill="#9030c0"/>
<circle cx="65.66" cy="429.42" r="1.14" fill="#a23ccc"/>
<circle cx="54.41" cy="425.15" r="2.04" fill="#a23ccc"/>
<circle cx="52.40" cy="441.63" r="1.14" fill="#a23ccc"/>
<circle cx="62.94" cy="427.07" r="2.02" fill="#a848d0"/>
<circle cx="71.79" cy="436.17" r="1.37" fill="#a848d0"/>
<circle cx="50.18" cy="433.85" r="1.91" fill="#a848d0"/>
<circle cx="70.14" cy="410.98" r="1.89" fill="#a848d0"/>
<circle cx="59.21" cy="417.98" r="2.10" fill="#9a34c8"/>
<circle cx="65.88" cy="439.34" r="1.74" fill="#a23ccc"/>
<circle cx="37.57" cy="405.52" r="0.97" fill="#9030c0"/>
<circle cx="58.19" cy="413.86" r="1.42" fill="#a848d0"/>
<circle cx="47.14" cy="406.78" r="1.32" fill="#9a34c8"/>
<circle cx="37.58" cy="420.19" r="1.62" fill="#a23ccc"/>
<circle cx="61.60" cy="417.91" r="1.66" fill="#a848d0"/>
<circle cx="74.95" cy="437.64" r="1.89" fill="#9a34c8"/>
<circle cx="48.28" cy="414.30" r="2.12" fill="#a848d0"/>
<circle cx="72.85" cy="418.48" r="1.48" fill="#a23ccc"/>
<circle cx="75.05" cy="431.90" r="1.78" fill="#a23ccc"/>
<circle cx="72.86" cy="426.44" r="1.11" fill="#9a34c8"/>
<circle cx="71.79" cy="415.50" r="1.16" fill="#a23ccc"/>
<circle cx="49.04" cy="410.91" r="1.55" fill="#9030c0"/>
<circle cx="73.49" cy="415.37" r="1.40" fill="#9030c0"/>
<circle cx="74.70" cy="422.55" r="1.90" fill="#a848d0"/>
<circle cx="43.13" cy="420.61" r="1.65" fill="#9a34c8"/>
<circle cx="35.58" cy="425.13" r="1.64" fill="#a848d0"/>
<circle cx="52.24" cy="424.26" r="1.88" fill="#a848d0"/>
<circle cx="55.09" cy="424.80" r="1.67" fill="#9a34c8"/>
<circle cx="44.77" cy="431.00" r="2.27" fill="#9030c0"/>
<circle cx="65.86" cy="419.93" r="1.02" fill="#a23ccc"/>
<circle cx="41.43" cy="427.76" r="1.45" fill="#a848d0"/>
<circle cx="74.24" cy="409.67" r="1.82" fill="#9030c0"/>
<circle cx="48.97" cy="414.72" r="1.28" fill="#9a34c8"/>
<circle cx="35.95" cy="419.90" r="0.96" fill="#9a34c8"/>
<circle cx="53.23" cy="441.13" r="1.55" fill="#a848d0"/>
<circle cx="66.66" cy="440.34" r="1.14" fill="#9030c0"/>
<circle cx="50.15" cy="410.98" r="1.30" fill="#9030c0"/>
<circle cx="71.13" cy="409.32" r="1.25" fill="#9a34c8"/>
<circle cx="37.70" cy="413.04" r="0.96" fill="#a848d0"/>
<circle cx="43.84" cy="408.68" r="0.97" fill="#a848d0"/>
<circle cx="56.39" cy="406.96" r="0.95" fill="#a23ccc"/>
<circle cx="41.21" cy="409.27" r="1.68" fill="#9a34c8"/>
<circle cx="37.54" cy="436.79" r="1.35" fill="#9030c0"/>
<circle cx="48.30" cy="436.10" r="1.42" fill="#9a34c8"/>
<circle cx="70.61" cy="438.23" r="2.08" fill="#a848d0"/>
<circle cx="44.12" cy="422.73" r="1.86" fill="#a23ccc"/>
<circle cx="58.08" cy="429.37" r="0.93" fill="#9a34c8"/>
<circle cx="63.53" cy="436.38" r="2.29" fill="#a23ccc"/>
<circle cx="60.54" cy="410.44" r="1.54" fill="#a23ccc"/>
<circle cx="58.38" cy="427.77" r="2.12" fill="#a848d0"/>
<circle cx="60.61" cy="419.01" r="1.96" fill="#a848d0"/>
<circle cx="49.02" cy="435.08" r="1.83" fill="#a848d0"/>
<circle cx="55.69" cy="408.50" r="1.68" fill="#a23ccc"/>
<circle cx="49.72" cy="439.45" r="2.04" fill="#a23ccc"/>
<circle cx="39.64" cy="409.90" r="1.99" fill="#9030c0"/>
<circle cx="69.46" cy="435.36" r="1.89" fill="#9030c0"/>
<circle cx="35.68" cy="438.37" r="1.84" fill="#a848d0"/>
<circle cx="50.50" cy="435.66" r="1.63" fill="#9030c0"/>
<circle cx="43.55" cy="416.89" r="1.03" fill="#a848d0"/>
<circle cx="58.63" cy="437.66" r="1.80" fill="#a23ccc"/>
<circle cx="73.51" cy="429.82" r="1.99" fill="#a23ccc"/>
<circle cx="57.86" cy="432.13" r="2.11" fill="#9a34c8"/>
<circle cx="56.33" cy="437.38" r="1.88" fill="#9030c0"/>
<circle cx="59.40" cy="414.36" r="1.40" fill="#a848d0"/>
<circle cx="58.79" cy="405.12" r="1.75" fill="#a23ccc"/>
<circle cx="75.84" cy="440.05" r="1.34" fill="#9030c0"/>
<circle cx="71.19" cy="417.23" r="1.47" fill="#9a34c8"/>
<circle cx="64.57" cy="419.78" r="1.88" fill="#9a34c8"/>
<circle cx="75.39" cy="427.49" r="1.95" fill="#a23ccc"/>
<circle cx="51.62" cy="431.67" r="1.56" fill="#9030c0"/>
<circle cx="65.39" cy="436.63" r="1.05" fill="#9a34c8"/>
<circle cx="44.24" cy="408.00" r="1.17" fill="#9a34c8"/>
<circle cx="52.72" cy="424.46" r="1.89" fill="#9030c0"/>
<circle cx="56.80" cy="430.82" r="1.03" fill="#a23ccc"/>
<circle cx="52.53" cy="418.47" r="1.85" fill="#9a34c8"/>
<circle cx="55.90" cy="414.46" r="1.16" fill="#9a34c8"/>
<circle cx="65.00" cy="437.84" r="1.71" fill="#9a34c8"/>
<circle cx="69.49" cy="420.13" r="1.61" fill="#a23ccc"/>
<circle cx="61.31" cy="418.63" r="1.18" fill="#9030c0"/>
<circle cx="61.28" cy="429.37" r="1.49" fill="#a23ccc"/>
<circle cx="52.97" cy="432.67" r="1.68" fill="#9030c0"/>
<circle cx="43.24" cy="407.74" r="2.05" fill="#a848d0"/>
<circle cx="55.88" cy="439.61" r="1.15" fill="#9030c0"/>
<circle cx="55.59" cy="408.81" r="1.08" fill="#9a34c8"/>
<circle cx="68.48" cy="430.65" r="2.18" fill="#9a34c8"/>
<circle cx="36.85" cy="423.61" r="2.26" fill="#9030c0"/>
<circle cx="46.63" cy="410.12" r="1.04" fill="#a23ccc"/>
<circle cx="35.85" cy="422.83" r="2.20" fill="#a23ccc"/>
<circle cx="61.87" cy="436.49" r="2.23" fill="#9030c0"/>
<circle cx="50.39" cy="410.23" r="1.32" fill="#9030c0"/>
<circle cx="40.47" cy="425.10" r="1.60" fill="#a23ccc"/>
<circle cx="45.00" cy="432.16" r="1.96" fill="#9030c0"/>
<circle cx="67.56" cy="431.92" r="1.61" fill="#9030c0"/>
<circle cx="56.74" cy="406.78" r="1.28" fill="#9a34c8"/>
<circle cx="59.59" cy="412.62" r="2.00" fill="#a848d0"/>
<circle cx="67.97" cy="406.60" r="1.94" fill="#9a34c8"/>
<circle cx="70.29" cy="412.70" r="2.28" fill="#a848d0"/>
<circle cx="70.85" cy="406.82" r="1.44" fill="#a848d0"/>
<circle cx="42.18" cy="422.25" r="1.27" fill="#9030c0"/>
<circle cx="59.25" cy="418.44" r="1.98" fill="#9030c0"/>
<circle cx="59.45" cy="409.98" r="1.09" fill="#a23ccc"/>
<circle cx="60.16" cy="405.19" r="2.25" fill="#a848d0"/>
<circle cx="70.84" cy="425.07" r="1.69" fill="#9a34c8"/>
<circle cx="49.27" cy="424.25" r="0.97" fill="#a848d0"/>
<circle cx="61.65" cy="407.63" r="2.28" fill="#9030c0"/>
<circle cx="65.28" cy="422.20" r="1.08" fill="#a23ccc"/>
<circle cx="71.90" cy="441.79" r="1.47" fill="#9030c0"/>
<circle cx="37.02" cy="430.19" r="2.02" fill="#9a34c8"/>
<circle cx="72.01" cy="441.51" r="1.80" fill="#9030c0"/>
<circle cx="73.29" cy="412.42" r="2.28" fill="#a848d0"/>
<circle cx="75.13" cy="421.63" r="1.55" fill="#a23ccc"/>
<circle cx="36.73" cy="420.51" r="1.64" fill="#a23ccc"/>
<circle cx="42.38" cy="408.41" r="1.44" fill="#a848d0"/>
<circle cx="41.17" cy="412.57" r="0.91" fill="#c9a9b9"/>
<circle cx="56.13" cy="414.99" r="1.06" fill="#c9a9b9"/>
<circle cx="49.44" cy="408.04" r="1.28" fill="#c9a9b9"/>
<circle cx="57.08" cy="438.31" r="1.06" fill="#c9a9b9"/>
<circle cx="69.52" cy="427.80" r="1.05" fill="#c9a9b9"/>
<circle cx="72.63" cy="418.83" r="1.38" fill="#c9a9b9"/>
<circle cx="58.90" cy="440.06" r="0.77" fill="#c9a9b9"/>
<circle cx="56.99" cy="417.19" r="1.27" fill="#c9a9b9"/>
<circle cx="71.52" cy="436.84" r="0.97" fill="#c9a9b9"/>
<circle cx="38.76" cy="440.97" r="0.84" fill="#c9a9b9"/>
<circle cx="68.20" cy="427.18" r="1.21" fill="#c9a9b9"/>
<circle cx="63.54" cy="414.35" r="0.97" fill="#c9a9b9"/>
<circle cx="50.93" cy="431.19" r="1.18" fill="#c9a9b9"/>
<circle cx="74.63" cy="425.21" r="0.94" fill="#c9a9b9"/>
<circle cx="40.59" cy="421.76" r="1.12" fill="#c9a9b9"/>
<circle cx="62.80" cy="406.81" r="0.84" fill="#c9a9b9"/>
<circle cx="60.78" cy="434.15" r="1.36" fill="#c9a9b9"/>
<circle cx="41.29" cy="432.08" r="1.01" fill="#c9a9b9"/>
<circle cx="59.00" cy="430.50" r="0.98" fill="#c9a9b9"/>
<circle cx="59.62" cy="440.67" r="0.72" fill="#c9a9b9"/>
<circle cx="57.44" cy="441.89" r="1.31" fill="#c9a9b9"/>
<circle cx="45.70" cy="434.05" r="1.34" fill="#c9a9b9"/>
<circle cx="51.91" cy="425.65" r="0.91" fill="#c9a9b9"/>
<circle cx="74.89" cy="412.46" r="1.19" fill="#c9a9b9"/>
<circle cx="74.61" cy="441.00" r="1.30" fill="#c9a9b9"/>
<circle cx="52.87" cy="439.67" r="1.30" fill="#c9a9b9"/>
<circle cx="52.35" cy="419.33" r="0.93" fill="#c9a9b9"/>
<circle cx="48.58" cy="426.40" r="0.99" fill="#c9a9b9"/>
<circle cx="73.38" cy="405.83" r="1.12" fill="#c9a9b9"/>
<circle cx="52.74" cy="441.82" r="1.40" fill="#c9a9b9"/>
<circle cx="63.81" cy="432.13" r="0.97" fill="#c9a9b9"/>
<circle cx="63.20" cy="414.59" r="1.27" fill="#c9a9b9"/>
<circle cx="58.37" cy="414.15" r="0.85" fill="#c9a9b9"/>
<circle cx="51.10" cy="418.27" r="1.17" fill="#c9a9b9"/>
<circle cx="54.04" cy="407.03" r="0.93" fill="#c9a9b9"/>
<circle cx="53.62" cy="441.53" r="1.35" fill="#c9a9b9"/>
<circle cx="59.98" cy="440.62" r="0.81" fill="#c9a9b9"/>
<circle cx="43.96" cy="411.25" r="0.88" fill="#c9a9b9"/>
<circle cx="46.87" cy="425.30" r="1.32" fill="#c9a9b9"/>
<circle cx="49.71" cy="417.47" r="1.03" fill="#c9a9b9"/>
<circle cx="72.99" cy="424.08" r="1.39" fill="#c9a9b9"/>
<circle cx="47.94" cy="425.73" r="1.14" fill="#c9a9b9"/>
<circle cx="64.04" cy="436.02" r="0.78" fill="#c9a9b9"/>
<circle cx="43.96" cy="409.62" r="1.24" fill="#c9a9b9"/>
<circle cx="55.21" cy="423.62" r="0.73" fill="#c9a9b9"/>
</g></g>
<clipPath id="cp2"><rect x="76.60" y="405.80" width="39.10" height="36.10"/></clipPath>
<g clip-path="url(#cp2)"><g filter="url(#blur04)">
<rect x="75.60" y="404.80" width="41.10" height="38.10" fill="#b8877e"/>
<circle cx="108.50" cy="441.79" r="0.46" fill="#a070b8"/>
<circle cx="103.64" cy="429.07" r="0.58" fill="#8e5cb4"/>
<circle cx="92.46" cy="437.91" r="0.45" fill="#9a68bc"/>
<circle cx="82.11" cy="411.90" r="0.68" fill="#8a58b0"/>
<circle cx="107.49" cy="420.02" r="0.95" fill="#9a68bc"/>
<circle cx="108.96" cy="421.25" r="0.67" fill="#8a58b0"/>
<circle cx="78.86" cy="422.38" r="0.73" fill="#8e5cb4"/>
<circle cx="76.54" cy="418.77" r="0.94" fill="#a070b8"/>
<circle cx="95.39" cy="414.62" r="0.54" fill="#8a58b0"/>
<circle cx="104.22" cy="413.96" r="0.91" fill="#9a68bc"/>
<circle cx="112.84" cy="419.66" r="0.46" fill="#8a58b0"/>
<circle cx="101.86" cy="421.17" r="0.63" fill="#8e5cb4"/>
<circle cx="76.00" cy="424.68" r="0.92" fill="#8e5cb4"/>
<circle cx="81.20" cy="440.58" r="0.61" fill="#9a68bc"/>
<circle cx="100.79" cy="416.52" r="0.99" fill="#9a68bc"/>
<circle cx="108.36" cy="435.18" r="0.85" fill="#8a58b0"/>
<circle cx="89.02" cy="406.84" r="1.14" fill="#8e5cb4"/>
<circle cx="91.71" cy="429.94" r="1.07" fill="#9a68bc"/>
<circle cx="83.80" cy="424.22" r="0.56" fill="#8e5cb4"/>
<circle cx="76.36" cy="431.55" r="1.03" fill="#9a68bc"/>
<circle cx="89.66" cy="406.13" r="0.58" fill="#a070b8"/>
<circle cx="78.76" cy="431.27" r="0.56" fill="#a070b8"/>
<circle cx="80.26" cy="409.75" r="0.59" fill="#8e5cb4"/>
<circle cx="76.33" cy="422.98" r="1.09" fill="#a070b8"/>
<circle cx="76.23" cy="430.06" r="0.67" fill="#9a68bc"/>
<circle cx="101.93" cy="407.53" r="0.85" fill="#8e5cb4"/>
<circle cx="106.66" cy="439.07" r="0.90" fill="#a070b8"/>
<circle cx="101.60" cy="406.99" r="0.94" fill="#9a68bc"/>
<circle cx="106.23" cy="428.33" r="0.94" fill="#a070b8"/>
<circle cx="104.57" cy="421.01" r="0.67" fill="#a070b8"/>
<circle cx="81.10" cy="431.17" r="0.78" fill="#a070b8"/>
<circle cx="83.07" cy="425.97" r="0.91" fill="#a070b8"/>
<circle cx="110.61" cy="436.08" r="0.62" fill="#a070b8"/>
<circle cx="88.14" cy="442.18" r="1.07" fill="#8e5cb4"/>
<circle cx="114.67" cy="442.79" r="0.99" fill="#8e5cb4"/>
<circle cx="106.33" cy="431.73" r="0.78" fill="#8e5cb4"/>
<circle cx="109.12" cy="423.63" r="0.75" fill="#a070b8"/>
<circle cx="110.44" cy="416.16" r="1.04" fill="#9a68bc"/>
<circle cx="84.67" cy="425.11" r="0.84" fill="#8a58b0"/>
<circle cx="78.35" cy="441.37" r="0.80" fill="#8a58b0"/>
<circle cx="114.66" cy="417.70" r="0.55" fill="#a070b8"/>
<circle cx="108.54" cy="421.59" r="0.79" fill="#8e5cb4"/>
<circle cx="101.26" cy="437.61" r="0.49" fill="#a070b8"/>
<circle cx="105.10" cy="430.99" r="0.73" fill="#8a58b0"/>
<circle cx="96.06" cy="423.86" r="1.07" fill="#8e5cb4"/>
<circle cx="101.37" cy="428.52" r="0.80" fill="#9a68bc"/>
<circle cx="78.70" cy="423.92" r="1.11" fill="#8e5cb4"/>
<circle cx="105.65" cy="429.17" r="0.59" fill="#9a68bc"/>
<circle cx="93.91" cy="440.55" r="0.47" fill="#8e5cb4"/>
<circle cx="116.20" cy="437.68" r="0.94" fill="#9a68bc"/>
<circle cx="101.88" cy="433.51" r="1.02" fill="#8e5cb4"/>
<circle cx="94.95" cy="407.24" r="0.47" fill="#8a58b0"/>
<circle cx="86.78" cy="411.37" r="0.69" fill="#8e5cb4"/>
<circle cx="83.85" cy="442.05" r="1.06" fill="#9a68bc"/>
<circle cx="78.11" cy="409.11" r="0.91" fill="#a070b8"/>
<circle cx="87.80" cy="413.83" r="0.60" fill="#9a68bc"/>
<circle cx="96.52" cy="428.33" r="0.92" fill="#a070b8"/>
<circle cx="109.78" cy="420.98" r="0.82" fill="#8a58b0"/>
<circle cx="86.12" cy="440.35" r="1.05" fill="#a070b8"/>
<circle cx="81.97" cy="414.90" r="0.91" fill="#8e5cb4"/>
<circle cx="97.70" cy="406.55" r="0.65" fill="#a070b8"/>
<circle cx="83.19" cy="428.47" r="0.92" fill="#9a68bc"/>
<circle cx="93.14" cy="411.96" r="0.74" fill="#a070b8"/>
<circle cx="99.70" cy="428.49" r="0.86" fill="#9a68bc"/>
<circle cx="106.12" cy="418.21" r="1.09" fill="#8a58b0"/>
<circle cx="91.19" cy="428.61" r="1.06" fill="#8e5cb4"/>
<circle cx="99.28" cy="410.22" r="0.85" fill="#8a58b0"/>
<circle cx="84.56" cy="436.38" r="0.58" fill="#8a58b0"/>
<circle cx="114.59" cy="437.21" r="0.98" fill="#8a58b0"/>
<circle cx="88.57" cy="428.96" r="1.02" fill="#9a68bc"/>
<circle cx="83.97" cy="417.71" r="0.50" fill="#a070b8"/>
<circle cx="106.49" cy="409.24" r="1.10" fill="#8a58b0"/>
<circle cx="82.01" cy="412.52" r="0.99" fill="#a070b8"/>
<circle cx="93.71" cy="412.72" r="0.70" fill="#8a58b0"/>
<circle cx="89.29" cy="419.41" r="1.08" fill="#8e5cb4"/>
<circle cx="94.46" cy="425.80" r="0.94" fill="#8e5cb4"/>
<circle cx="106.77" cy="415.68" r="0.73" fill="#8a58b0"/>
<circle cx="92.69" cy="406.58" r="0.64" fill="#8e5cb4"/>
<circle cx="80.98" cy="422.98" r="0.97" fill="#8a58b0"/>
<circle cx="113.20" cy="439.20" r="0.84" fill="#8e5cb4"/>
<circle cx="114.45" cy="411.50" r="0.98" fill="#8e5cb4"/>
<circle cx="84.82" cy="428.95" r="0.48" fill="#a070b8"/>
<circle cx="100.91" cy="411.81" r="0.62" fill="#8a58b0"/>
<circle cx="83.19" cy="407.05" r="0.90" fill="#8a58b0"/>
<circle cx="110.65" cy="408.44" r="0.73" fill="#9a68bc"/>
<circle cx="106.93" cy="438.11" r="0.69" fill="#8a58b0"/>
<circle cx="93.98" cy="422.48" r="0.76" fill="#9a68bc"/>
<circle cx="106.32" cy="432.58" r="0.91" fill="#9a68bc"/>
<circle cx="82.59" cy="413.27" r="0.66" fill="#a070b8"/>
<circle cx="88.63" cy="424.29" r="0.56" fill="#8a58b0"/>
<circle cx="116.09" cy="430.96" r="1.06" fill="#a070b8"/>
<circle cx="98.17" cy="414.00" r="0.52" fill="#a070b8"/>
<circle cx="94.48" cy="427.17" r="0.81" fill="#8a58b0"/>
<circle cx="77.37" cy="432.12" r="0.58" fill="#8e5cb4"/>
<circle cx="104.90" cy="421.49" r="1.12" fill="#a070b8"/>
<circle cx="93.09" cy="410.60" r="0.71" fill="#9a68bc"/>
<circle cx="92.74" cy="425.28" r="1.09" fill="#9a68bc"/>
<circle cx="112.57" cy="440.73" r="0.56" fill="#a070b8"/>
<circle cx="111.00" cy="442.14" r="0.83" fill="#8e5cb4"/>
<circle cx="80.32" cy="416.26" r="0.96" fill="#9a68bc"/>
<circle cx="80.78" cy="431.54" r="1.05" fill="#a070b8"/>
<circle cx="87.79" cy="436.14" r="0.72" fill="#a070b8"/>
<circle cx="86.31" cy="423.55" r="0.84" fill="#a070b8"/>
<circle cx="86.43" cy="430.24" r="0.71" fill="#8e5cb4"/>
<circle cx="113.80" cy="416.58" r="0.93" fill="#8e5cb4"/>
<circle cx="112.98" cy="411.32" r="1.05" fill="#9a68bc"/>
<circle cx="106.38" cy="423.27" r="0.83" fill="#8e5cb4"/>
<circle cx="114.17" cy="416.79" r="0.59" fill="#9a68bc"/>
<circle cx="81.20" cy="416.92" r="0.85" fill="#a070b8"/>
<circle cx="97.54" cy="437.73" r="0.78" fill="#a070b8"/>
<circle cx="111.31" cy="434.10" r="1.00" fill="#9a68bc"/>
<circle cx="102.72" cy="424.16" r="0.83" fill="#8a58b0"/>
<circle cx="108.04" cy="415.89" r="0.51" fill="#9a68bc"/>
<circle cx="102.71" cy="425.87" r="1.02" fill="#9a68bc"/>
<circle cx="104.67" cy="424.05" r="0.77" fill="#8a58b0"/>
<circle cx="113.26" cy="437.43" r="0.75" fill="#c09088"/>
<circle cx="99.53" cy="410.84" r="0.95" fill="#c09088"/>
<circle cx="112.99" cy="409.53" r="0.61" fill="#c09088"/>
<circle cx="80.31" cy="431.04" r="0.62" fill="#c09088"/>
<circle cx="76.61" cy="441.45" r="0.62" fill="#c09088"/>
<circle cx="98.17" cy="431.73" r="0.96" fill="#c09088"/>
<circle cx="77.01" cy="409.77" r="0.67" fill="#c09088"/>
<circle cx="100.31" cy="435.26" r="0.94" fill="#c09088"/>
<circle cx="111.79" cy="430.74" r="0.62" fill="#c09088"/>
<circle cx="110.92" cy="430.10" r="0.80" fill="#c09088"/>
<circle cx="87.23" cy="415.54" r="0.97" fill="#c09088"/>
<circle cx="97.63" cy="423.61" r="0.62" fill="#c09088"/>
<circle cx="86.52" cy="411.28" r="0.87" fill="#c09088"/>
<circle cx="100.33" cy="418.33" r="0.65" fill="#c09088"/>
<circle cx="98.84" cy="417.96" r="0.92" fill="#c09088"/>
<circle cx="114.73" cy="420.15" r="0.90" fill="#c09088"/>
<circle cx="92.16" cy="441.87" r="0.65" fill="#c09088"/>
<circle cx="105.15" cy="428.38" r="0.99" fill="#c09088"/>
<circle cx="82.84" cy="415.01" r="0.77" fill="#c09088"/>
<circle cx="108.66" cy="430.06" r="0.61" fill="#c09088"/>
<circle cx="97.38" cy="434.95" r="0.94" fill="#c09088"/>
<circle cx="100.01" cy="423.92" r="0.64" fill="#c09088"/>
<circle cx="98.36" cy="418.53" r="0.89" fill="#c09088"/>
<circle cx="111.74" cy="434.94" r="0.57" fill="#c09088"/>
<circle cx="111.74" cy="406.84" r="0.93" fill="#c09088"/>
<circle cx="86.54" cy="411.23" r="0.58" fill="#c09088"/>
<circle cx="92.70" cy="429.08" r="0.55" fill="#c09088"/>
<circle cx="78.21" cy="417.57" r="0.79" fill="#c09088"/>
<circle cx="87.23" cy="412.69" r="0.57" fill="#c09088"/>
<circle cx="83.56" cy="440.79" r="0.80" fill="#c09088"/>
<circle cx="78.87" cy="435.25" r="0.69" fill="#c09088"/>
<circle cx="101.24" cy="424.15" r="0.57" fill="#c09088"/>
<circle cx="97.50" cy="418.43" r="0.96" fill="#c09088"/>
<circle cx="91.92" cy="414.28" r="0.67" fill="#c09088"/>
<circle cx="81.36" cy="407.28" r="0.79" fill="#c09088"/>
<circle cx="112.67" cy="431.06" r="0.67" fill="#c09088"/>
<circle cx="79.10" cy="412.71" r="0.89" fill="#c09088"/>
<circle cx="102.54" cy="425.84" r="0.81" fill="#c09088"/>
<circle cx="89.99" cy="421.96" r="0.56" fill="#c09088"/>
<circle cx="89.22" cy="427.59" r="0.94" fill="#c09088"/>
<circle cx="84.43" cy="424.62" r="0.75" fill="#c09088"/>
<circle cx="110.04" cy="429.86" r="0.70" fill="#c09088"/>
<circle cx="78.63" cy="438.72" r="0.61" fill="#c09088"/>
<circle cx="101.89" cy="435.53" r="0.98" fill="#c09088"/>
<circle cx="103.89" cy="425.12" r="0.74" fill="#c09088"/>
<circle cx="100.48" cy="410.44" r="0.97" fill="#c09088"/>
<circle cx="80.18" cy="439.09" r="0.98" fill="#c09088"/>
<circle cx="81.64" cy="414.04" r="0.91" fill="#c09088"/>
<circle cx="77.89" cy="435.59" r="0.74" fill="#c09088"/>
<circle cx="108.48" cy="427.57" r="0.89" fill="#c09088"/>
</g></g>
<clipPath id="cp3"><rect x="117.60" y="405.80" width="39.10" height="36.10"/></clipPath>
<g clip-path="url(#cp3)"><g filter="url(#blur04)">
<rect x="116.60" y="404.80" width="41.10" height="38.10" fill="#b8877e"/>
<circle cx="126.76" cy="429.05" r="0.61" fill="#a070b8"/>
<circle cx="118.72" cy="438.74" r="1.03" fill="#8a58b0"/>
<circle cx="136.43" cy="428.62" r="0.79" fill="#a070b8"/>
<circle cx="126.57" cy="434.07" r="1.11" fill="#8e5cb4"/>
<circle cx="146.70" cy="420.94" r="0.84" fill="#9a68bc"/>
<circle cx="136.63" cy="407.85" r="0.97" fill="#8a58b0"/>
<circle cx="154.77" cy="416.35" r="0.95" fill="#8e5cb4"/>
<circle cx="148.59" cy="437.45" r="1.02" fill="#8e5cb4"/>
<circle cx="139.09" cy="442.01" r="0.83" fill="#8a58b0"/>
<circle cx="155.60" cy="427.77" r="0.68" fill="#8a58b0"/>
<circle cx="116.67" cy="423.67" r="0.61" fill="#8a58b0"/>
<circle cx="138.26" cy="419.82" r="0.64" fill="#9a68bc"/>
<circle cx="153.13" cy="420.71" r="0.66" fill="#a070b8"/>
<circle cx="153.48" cy="425.63" r="0.74" fill="#8a58b0"/>
<circle cx="137.31" cy="422.43" r="0.77" fill="#9a68bc"/>
<circle cx="128.04" cy="433.43" r="0.84" fill="#a070b8"/>
<circle cx="122.84" cy="409.63" r="0.92" fill="#9a68bc"/>
<circle cx="131.50" cy="426.90" r="1.09" fill="#8a58b0"/>
<circle cx="134.20" cy="433.00" r="0.93" fill="#8e5cb4"/>
<circle cx="118.32" cy="441.04" r="0.46" fill="#9a68bc"/>
<circle cx="146.12" cy="424.92" r="1.00" fill="#9a68bc"/>
<circle cx="153.62" cy="408.05" r="0.47" fill="#8e5cb4"/>
<circle cx="141.06" cy="431.39" r="0.89" fill="#8e5cb4"/>
<circle cx="152.55" cy="438.95" r="0.73" fill="#8e5cb4"/>
<circle cx="153.27" cy="428.01" r="1.08" fill="#9a68bc"/>
<circle cx="121.54" cy="439.41" r="1.13" fill="#8a58b0"/>
<circle cx="152.77" cy="409.71" r="0.63" fill="#9a68bc"/>
<circle cx="144.81" cy="411.09" r="0.58" fill="#8e5cb4"/>
<circle cx="129.52" cy="427.50" r="0.50" fill="#8a58b0"/>
<circle cx="123.98" cy="411.00" r="0.54" fill="#a070b8"/>
<circle cx="138.11" cy="438.41" r="0.63" fill="#a070b8"/>
<circle cx="125.81" cy="425.20" r="0.59" fill="#a070b8"/>
<circle cx="138.50" cy="437.19" r="0.69" fill="#8a58b0"/>
<circle cx="145.24" cy="432.40" r="0.87" fill="#9a68bc"/>
<circle cx="139.44" cy="432.29" r="0.99" fill="#9a68bc"/>
<circle cx="152.82" cy="442.23" r="0.58" fill="#8e5cb4"/>
<circle cx="156.20" cy="425.98" r="0.56" fill="#a070b8"/>
<circle cx="155.76" cy="428.84" r="1.00" fill="#9a68bc"/>
<circle cx="134.00" cy="441.05" r="0.98" fill="#a070b8"/>
<circle cx="152.43" cy="413.16" r="0.87" fill="#8e5cb4"/>
<circle cx="149.53" cy="436.39" r="0.71" fill="#8e5cb4"/>
<circle cx="127.06" cy="415.85" r="0.95" fill="#a070b8"/>
<circle cx="146.87" cy="411.44" r="0.98" fill="#8a58b0"/>
<circle cx="142.38" cy="422.07" r="0.82" fill="#8e5cb4"/>
<circle cx="146.68" cy="425.16" r="0.70" fill="#9a68bc"/>
<circle cx="117.51" cy="429.87" r="0.95" fill="#a070b8"/>
<circle cx="143.65" cy="407.88" r="0.45" fill="#a070b8"/>
<circle cx="147.69" cy="405.30" r="0.62" fill="#a070b8"/>
<circle cx="139.40" cy="415.72" r="0.62" fill="#a070b8"/>
<circle cx="150.59" cy="427.68" r="0.88" fill="#a070b8"/>
<circle cx="128.90" cy="416.76" r="0.71" fill="#a070b8"/>
<circle cx="129.12" cy="409.48" r="0.56" fill="#8a58b0"/>
<circle cx="134.61" cy="429.95" r="0.89" fill="#8a58b0"/>
<circle cx="122.84" cy="429.65" r="0.65" fill="#8e5cb4"/>
<circle cx="148.05" cy="417.54" r="0.70" fill="#8a58b0"/>
<circle cx="133.02" cy="416.71" r="0.90" fill="#a070b8"/>
<circle cx="155.61" cy="432.31" r="0.99" fill="#8e5cb4"/>
<circle cx="121.39" cy="438.22" r="0.86" fill="#a070b8"/>
<circle cx="125.17" cy="438.90" r="0.76" fill="#9a68bc"/>
<circle cx="130.37" cy="430.24" r="1.01" fill="#8e5cb4"/>
<circle cx="131.95" cy="414.63" r="0.84" fill="#8a58b0"/>
<circle cx="156.17" cy="421.28" r="0.78" fill="#8a58b0"/>
<circle cx="151.89" cy="412.67" r="0.72" fill="#8a58b0"/>
<circle cx="139.97" cy="404.88" r="0.86" fill="#8a58b0"/>
<circle cx="132.41" cy="420.90" r="0.49" fill="#8a58b0"/>
<circle cx="157.55" cy="416.64" r="0.53" fill="#a070b8"/>
<circle cx="120.22" cy="428.61" r="1.08" fill="#9a68bc"/>
<circle cx="129.07" cy="441.95" r="0.78" fill="#9a68bc"/>
<circle cx="139.19" cy="409.17" r="1.07" fill="#8e5cb4"/>
<circle cx="116.79" cy="410.26" r="0.79" fill="#8a58b0"/>
<circle cx="151.99" cy="435.30" r="0.95" fill="#8a58b0"/>
<circle cx="154.34" cy="405.77" r="0.54" fill="#8a58b0"/>
<circle cx="120.27" cy="428.45" r="0.70" fill="#8a58b0"/>
<circle cx="135.16" cy="407.44" r="1.15" fill="#8e5cb4"/>
<circle cx="155.55" cy="425.87" r="1.01" fill="#8e5cb4"/>
<circle cx="126.56" cy="435.72" r="0.87" fill="#a070b8"/>
<circle cx="156.92" cy="420.63" r="0.71" fill="#9a68bc"/>
<circle cx="155.85" cy="409.76" r="0.67" fill="#8a58b0"/>
<circle cx="121.43" cy="430.58" r="0.91" fill="#9a68bc"/>
<circle cx="134.88" cy="411.27" r="0.87" fill="#9a68bc"/>
<circle cx="126.37" cy="423.95" r="0.48" fill="#8a58b0"/>
<circle cx="146.67" cy="425.74" r="0.76" fill="#8e5cb4"/>
<circle cx="124.09" cy="436.24" r="0.98" fill="#9a68bc"/>
<circle cx="153.81" cy="425.79" r="1.05" fill="#8a58b0"/>
<circle cx="137.17" cy="433.36" r="0.68" fill="#9a68bc"/>
<circle cx="136.74" cy="414.31" r="0.76" fill="#8a58b0"/>
<circle cx="119.58" cy="414.57" r="0.51" fill="#8e5cb4"/>
<circle cx="118.31" cy="421.60" r="0.54" fill="#a070b8"/>
<circle cx="134.86" cy="407.09" r="0.98" fill="#8a58b0"/>
<circle cx="154.32" cy="409.78" r="0.78" fill="#8a58b0"/>
<circle cx="127.56" cy="424.15" r="1.04" fill="#8a58b0"/>
<circle cx="154.18" cy="429.25" r="1.12" fill="#8a58b0"/>
<circle cx="137.59" cy="420.76" r="0.99" fill="#8e5cb4"/>
<circle cx="154.76" cy="426.55" r="0.62" fill="#9a68bc"/>
<circle cx="138.39" cy="434.41" r="0.59" fill="#a070b8"/>
<circle cx="120.45" cy="407.58" r="0.73" fill="#8a58b0"/>
<circle cx="147.07" cy="428.90" r="0.64" fill="#8a58b0"/>
<circle cx="124.78" cy="418.98" r="0.98" fill="#9a68bc"/>
<circle cx="122.29" cy="413.25" r="0.49" fill="#a070b8"/>
<circle cx="133.12" cy="427.58" r="0.90" fill="#9a68bc"/>
<circle cx="142.14" cy="429.93" r="0.91" fill="#a070b8"/>
<circle cx="139.67" cy="427.54" r="0.86" fill="#8a58b0"/>
<circle cx="135.80" cy="428.07" r="1.03" fill="#9a68bc"/>
<circle cx="129.22" cy="409.03" r="0.99" fill="#9a68bc"/>
<circle cx="140.95" cy="413.39" r="0.87" fill="#8e5cb4"/>
<circle cx="149.95" cy="439.81" r="1.08" fill="#a070b8"/>
<circle cx="120.24" cy="414.43" r="0.78" fill="#8e5cb4"/>
<circle cx="152.81" cy="423.12" r="0.65" fill="#8a58b0"/>
<circle cx="127.04" cy="410.81" r="0.57" fill="#8e5cb4"/>
<circle cx="152.38" cy="439.37" r="0.80" fill="#9a68bc"/>
<circle cx="118.41" cy="411.40" r="0.78" fill="#a070b8"/>
<circle cx="122.27" cy="438.67" r="0.59" fill="#8e5cb4"/>
<circle cx="140.04" cy="420.66" r="0.67" fill="#8e5cb4"/>
<circle cx="131.81" cy="430.03" r="0.90" fill="#9a68bc"/>
<circle cx="152.23" cy="417.36" r="0.96" fill="#a070b8"/>
<circle cx="117.88" cy="410.74" r="0.77" fill="#c09088"/>
<circle cx="131.29" cy="409.27" r="0.76" fill="#c09088"/>
<circle cx="155.75" cy="428.66" r="0.89" fill="#c09088"/>
<circle cx="148.52" cy="424.65" r="0.87" fill="#c09088"/>
<circle cx="152.87" cy="409.55" r="0.86" fill="#c09088"/>
<circle cx="124.46" cy="436.62" r="0.81" fill="#c09088"/>
<circle cx="135.42" cy="430.11" r="0.75" fill="#c09088"/>
<circle cx="139.51" cy="416.88" r="0.84" fill="#c09088"/>
<circle cx="135.52" cy="411.43" r="0.92" fill="#c09088"/>
<circle cx="155.59" cy="411.23" r="0.64" fill="#c09088"/>
<circle cx="149.16" cy="441.84" r="0.97" fill="#c09088"/>
<circle cx="139.42" cy="432.49" r="0.93" fill="#c09088"/>
<circle cx="120.00" cy="415.82" r="0.91" fill="#c09088"/>
<circle cx="127.58" cy="407.31" r="0.66" fill="#c09088"/>
<circle cx="121.18" cy="423.10" r="0.86" fill="#c09088"/>
<circle cx="132.69" cy="419.47" r="0.50" fill="#c09088"/>
<circle cx="139.63" cy="416.27" r="0.97" fill="#c09088"/>
<circle cx="128.88" cy="407.64" r="0.60" fill="#c09088"/>
<circle cx="156.20" cy="414.64" r="0.73" fill="#c09088"/>
<circle cx="144.14" cy="437.55" r="0.71" fill="#c09088"/>
<circle cx="119.82" cy="412.50" r="0.59" fill="#c09088"/>
<circle cx="117.86" cy="436.19" r="0.66" fill="#c09088"/>
<circle cx="156.05" cy="408.08" r="0.77" fill="#c09088"/>
<circle cx="155.52" cy="412.03" r="0.83" fill="#c09088"/>
<circle cx="138.46" cy="408.59" r="0.66" fill="#c09088"/>
<circle cx="147.81" cy="421.49" r="0.89" fill="#c09088"/>
<circle cx="125.02" cy="415.98" r="1.00" fill="#c09088"/>
<circle cx="123.20" cy="434.85" r="0.96" fill="#c09088"/>
<circle cx="123.98" cy="415.36" r="0.58" fill="#c09088"/>
<circle cx="140.96" cy="418.65" r="0.71" fill="#c09088"/>
<circle cx="151.00" cy="409.62" r="0.94" fill="#c09088"/>
<circle cx="124.77" cy="432.72" r="0.64" fill="#c09088"/>
<circle cx="150.69" cy="433.09" r="0.60" fill="#c09088"/>
<circle cx="139.55" cy="431.66" r="0.92" fill="#c09088"/>
<circle cx="154.10" cy="409.66" r="0.84" fill="#c09088"/>
<circle cx="151.25" cy="419.90" r="0.68" fill="#c09088"/>
<circle cx="134.60" cy="419.39" r="0.57" fill="#c09088"/>
<circle cx="146.56" cy="419.66" r="0.91" fill="#c09088"/>
<circle cx="140.72" cy="427.74" r="0.79" fill="#c09088"/>
<circle cx="155.55" cy="440.28" r="0.91" fill="#c09088"/>
<circle cx="141.68" cy="412.48" r="0.75" fill="#c09088"/>
<circle cx="148.38" cy="418.42" r="0.59" fill="#c09088"/>
<circle cx="148.04" cy="432.34" r="0.66" fill="#c09088"/>
<circle cx="147.51" cy="431.49" r="0.55" fill="#c09088"/>
<circle cx="144.72" cy="415.53" r="0.72" fill="#c09088"/>
<circle cx="138.12" cy="412.54" r="1.00" fill="#c09088"/>
<circle cx="143.61" cy="420.66" r="0.70" fill="#c09088"/>
<circle cx="133.03" cy="408.95" r="0.89" fill="#c09088"/>
<circle cx="136.49" cy="441.31" r="0.71" fill="#c09088"/>
<circle cx="142.89" cy="432.95" r="0.75" fill="#c09088"/>
</g></g>
<clipPath id="cp4"><rect x="157.80" y="405.80" width="38.90" height="36.10"/></clipPath>
<g clip-path="url(#cp4)"><g filter="url(#blur04)">
<rect x="156.80" y="404.80" width="40.90" height="38.10" fill="#b8877e"/>
<circle cx="157.61" cy="410.70" r="1.07" fill="#a070b8"/>
<circle cx="168.84" cy="430.80" r="1.02" fill="#8e5cb4"/>
<circle cx="176.82" cy="413.82" r="0.97" fill="#a070b8"/>
<circle cx="170.99" cy="430.12" r="0.98" fill="#9a68bc"/>
<circle cx="188.77" cy="415.56" r="0.92" fill="#8e5cb4"/>
<circle cx="165.64" cy="441.33" r="0.73" fill="#8a58b0"/>
<circle cx="168.04" cy="416.80" r="0.45" fill="#8e5cb4"/>
<circle cx="175.18" cy="422.49" r="1.08" fill="#9a68bc"/>
<circle cx="189.20" cy="434.09" r="1.10" fill="#a070b8"/>
<circle cx="180.89" cy="431.78" r="1.07" fill="#a070b8"/>
<circle cx="190.44" cy="434.61" r="0.90" fill="#9a68bc"/>
<circle cx="188.90" cy="441.33" r="0.49" fill="#8a58b0"/>
<circle cx="170.54" cy="414.72" r="1.01" fill="#8e5cb4"/>
<circle cx="170.70" cy="437.80" r="0.90" fill="#9a68bc"/>
<circle cx="157.46" cy="437.24" r="1.07" fill="#9a68bc"/>
<circle cx="158.70" cy="409.73" r="1.15" fill="#9a68bc"/>
<circle cx="183.44" cy="414.60" r="0.81" fill="#a070b8"/>
<circle cx="158.34" cy="418.32" r="0.60" fill="#9a68bc"/>
<circle cx="189.74" cy="423.93" r="0.45" fill="#8a58b0"/>
<circle cx="167.36" cy="423.16" r="0.92" fill="#9a68bc"/>
<circle cx="168.86" cy="422.60" r="0.72" fill="#8e5cb4"/>
<circle cx="168.06" cy="439.43" r="0.52" fill="#a070b8"/>
<circle cx="182.41" cy="442.47" r="0.98" fill="#8a58b0"/>
<circle cx="177.77" cy="420.20" r="0.71" fill="#8e5cb4"/>
<circle cx="193.00" cy="420.02" r="0.86" fill="#8e5cb4"/>
<circle cx="190.66" cy="406.60" r="0.67" fill="#a070b8"/>
<circle cx="182.71" cy="423.85" r="0.86" fill="#8e5cb4"/>
<circle cx="169.06" cy="408.28" r="0.73" fill="#8e5cb4"/>
<circle cx="169.95" cy="442.05" r="0.71" fill="#9a68bc"/>
<circle cx="164.68" cy="429.66" r="0.72" fill="#a070b8"/>
<circle cx="162.58" cy="413.98" r="1.13" fill="#8e5cb4"/>
<circle cx="189.19" cy="437.95" r="1.12" fill="#8a58b0"/>
<circle cx="165.62" cy="424.19" r="1.11" fill="#a070b8"/>
<circle cx="183.93" cy="415.36" r="0.84" fill="#8e5cb4"/>
<circle cx="183.74" cy="408.28" r="0.88" fill="#8a58b0"/>
<circle cx="177.06" cy="435.35" r="0.70" fill="#8a58b0"/>
<circle cx="174.47" cy="408.36" r="1.03" fill="#9a68bc"/>
<circle cx="165.02" cy="439.37" r="0.70" fill="#8a58b0"/>
<circle cx="193.62" cy="430.09" r="0.96" fill="#a070b8"/>
<circle cx="182.67" cy="433.40" r="0.81" fill="#a070b8"/>
<circle cx="186.27" cy="428.57" r="0.69" fill="#8a58b0"/>
<circle cx="168.24" cy="437.14" r="0.46" fill="#a070b8"/>
<circle cx="181.97" cy="413.47" r="0.61" fill="#8a58b0"/>
<circle cx="192.69" cy="420.25" r="0.45" fill="#a070b8"/>
<circle cx="180.22" cy="412.37" r="0.62" fill="#9a68bc"/>
<circle cx="182.46" cy="441.67" r="0.58" fill="#9a68bc"/>
<circle cx="161.29" cy="409.86" r="0.77" fill="#8a58b0"/>
<circle cx="178.34" cy="410.75" r="0.51" fill="#8a58b0"/>
<circle cx="187.82" cy="422.64" r="0.49" fill="#a070b8"/>
<circle cx="185.55" cy="430.09" r="0.71" fill="#8a58b0"/>
<circle cx="193.67" cy="426.95" r="1.13" fill="#a070b8"/>
<circle cx="195.87" cy="428.28" r="0.94" fill="#8a58b0"/>
<circle cx="172.98" cy="413.64" r="0.96" fill="#a070b8"/>
<circle cx="181.13" cy="434.15" r="0.59" fill="#a070b8"/>
<circle cx="161.74" cy="441.43" r="1.09" fill="#9a68bc"/>
<circle cx="178.14" cy="431.89" r="0.91" fill="#8a58b0"/>
<circle cx="170.50" cy="430.75" r="0.66" fill="#9a68bc"/>
<circle cx="192.39" cy="405.73" r="0.51" fill="#8a58b0"/>
<circle cx="167.56" cy="434.64" r="1.01" fill="#a070b8"/>
<circle cx="173.84" cy="440.32" r="0.50" fill="#a070b8"/>
<circle cx="191.27" cy="430.20" r="0.86" fill="#9a68bc"/>
<circle cx="159.26" cy="426.51" r="0.46" fill="#9a68bc"/>
<circle cx="179.66" cy="428.08" r="0.98" fill="#9a68bc"/>
<circle cx="176.06" cy="435.40" r="0.58" fill="#9a68bc"/>
<circle cx="179.64" cy="411.32" r="0.74" fill="#8e5cb4"/>
<circle cx="173.17" cy="435.85" r="1.12" fill="#9a68bc"/>
<circle cx="189.47" cy="441.57" r="0.91" fill="#8e5cb4"/>
<circle cx="191.29" cy="427.85" r="1.03" fill="#9a68bc"/>
<circle cx="186.29" cy="417.90" r="1.05" fill="#8e5cb4"/>
<circle cx="195.69" cy="441.01" r="1.15" fill="#8e5cb4"/>
<circle cx="177.47" cy="436.98" r="0.69" fill="#8e5cb4"/>
<circle cx="182.77" cy="439.22" r="0.72" fill="#9a68bc"/>
<circle cx="188.75" cy="416.12" r="1.01" fill="#8e5cb4"/>
<circle cx="197.12" cy="414.76" r="0.77" fill="#8a58b0"/>
<circle cx="168.40" cy="435.02" r="0.89" fill="#8e5cb4"/>
<circle cx="168.16" cy="441.82" r="0.89" fill="#9a68bc"/>
<circle cx="164.90" cy="420.06" r="1.01" fill="#a070b8"/>
<circle cx="162.79" cy="405.63" r="0.50" fill="#8e5cb4"/>
<circle cx="187.03" cy="426.72" r="0.61" fill="#8e5cb4"/>
<circle cx="168.67" cy="410.58" r="1.14" fill="#8e5cb4"/>
<circle cx="181.49" cy="412.50" r="0.49" fill="#a070b8"/>
<circle cx="168.18" cy="418.97" r="1.11" fill="#9a68bc"/>
<circle cx="192.13" cy="422.68" r="0.76" fill="#8e5cb4"/>
<circle cx="181.00" cy="430.00" r="0.72" fill="#a070b8"/>
<circle cx="172.69" cy="404.82" r="0.67" fill="#8a58b0"/>
<circle cx="181.74" cy="405.43" r="0.62" fill="#9a68bc"/>
<circle cx="184.80" cy="406.72" r="0.68" fill="#a070b8"/>
<circle cx="185.24" cy="431.55" r="0.92" fill="#8a58b0"/>
<circle cx="188.41" cy="416.31" r="0.68" fill="#8e5cb4"/>
<circle cx="191.83" cy="421.13" r="0.62" fill="#a070b8"/>
<circle cx="164.52" cy="425.51" r="0.67" fill="#8a58b0"/>
<circle cx="171.72" cy="432.90" r="0.97" fill="#a070b8"/>
<circle cx="178.34" cy="438.57" r="0.97" fill="#9a68bc"/>
<circle cx="166.98" cy="431.51" r="1.12" fill="#9a68bc"/>
<circle cx="181.24" cy="422.78" r="0.85" fill="#9a68bc"/>
<circle cx="176.93" cy="416.37" r="0.75" fill="#9a68bc"/>
<circle cx="156.90" cy="434.97" r="0.63" fill="#a070b8"/>
<circle cx="163.68" cy="434.02" r="1.01" fill="#a070b8"/>
<circle cx="172.25" cy="413.41" r="0.88" fill="#9a68bc"/>
<circle cx="180.08" cy="410.73" r="0.89" fill="#a070b8"/>
<circle cx="167.19" cy="434.83" r="0.85" fill="#9a68bc"/>
<circle cx="179.48" cy="435.63" r="1.11" fill="#8a58b0"/>
<circle cx="183.40" cy="423.03" r="0.68" fill="#a070b8"/>
<circle cx="186.80" cy="405.33" r="1.02" fill="#9a68bc"/>
<circle cx="173.85" cy="424.65" r="0.52" fill="#8a58b0"/>
<circle cx="170.21" cy="412.38" r="1.11" fill="#a070b8"/>
<circle cx="195.48" cy="439.82" r="0.84" fill="#8a58b0"/>
<circle cx="182.59" cy="413.81" r="0.88" fill="#8e5cb4"/>
<circle cx="188.77" cy="430.69" r="1.11" fill="#a070b8"/>
<circle cx="183.75" cy="425.89" r="0.73" fill="#8e5cb4"/>
<circle cx="195.42" cy="414.18" r="0.93" fill="#8a58b0"/>
<circle cx="194.90" cy="430.00" r="0.71" fill="#a070b8"/>
<circle cx="192.28" cy="428.33" r="1.14" fill="#8e5cb4"/>
<circle cx="175.38" cy="412.60" r="0.94" fill="#8e5cb4"/>
<circle cx="190.32" cy="434.80" r="0.84" fill="#8e5cb4"/>
<circle cx="172.35" cy="439.10" r="0.60" fill="#c09088"/>
<circle cx="174.90" cy="419.09" r="0.51" fill="#c09088"/>
<circle cx="176.35" cy="434.75" r="0.53" fill="#c09088"/>
<circle cx="181.58" cy="416.70" r="0.91" fill="#c09088"/>
<circle cx="186.79" cy="427.41" r="0.54" fill="#c09088"/>
<circle cx="181.52" cy="406.61" r="0.69" fill="#c09088"/>
<circle cx="188.61" cy="412.94" r="0.54" fill="#c09088"/>
<circle cx="194.77" cy="424.51" r="0.74" fill="#c09088"/>
<circle cx="170.16" cy="432.83" r="0.75" fill="#c09088"/>
<circle cx="193.61" cy="440.79" r="0.61" fill="#c09088"/>
<circle cx="159.48" cy="423.62" r="0.65" fill="#c09088"/>
<circle cx="169.09" cy="418.33" r="0.97" fill="#c09088"/>
<circle cx="190.55" cy="433.69" r="0.74" fill="#c09088"/>
<circle cx="181.55" cy="433.11" r="0.81" fill="#c09088"/>
<circle cx="185.27" cy="416.53" r="0.96" fill="#c09088"/>
<circle cx="164.56" cy="414.07" r="0.70" fill="#c09088"/>
<circle cx="166.59" cy="413.26" r="0.65" fill="#c09088"/>
<circle cx="164.59" cy="433.88" r="0.51" fill="#c09088"/>
<circle cx="191.73" cy="408.90" r="0.76" fill="#c09088"/>
<circle cx="192.88" cy="441.60" r="0.86" fill="#c09088"/>
<circle cx="165.64" cy="420.93" r="0.58" fill="#c09088"/>
<circle cx="184.05" cy="431.48" r="0.94" fill="#c09088"/>
<circle cx="174.88" cy="437.43" r="0.65" fill="#c09088"/>
<circle cx="175.56" cy="429.87" r="0.65" fill="#c09088"/>
<circle cx="196.42" cy="422.50" r="0.85" fill="#c09088"/>
<circle cx="186.94" cy="424.69" r="0.72" fill="#c09088"/>
<circle cx="191.71" cy="410.92" r="0.98" fill="#c09088"/>
<circle cx="188.71" cy="423.21" r="0.55" fill="#c09088"/>
<circle cx="194.93" cy="431.63" r="0.56" fill="#c09088"/>
<circle cx="168.57" cy="428.79" r="0.52" fill="#c09088"/>
<circle cx="166.00" cy="434.36" r="0.75" fill="#c09088"/>
<circle cx="166.30" cy="432.00" r="0.80" fill="#c09088"/>
<circle cx="180.26" cy="419.26" r="0.80" fill="#c09088"/>
<circle cx="173.81" cy="439.31" r="0.79" fill="#c09088"/>
<circle cx="178.36" cy="428.92" r="0.98" fill="#c09088"/>
<circle cx="190.56" cy="412.67" r="0.78" fill="#c09088"/>
<circle cx="170.96" cy="424.97" r="0.62" fill="#c09088"/>
<circle cx="195.41" cy="439.02" r="0.54" fill="#c09088"/>
<circle cx="187.45" cy="415.88" r="0.50" fill="#c09088"/>
<circle cx="178.47" cy="420.91" r="0.72" fill="#c09088"/>
<circle cx="175.24" cy="429.65" r="0.54" fill="#c09088"/>
<circle cx="179.30" cy="415.79" r="0.93" fill="#c09088"/>
<circle cx="175.30" cy="437.83" r="0.50" fill="#c09088"/>
<circle cx="161.19" cy="431.18" r="0.93" fill="#c09088"/>
<circle cx="161.30" cy="406.78" r="0.78" fill="#c09088"/>
<circle cx="172.45" cy="436.31" r="0.92" fill="#c09088"/>
<circle cx="183.00" cy="440.41" r="0.65" fill="#c09088"/>
<circle cx="163.66" cy="420.72" r="0.69" fill="#c09088"/>
<circle cx="177.87" cy="418.10" r="0.69" fill="#c09088"/>
<circle cx="174.97" cy="406.14" r="0.58" fill="#c09088"/>
</g></g>
<line x1="65.90" y1="439.60" x2="70.90" y2="439.60" stroke="#333" stroke-width="0.6"/>
<line x1="106.60" y1="439.60" x2="111.60" y2="439.60" stroke="#333" stroke-width="0.6"/>
<line x1="147.60" y1="439.60" x2="152.60" y2="439.60" stroke="#333" stroke-width="0.6"/>
<line x1="187.80" y1="439.60" x2="192.80" y2="439.60" stroke="#333" stroke-width="0.6"/>
<line x1="41.50" y1="453.06" x2="41.50" y2="558.70" stroke="#231f20" stroke-width="1.1"/>
<line x1="41.00" y1="558.20" x2="164.90" y2="558.20" stroke="#231f20" stroke-width="1.1"/>
<line x1="38.80" y1="558.20" x2="41.50" y2="558.20" stroke="#231f20" stroke-width="1.1"/>
<text x="37.80" y="561.60" font-size="10.06" text-anchor="end" textLength="11.90" lengthAdjust="spacingAndGlyphs">0.0</text>
<line x1="38.80" y1="540.76" x2="41.50" y2="540.76" stroke="#231f20" stroke-width="1.1"/>
<text x="37.80" y="544.16" font-size="10.06" text-anchor="end" textLength="11.90" lengthAdjust="spacingAndGlyphs">0.2</text>
<line x1="38.80" y1="523.32" x2="41.50" y2="523.32" stroke="#231f20" stroke-width="1.1"/>
<text x="37.80" y="526.72" font-size="10.06" text-anchor="end" textLength="11.90" lengthAdjust="spacingAndGlyphs">0.4</text>
<line x1="38.80" y1="505.88" x2="41.50" y2="505.88" stroke="#231f20" stroke-width="1.1"/>
<text x="37.80" y="509.28" font-size="10.06" text-anchor="end" textLength="11.90" lengthAdjust="spacingAndGlyphs">0.6</text>
<line x1="38.80" y1="488.44" x2="41.50" y2="488.44" stroke="#231f20" stroke-width="1.1"/>
<text x="37.80" y="491.84" font-size="10.06" text-anchor="end" textLength="11.90" lengthAdjust="spacingAndGlyphs">0.8</text>
<line x1="38.80" y1="471.00" x2="41.50" y2="471.00" stroke="#231f20" stroke-width="1.1"/>
<text x="37.80" y="474.40" font-size="10.06" text-anchor="end" textLength="11.90" lengthAdjust="spacingAndGlyphs">1.0</text>
<line x1="38.80" y1="453.56" x2="41.50" y2="453.56" stroke="#231f20" stroke-width="1.1"/>
<text x="37.80" y="456.96" font-size="10.06" text-anchor="end" textLength="11.90" lengthAdjust="spacingAndGlyphs">1.2</text>
<rect x="49.50" y="471.00" width="15.20" height="87.20" fill="#4a4444"/>
<line x1="57.10" y1="558.20" x2="57.10" y2="560.40" stroke="#231f20" stroke-width="1.0"/>
<rect x="79.90" y="531.17" width="15.50" height="27.03" fill="#e9531f"/>
<line x1="87.65" y1="558.20" x2="87.65" y2="560.40" stroke="#231f20" stroke-width="1.0"/>
<rect x="110.80" y="525.50" width="15.60" height="32.70" fill="#5b49ac"/>
<line x1="118.60" y1="558.20" x2="118.60" y2="560.40" stroke="#231f20" stroke-width="1.0"/>
<rect x="141.50" y="522.45" width="15.60" height="35.75" fill="#22b133"/>
<line x1="149.30" y1="558.20" x2="149.30" y2="560.40" stroke="#231f20" stroke-width="1.0"/>
<circle cx="55.10" cy="471.00" r="1.15" fill="#111"/>
<circle cx="57.10" cy="471.00" r="1.15" fill="#111"/>
<circle cx="59.10" cy="471.00" r="1.15" fill="#111"/>
<circle cx="85.60" cy="531.17" r="1.15" fill="#111"/>
<circle cx="87.60" cy="531.17" r="1.15" fill="#111"/>
<circle cx="89.60" cy="531.17" r="1.15" fill="#111"/>
<circle cx="116.60" cy="525.70" r="1.15" fill="#111"/>
<circle cx="118.60" cy="525.30" r="1.15" fill="#111"/>
<circle cx="120.60" cy="525.60" r="1.15" fill="#111"/>
<circle cx="147.30" cy="522.05" r="1.15" fill="#111"/>
<circle cx="149.30" cy="522.75" r="1.15" fill="#111"/>
<circle cx="151.30" cy="522.45" r="1.15" fill="#111"/>
<text x="48.00" y="459.10" font-size="10.49" textLength="27.70" lengthAdjust="spacingAndGlyphs">22RV1</text>
<text x="20.00" y="506.40" font-size="10.06" text-anchor="middle" textLength="124.90" lengthAdjust="spacingAndGlyphs" transform="rotate(-90 20.00 506.40)">Relative absorbance (550 nm)</text>
<text x="56.10" y="573.00" font-size="10.06" text-anchor="middle" textLength="16.30" lengthAdjust="spacingAndGlyphs">SCR</text>
<text x="87.40" y="573.00" font-size="10.06" text-anchor="middle" textLength="13.40" lengthAdjust="spacingAndGlyphs">C-1</text>
<text x="118.20" y="573.00" font-size="10.06" text-anchor="middle" textLength="13.80" lengthAdjust="spacingAndGlyphs">C-2</text>
<text x="148.20" y="573.00" font-size="10.06" text-anchor="middle" textLength="13.80" lengthAdjust="spacingAndGlyphs">C-3</text>
<line x1="82.70" y1="576.20" x2="158.60" y2="576.20" stroke="#555" stroke-width="1.0"/>
<text x="122.50" y="588.40" font-size="10.06" text-anchor="middle" textLength="34.10" lengthAdjust="spacingAndGlyphs"><tspan font-style="italic">DLX1</tspan>-KO</text>
<text x="90.60" y="510.00" font-size="7.38" text-anchor="middle" textLength="28.90" lengthAdjust="spacingAndGlyphs" transform="rotate(-90 90.60 510.00)"><tspan font-style="italic">P</tspan>&lt;0.0001</text>
<text x="122.40" y="505.80" font-size="7.38" text-anchor="middle" textLength="28.90" lengthAdjust="spacingAndGlyphs" transform="rotate(-90 122.40 505.80)"><tspan font-style="italic">P</tspan>&lt;0.0001</text>
<text x="153.30" y="503.20" font-size="7.38" text-anchor="middle" textLength="28.90" lengthAdjust="spacingAndGlyphs" transform="rotate(-90 153.30 503.20)"><tspan font-style="italic">P</tspan>&lt;0.0001</text>
<text x="0.00" y="617.20" font-size="16.91" font-weight="bold" fill="#000">j</text>
<rect x="25.1" y="618.9" width="161.2" height="40.6" fill="#fff" stroke="#3a3a3a" stroke-width="1.3"/>
<defs><radialGradient id="colg" cx="0.5" cy="0.5" r="0.75"><stop offset="0" stop-color="#f8e2b2"/><stop offset="0.07" stop-color="#eec690"/><stop offset="0.17" stop-color="#dfac7a"/><stop offset="1" stop-color="#d9a474"/></radialGradient></defs>
<rect x="26.70" y="620.30" width="36.90" height="38.00" fill="url(#colg)"/>
<rect x="65.90" y="620.30" width="37.90" height="38.00" fill="url(#colg)"/>
<rect x="105.70" y="620.30" width="39.60" height="38.00" fill="url(#colg)"/>
<rect x="147.00" y="620.30" width="38.30" height="38.00" fill="url(#colg)"/>
<g filter="url(#blur04)">
<circle cx="38.60" cy="627.60" r="4.00" fill="#82623f" stroke="#6e5034" stroke-width="0.4"/>
<circle cx="38.03" cy="628.13" r="0.37" fill="#94744e"/>
<circle cx="36.53" cy="626.50" r="0.52" fill="#94744e"/>
<circle cx="40.15" cy="625.52" r="0.30" fill="#6e5032"/>
<circle cx="37.09" cy="625.18" r="0.48" fill="#6e5032"/>
<circle cx="41.92" cy="627.31" r="0.43" fill="#94744e"/>
<circle cx="37.41" cy="625.86" r="0.32" fill="#5e4228"/>
<circle cx="41.48" cy="628.21" r="0.64" fill="#6e5032"/>
<circle cx="39.70" cy="628.14" r="0.49" fill="#5e4228"/>
<circle cx="38.40" cy="627.23" r="0.67" fill="#5e4228"/>
<circle cx="39.09" cy="627.25" r="0.41" fill="#6e5032"/>
<circle cx="37.09" cy="626.19" r="0.37" fill="#6e5032"/>
<circle cx="38.44" cy="628.07" r="0.57" fill="#94744e"/>
<circle cx="40.81" cy="627.90" r="0.64" fill="#6e5032"/>
<circle cx="39.05" cy="627.66" r="0.48" fill="#5e4228"/>
<circle cx="37.12" cy="628.65" r="0.41" fill="#6e5032"/>
<circle cx="40.22" cy="626.07" r="0.43" fill="#6e5032"/>
<circle cx="44.20" cy="629.40" r="4.00" fill="#82623f" stroke="#6e5034" stroke-width="0.4"/>
<circle cx="45.05" cy="627.12" r="0.59" fill="#5e4228"/>
<circle cx="46.00" cy="627.58" r="0.34" fill="#5e4228"/>
<circle cx="43.35" cy="626.48" r="0.47" fill="#5e4228"/>
<circle cx="44.19" cy="627.33" r="0.47" fill="#6e5032"/>
<circle cx="45.00" cy="629.20" r="0.47" fill="#5e4228"/>
<circle cx="41.82" cy="630.02" r="0.62" fill="#6e5032"/>
<circle cx="45.12" cy="629.21" r="0.38" fill="#5e4228"/>
<circle cx="44.21" cy="630.68" r="0.58" fill="#5e4228"/>
<circle cx="42.01" cy="631.47" r="0.60" fill="#5e4228"/>
<circle cx="45.84" cy="630.31" r="0.39" fill="#6e5032"/>
<circle cx="45.16" cy="631.45" r="0.33" fill="#6e5032"/>
<circle cx="42.18" cy="628.78" r="0.50" fill="#6e5032"/>
<circle cx="44.51" cy="631.68" r="0.35" fill="#94744e"/>
<circle cx="42.22" cy="627.99" r="0.52" fill="#94744e"/>
<circle cx="43.25" cy="630.16" r="0.41" fill="#94744e"/>
<circle cx="46.17" cy="629.77" r="0.68" fill="#5e4228"/>
<circle cx="55.40" cy="625.20" r="4.00" fill="#82623f" stroke="#6e5034" stroke-width="0.4"/>
<circle cx="56.41" cy="626.64" r="0.67" fill="#94744e"/>
<circle cx="55.02" cy="622.56" r="0.33" fill="#5e4228"/>
<circle cx="54.21" cy="623.16" r="0.39" fill="#94744e"/>
<circle cx="58.11" cy="623.74" r="0.42" fill="#6e5032"/>
<circle cx="55.33" cy="626.49" r="0.39" fill="#6e5032"/>
<circle cx="56.04" cy="624.50" r="0.53" fill="#94744e"/>
<circle cx="54.03" cy="626.16" r="0.64" fill="#6e5032"/>
<circle cx="53.38" cy="625.20" r="0.39" fill="#6e5032"/>
<circle cx="56.21" cy="624.63" r="0.40" fill="#94744e"/>
<circle cx="58.01" cy="624.16" r="0.32" fill="#5e4228"/>
<circle cx="56.14" cy="623.54" r="0.60" fill="#5e4228"/>
<circle cx="56.32" cy="627.77" r="0.43" fill="#94744e"/>
<circle cx="54.12" cy="624.50" r="0.31" fill="#6e5032"/>
<circle cx="56.61" cy="623.94" r="0.36" fill="#5e4228"/>
<circle cx="54.32" cy="624.52" r="0.39" fill="#94744e"/>
<circle cx="54.03" cy="623.89" r="0.51" fill="#6e5032"/>
<circle cx="33.40" cy="637.30" r="4.30" fill="#82623f" stroke="#6e5034" stroke-width="0.4"/>
<circle cx="32.89" cy="637.75" r="0.51" fill="#5e4228"/>
<circle cx="32.73" cy="637.26" r="0.33" fill="#5e4228"/>
<circle cx="33.27" cy="636.62" r="0.37" fill="#94744e"/>
<circle cx="35.45" cy="638.56" r="0.67" fill="#94744e"/>
<circle cx="34.53" cy="637.42" r="0.42" fill="#6e5032"/>
<circle cx="30.26" cy="636.40" r="0.43" fill="#94744e"/>
<circle cx="33.42" cy="635.94" r="0.62" fill="#6e5032"/>
<circle cx="34.68" cy="637.92" r="0.36" fill="#94744e"/>
<circle cx="33.67" cy="637.81" r="0.34" fill="#6e5032"/>
<circle cx="32.08" cy="640.33" r="0.43" fill="#6e5032"/>
<circle cx="34.52" cy="640.40" r="0.69" fill="#5e4228"/>
<circle cx="33.44" cy="637.34" r="0.36" fill="#5e4228"/>
<circle cx="32.91" cy="640.37" r="0.61" fill="#94744e"/>
<circle cx="36.13" cy="636.93" r="0.65" fill="#5e4228"/>
<circle cx="33.60" cy="635.84" r="0.56" fill="#5e4228"/>
<circle cx="32.63" cy="635.51" r="0.41" fill="#5e4228"/>
<circle cx="35.21" cy="640.21" r="0.62" fill="#6e5032"/>
<circle cx="53.00" cy="640.20" r="4.80" fill="#82623f" stroke="#6e5034" stroke-width="0.4"/>
<circle cx="53.04" cy="638.07" r="0.38" fill="#5e4228"/>
<circle cx="52.50" cy="641.24" r="0.67" fill="#94744e"/>
<circle cx="52.95" cy="640.57" r="0.64" fill="#5e4228"/>
<circle cx="52.44" cy="641.75" r="0.52" fill="#5e4228"/>
<circle cx="55.64" cy="640.40" r="0.39" fill="#94744e"/>
<circle cx="50.80" cy="638.61" r="0.47" fill="#6e5032"/>
<circle cx="53.80" cy="640.39" r="0.42" fill="#94744e"/>
<circle cx="55.00" cy="640.47" r="0.58" fill="#5e4228"/>
<circle cx="49.40" cy="638.62" r="0.64" fill="#5e4228"/>
<circle cx="56.30" cy="641.22" r="0.35" fill="#94744e"/>
<circle cx="52.68" cy="640.29" r="0.66" fill="#5e4228"/>
<circle cx="55.59" cy="641.88" r="0.58" fill="#6e5032"/>
<circle cx="55.38" cy="641.64" r="0.41" fill="#94744e"/>
<circle cx="50.22" cy="642.57" r="0.36" fill="#5e4228"/>
<circle cx="50.65" cy="637.24" r="0.63" fill="#5e4228"/>
<circle cx="51.81" cy="641.02" r="0.38" fill="#5e4228"/>
<circle cx="56.60" cy="639.16" r="0.66" fill="#5e4228"/>
<circle cx="52.78" cy="639.59" r="0.58" fill="#6e5032"/>
<circle cx="54.62" cy="643.88" r="0.41" fill="#94744e"/>
<circle cx="32.20" cy="647.40" r="3.20" fill="#82623f" stroke="#6e5034" stroke-width="0.4"/>
<circle cx="30.21" cy="647.59" r="0.40" fill="#6e5032"/>
<circle cx="33.41" cy="649.31" r="0.33" fill="#94744e"/>
<circle cx="33.02" cy="647.05" r="0.40" fill="#6e5032"/>
<circle cx="32.67" cy="647.90" r="0.37" fill="#5e4228"/>
<circle cx="33.54" cy="647.46" r="0.33" fill="#5e4228"/>
<circle cx="32.11" cy="647.11" r="0.44" fill="#6e5032"/>
<circle cx="34.46" cy="648.85" r="0.45" fill="#6e5032"/>
<circle cx="32.70" cy="648.04" r="0.68" fill="#5e4228"/>
<circle cx="33.97" cy="648.21" r="0.40" fill="#6e5032"/>
<circle cx="32.19" cy="647.99" r="0.33" fill="#5e4228"/>
<circle cx="32.97" cy="646.29" r="0.48" fill="#94744e"/>
<circle cx="32.54" cy="645.74" r="0.42" fill="#6e5032"/>
<circle cx="46.00" cy="653.00" r="4.30" fill="#82623f" stroke="#6e5034" stroke-width="0.4"/>
<circle cx="46.55" cy="653.08" r="0.47" fill="#94744e"/>
<circle cx="48.19" cy="650.33" r="0.63" fill="#94744e"/>
<circle cx="46.15" cy="654.26" r="0.34" fill="#94744e"/>
<circle cx="45.26" cy="656.04" r="0.69" fill="#6e5032"/>
<circle cx="47.75" cy="652.31" r="0.66" fill="#5e4228"/>
<circle cx="42.94" cy="653.77" r="0.59" fill="#94744e"/>
<circle cx="47.93" cy="652.00" r="0.50" fill="#6e5032"/>
<circle cx="45.86" cy="650.76" r="0.36" fill="#5e4228"/>
<circle cx="48.38" cy="655.54" r="0.31" fill="#94744e"/>
<circle cx="45.41" cy="652.61" r="0.68" fill="#94744e"/>
<circle cx="47.42" cy="652.67" r="0.58" fill="#94744e"/>
<circle cx="45.64" cy="654.40" r="0.47" fill="#5e4228"/>
<circle cx="44.93" cy="656.10" r="0.37" fill="#5e4228"/>
<circle cx="45.50" cy="652.63" r="0.61" fill="#5e4228"/>
<circle cx="46.75" cy="651.74" r="0.32" fill="#94744e"/>
<circle cx="48.08" cy="653.67" r="0.62" fill="#94744e"/>
<circle cx="48.27" cy="652.06" r="0.48" fill="#94744e"/>
<circle cx="49.00" cy="634.00" r="0.50" fill="#82623f" stroke="#6e5034" stroke-width="0.4"/>
<circle cx="48.96" cy="634.02" r="0.62" fill="#5e4228"/>
<circle cx="49.00" cy="633.96" r="0.36" fill="#6e5032"/>
<circle cx="58.00" cy="645.00" r="0.60" fill="#82623f" stroke="#6e5034" stroke-width="0.4"/>
<circle cx="58.17" cy="645.06" r="0.64" fill="#5e4228"/>
<circle cx="57.99" cy="644.99" r="0.45" fill="#94744e"/>
<circle cx="92.80" cy="640.20" r="2.60" fill="#82623f" stroke="#6e5034" stroke-width="0.4"/>
<circle cx="94.57" cy="639.74" r="0.43" fill="#6e5032"/>
<circle cx="94.74" cy="639.52" r="0.38" fill="#6e5032"/>
<circle cx="91.99" cy="640.56" r="0.62" fill="#5e4228"/>
<circle cx="93.07" cy="640.12" r="0.51" fill="#5e4228"/>
<circle cx="92.57" cy="638.81" r="0.70" fill="#94744e"/>
<circle cx="92.74" cy="640.11" r="0.55" fill="#6e5032"/>
<circle cx="92.60" cy="639.99" r="0.57" fill="#5e4228"/>
<circle cx="93.28" cy="641.99" r="0.34" fill="#94744e"/>
<circle cx="92.83" cy="639.85" r="0.61" fill="#6e5032"/>
<circle cx="94.64" cy="640.02" r="0.51" fill="#6e5032"/>
<circle cx="75.20" cy="630.00" r="0.40" fill="#82623f" stroke="#6e5034" stroke-width="0.4"/>
<circle cx="75.18" cy="630.02" r="0.68" fill="#94744e"/>
<circle cx="111.30" cy="636.10" r="2.80" fill="#82623f" stroke="#6e5034" stroke-width="0.4"/>
<circle cx="111.72" cy="636.25" r="0.41" fill="#94744e"/>
<circle cx="112.89" cy="637.68" r="0.48" fill="#6e5032"/>
<circle cx="110.67" cy="638.38" r="0.33" fill="#94744e"/>
<circle cx="109.90" cy="636.33" r="0.70" fill="#5e4228"/>
<circle cx="110.90" cy="636.33" r="0.67" fill="#5e4228"/>
<circle cx="112.74" cy="635.26" r="0.41" fill="#5e4228"/>
<circle cx="110.74" cy="634.69" r="0.48" fill="#6e5032"/>
<circle cx="112.91" cy="635.29" r="0.37" fill="#94744e"/>
<circle cx="110.27" cy="634.58" r="0.37" fill="#6e5032"/>
<circle cx="111.14" cy="636.12" r="0.33" fill="#94744e"/>
<circle cx="112.17" cy="637.35" r="0.48" fill="#6e5032"/>
<circle cx="128.70" cy="633.60" r="3.00" fill="#82623f" stroke="#6e5034" stroke-width="0.4"/>
<circle cx="128.24" cy="633.03" r="0.51" fill="#6e5032"/>
<circle cx="128.27" cy="633.70" r="0.64" fill="#5e4228"/>
<circle cx="127.90" cy="635.01" r="0.62" fill="#94744e"/>
<circle cx="130.52" cy="632.76" r="0.54" fill="#94744e"/>
<circle cx="129.73" cy="633.94" r="0.39" fill="#5e4228"/>
<circle cx="128.75" cy="632.21" r="0.64" fill="#5e4228"/>
<circle cx="127.88" cy="631.80" r="0.66" fill="#5e4228"/>
<circle cx="129.59" cy="633.67" r="0.70" fill="#94744e"/>
<circle cx="127.87" cy="633.79" r="0.51" fill="#6e5032"/>
<circle cx="126.88" cy="632.26" r="0.59" fill="#94744e"/>
<circle cx="129.49" cy="634.04" r="0.70" fill="#6e5032"/>
<circle cx="129.41" cy="631.73" r="0.65" fill="#5e4228"/>
<circle cx="139.60" cy="626.10" r="2.40" fill="#82623f" stroke="#6e5034" stroke-width="0.4"/>
<circle cx="139.83" cy="625.34" r="0.60" fill="#94744e"/>
<circle cx="139.79" cy="625.71" r="0.69" fill="#5e4228"/>
<circle cx="139.99" cy="626.81" r="0.64" fill="#5e4228"/>
<circle cx="140.38" cy="626.55" r="0.51" fill="#5e4228"/>
<circle cx="139.26" cy="627.96" r="0.59" fill="#94744e"/>
<circle cx="138.18" cy="625.86" r="0.55" fill="#94744e"/>
<circle cx="138.41" cy="625.87" r="0.63" fill="#6e5032"/>
<circle cx="138.83" cy="625.83" r="0.52" fill="#6e5032"/>
<circle cx="139.25" cy="625.61" r="0.55" fill="#6e5032"/>
<circle cx="118.80" cy="650.50" r="2.60" fill="#82623f" stroke="#6e5034" stroke-width="0.4"/>
<circle cx="118.80" cy="650.93" r="0.56" fill="#6e5032"/>
<circle cx="119.23" cy="650.32" r="0.56" fill="#94744e"/>
<circle cx="118.25" cy="650.69" r="0.66" fill="#94744e"/>
<circle cx="119.08" cy="652.49" r="0.47" fill="#94744e"/>
<circle cx="117.59" cy="650.55" r="0.36" fill="#6e5032"/>
<circle cx="118.25" cy="648.69" r="0.68" fill="#5e4228"/>
<circle cx="119.11" cy="652.04" r="0.33" fill="#94744e"/>
<circle cx="118.80" cy="650.44" r="0.46" fill="#6e5032"/>
<circle cx="117.63" cy="648.72" r="0.61" fill="#6e5032"/>
<circle cx="117.92" cy="649.37" r="0.54" fill="#94744e"/>
<circle cx="110.00" cy="646.00" r="0.50" fill="#82623f" stroke="#6e5034" stroke-width="0.4"/>
<circle cx="110.05" cy="646.19" r="0.53" fill="#6e5032"/>
<circle cx="110.19" cy="645.86" r="0.69" fill="#94744e"/>
<circle cx="150.30" cy="629.40" r="1.50" fill="#82623f" stroke="#6e5034" stroke-width="0.4"/>
<circle cx="150.75" cy="628.84" r="0.70" fill="#94744e"/>
<circle cx="150.15" cy="628.88" r="0.42" fill="#94744e"/>
<circle cx="150.15" cy="630.52" r="0.39" fill="#94744e"/>
<circle cx="149.78" cy="630.12" r="0.50" fill="#6e5032"/>
<circle cx="150.03" cy="629.51" r="0.65" fill="#6e5032"/>
<circle cx="149.42" cy="630.23" r="0.53" fill="#94744e"/>
<circle cx="150.60" cy="638.00" r="1.00" fill="#82623f" stroke="#6e5034" stroke-width="0.4"/>
<circle cx="151.23" cy="638.34" r="0.62" fill="#5e4228"/>
<circle cx="150.90" cy="637.38" r="0.35" fill="#5e4228"/>
<circle cx="151.04" cy="637.36" r="0.58" fill="#6e5032"/>
<circle cx="150.87" cy="637.91" r="0.51" fill="#94744e"/>
<circle cx="177.60" cy="626.10" r="1.00" fill="#82623f" stroke="#6e5034" stroke-width="0.4"/>
<circle cx="177.90" cy="626.07" r="0.63" fill="#5e4228"/>
<circle cx="177.71" cy="626.08" r="0.31" fill="#5e4228"/>
<circle cx="177.42" cy="626.06" r="0.57" fill="#94744e"/>
<circle cx="177.86" cy="626.14" r="0.46" fill="#94744e"/>
<circle cx="171.90" cy="631.90" r="0.70" fill="#82623f" stroke="#6e5034" stroke-width="0.4"/>
<circle cx="172.31" cy="631.78" r="0.57" fill="#5e4228"/>
<circle cx="172.03" cy="631.91" r="0.63" fill="#6e5032"/>
</g>
<line x1="53.10" y1="656.40" x2="61.10" y2="656.40" stroke="#111" stroke-width="0.9"/>
<line x1="93.30" y1="656.40" x2="101.30" y2="656.40" stroke="#111" stroke-width="0.9"/>
<line x1="134.80" y1="656.40" x2="142.80" y2="656.40" stroke="#111" stroke-width="0.9"/>
<line x1="174.80" y1="656.40" x2="182.80" y2="656.40" stroke="#111" stroke-width="0.9"/>
<line x1="49.20" y1="673.10" x2="49.20" y2="783.50" stroke="#231f20" stroke-width="1.1"/>
<line x1="48.70" y1="783.00" x2="174.20" y2="783.00" stroke="#231f20" stroke-width="1.1"/>
<line x1="46.60" y1="783.00" x2="49.20" y2="783.00" stroke="#231f20" stroke-width="1.1"/>
<text x="45.80" y="786.40" font-size="10.06" text-anchor="end" textLength="4.75" lengthAdjust="spacingAndGlyphs">0</text>
<line x1="46.60" y1="764.77" x2="49.20" y2="764.77" stroke="#231f20" stroke-width="1.1"/>
<text x="45.80" y="768.17" font-size="10.06" text-anchor="end" textLength="9.50" lengthAdjust="spacingAndGlyphs">20</text>
<line x1="46.60" y1="746.53" x2="49.20" y2="746.53" stroke="#231f20" stroke-width="1.1"/>
<text x="45.80" y="749.93" font-size="10.06" text-anchor="end" textLength="9.50" lengthAdjust="spacingAndGlyphs">40</text>
<line x1="46.60" y1="728.30" x2="49.20" y2="728.30" stroke="#231f20" stroke-width="1.1"/>
<text x="45.80" y="731.70" font-size="10.06" text-anchor="end" textLength="9.50" lengthAdjust="spacingAndGlyphs">60</text>
<line x1="46.60" y1="710.06" x2="49.20" y2="710.06" stroke="#231f20" stroke-width="1.1"/>
<text x="45.80" y="713.46" font-size="10.06" text-anchor="end" textLength="9.50" lengthAdjust="spacingAndGlyphs">80</text>
<line x1="46.60" y1="691.83" x2="49.20" y2="691.83" stroke="#231f20" stroke-width="1.1"/>
<text x="45.80" y="695.23" font-size="10.06" text-anchor="end" textLength="14.25" lengthAdjust="spacingAndGlyphs">100</text>
<line x1="46.60" y1="673.60" x2="49.20" y2="673.60" stroke="#231f20" stroke-width="1.1"/>
<text x="45.80" y="677.00" font-size="10.06" text-anchor="end" textLength="14.25" lengthAdjust="spacingAndGlyphs">120</text>
<rect x="57.80" y="691.83" width="15.50" height="91.17" fill="#4a4444"/>
<line x1="65.55" y1="783.00" x2="65.55" y2="785.20" stroke="#231f20" stroke-width="1.0"/>
<rect x="88.90" y="762.03" width="15.20" height="20.97" fill="#e9531f"/>
<line x1="96.50" y1="783.00" x2="96.50" y2="785.20" stroke="#231f20" stroke-width="1.0"/>
<rect x="119.30" y="749.27" width="15.60" height="33.73" fill="#5b49ac"/>
<line x1="127.10" y1="783.00" x2="127.10" y2="785.20" stroke="#231f20" stroke-width="1.0"/>
<rect x="150.30" y="761.12" width="15.70" height="21.88" fill="#22b133"/>
<line x1="158.15" y1="783.00" x2="158.15" y2="785.20" stroke="#231f20" stroke-width="1.0"/>
<circle cx="63.50" cy="691.83" r="1.15" fill="#111"/>
<circle cx="65.50" cy="691.83" r="1.15" fill="#111"/>
<circle cx="67.50" cy="691.83" r="1.15" fill="#111"/>
<line x1="96.50" y1="757.47" x2="96.50" y2="766.13" stroke="#231f20" stroke-width="0.8"/>
<line x1="93.00" y1="757.47" x2="100.00" y2="757.47" stroke="#231f20" stroke-width="0.8"/>
<line x1="93.00" y1="766.13" x2="100.00" y2="766.13" stroke="#231f20" stroke-width="0.8"/>
<circle cx="96.30" cy="755.19" r="1.00" fill="#111"/>
<circle cx="96.50" cy="762.94" r="1.00" fill="#111"/>
<circle cx="96.50" cy="767.96" r="1.00" fill="#111"/>
<line x1="127.10" y1="747.44" x2="127.10" y2="750.63" stroke="#231f20" stroke-width="0.8"/>
<circle cx="125.50" cy="748.81" r="1.10" fill="#111"/>
<circle cx="127.60" cy="750.36" r="1.10" fill="#111"/>
<circle cx="129.20" cy="747.90" r="1.00" fill="#111"/>
<circle cx="155.80" cy="759.75" r="1.00" fill="#111"/>
<circle cx="158.50" cy="761.58" r="1.00" fill="#111"/>
<circle cx="160.80" cy="760.66" r="1.00" fill="#111"/>
<text x="55.00" y="679.00" font-size="10.49" textLength="28.10" lengthAdjust="spacingAndGlyphs">22RV1</text>
<text x="27.60" y="727.60" font-size="10.06" text-anchor="middle" textLength="89.50" lengthAdjust="spacingAndGlyphs" transform="rotate(-90 27.60 727.60)">Colony formation (%)</text>
<text x="66.00" y="794.60" font-size="10.06" text-anchor="middle" textLength="16.40" lengthAdjust="spacingAndGlyphs">SCR</text>
<text x="96.60" y="794.60" font-size="10.06" text-anchor="middle" textLength="13.40" lengthAdjust="spacingAndGlyphs">C-1</text>
<text x="127.00" y="794.60" font-size="10.06" text-anchor="middle" textLength="13.80" lengthAdjust="spacingAndGlyphs">C-2</text>
<text x="157.90" y="794.60" font-size="10.06" text-anchor="middle" textLength="13.80" lengthAdjust="spacingAndGlyphs">C-3</text>
<line x1="83.50" y1="798.60" x2="174.20" y2="798.60" stroke="#555" stroke-width="1.0"/>
<text x="124.50" y="810.80" font-size="10.06" text-anchor="middle" textLength="33.90" lengthAdjust="spacingAndGlyphs"><tspan font-style="italic">DLX1</tspan>-KO</text>
<text x="97.80" y="735.70" font-size="7.38" text-anchor="middle" textLength="29.20" lengthAdjust="spacingAndGlyphs" transform="rotate(-90 97.80 735.70)"><tspan font-style="italic">P</tspan>&lt;0.0001</text>
<text x="129.50" y="728.70" font-size="7.38" text-anchor="middle" textLength="29.20" lengthAdjust="spacingAndGlyphs" transform="rotate(-90 129.50 728.70)"><tspan font-style="italic">P</tspan>&lt;0.0001</text>
<text x="162.20" y="741.50" font-size="7.38" text-anchor="middle" textLength="29.20" lengthAdjust="spacingAndGlyphs" transform="rotate(-90 162.20 741.50)"><tspan font-style="italic">P</tspan>&lt;0.0001</text>
<text x="226.00" y="401.20" font-size="16.91" font-weight="bold" fill="#000">k</text>
<rect x="410.70" y="404.20" width="7.40" height="7.70" fill="#6c22a6"/>
<text x="420.80" y="414.20" font-size="10.27" textLength="97.40" lengthAdjust="spacingAndGlyphs">Upregulated processes</text>
<rect x="410.70" y="417.00" width="7.40" height="7.70" fill="#2fb29a"/>
<text x="420.80" y="426.40" font-size="10.27" textLength="110.20" lengthAdjust="spacingAndGlyphs">Downregulated processes</text>
<text x="365.40" y="426.90" font-size="10.49" text-anchor="middle" textLength="73.10" lengthAdjust="spacingAndGlyphs">Number of genes</text>
<line x1="319.10" y1="443.00" x2="416.20" y2="443.00" stroke="#231f20" stroke-width="1.0"/>
<line x1="319.10" y1="440.80" x2="319.10" y2="443.00" stroke="#231f20" stroke-width="1.0"/>
<text x="318.80" y="438.70" font-size="10.06" text-anchor="middle" textLength="14.80" lengthAdjust="spacingAndGlyphs">200</text>
<line x1="344.20" y1="440.80" x2="344.20" y2="443.00" stroke="#231f20" stroke-width="1.0"/>
<text x="344.10" y="438.70" font-size="10.06" text-anchor="middle" textLength="14.80" lengthAdjust="spacingAndGlyphs">100</text>
<line x1="369.60" y1="440.80" x2="369.60" y2="443.00" stroke="#231f20" stroke-width="1.0"/>
<text x="367.60" y="438.70" font-size="10.06" text-anchor="middle" textLength="5.00" lengthAdjust="spacingAndGlyphs">0</text>
<line x1="388.30" y1="440.80" x2="388.30" y2="443.00" stroke="#231f20" stroke-width="1.0"/>
<text x="387.80" y="438.70" font-size="10.06" text-anchor="middle" textLength="14.80" lengthAdjust="spacingAndGlyphs">100</text>
<line x1="416.00" y1="440.80" x2="416.00" y2="443.00" stroke="#231f20" stroke-width="1.0"/>
<text x="414.70" y="438.70" font-size="10.06" text-anchor="middle" textLength="14.80" lengthAdjust="spacingAndGlyphs">200</text>
<line x1="369.60" y1="443.00" x2="369.60" y2="573.00" stroke="#231f20" stroke-width="1.0"/>
<line x1="319.10" y1="573.00" x2="415.50" y2="573.00" stroke="#231f20" stroke-width="1.0"/>
<line x1="319.10" y1="573.00" x2="319.10" y2="575.20" stroke="#231f20" stroke-width="1.0"/>
<text x="320.30" y="583.90" font-size="10.27" text-anchor="middle" textLength="5.00" lengthAdjust="spacingAndGlyphs">6</text>
<line x1="335.90" y1="573.00" x2="335.90" y2="575.20" stroke="#231f20" stroke-width="1.0"/>
<text x="336.30" y="583.90" font-size="10.27" text-anchor="middle" textLength="5.00" lengthAdjust="spacingAndGlyphs">4</text>
<line x1="352.40" y1="573.00" x2="352.40" y2="575.20" stroke="#231f20" stroke-width="1.0"/>
<text x="352.90" y="583.90" font-size="10.27" text-anchor="middle" textLength="5.00" lengthAdjust="spacingAndGlyphs">2</text>
<line x1="369.60" y1="573.00" x2="369.60" y2="575.20" stroke="#231f20" stroke-width="1.0"/>
<text x="369.60" y="583.90" font-size="10.27" text-anchor="middle" textLength="5.00" lengthAdjust="spacingAndGlyphs">0</text>
<line x1="385.30" y1="573.00" x2="385.30" y2="575.20" stroke="#231f20" stroke-width="1.0"/>
<text x="385.30" y="583.90" font-size="10.27" text-anchor="middle" textLength="5.00" lengthAdjust="spacingAndGlyphs">2</text>
<line x1="400.20" y1="573.00" x2="400.20" y2="575.20" stroke="#231f20" stroke-width="1.0"/>
<text x="400.70" y="583.90" font-size="10.27" text-anchor="middle" textLength="5.00" lengthAdjust="spacingAndGlyphs">4</text>
<line x1="415.50" y1="573.00" x2="415.50" y2="575.20" stroke="#231f20" stroke-width="1.0"/>
<text x="416.70" y="583.90" font-size="10.27" text-anchor="middle" textLength="5.00" lengthAdjust="spacingAndGlyphs">6</text>
<text x="370.70" y="593.90" font-size="10.49" text-anchor="middle" textLength="60.00" lengthAdjust="spacingAndGlyphs">-log<tspan font-size="6.2" dy="2">10</tspan><tspan dy="-2">(</tspan><tspan font-style="italic">P</tspan>-value)</text>
<rect x="323.40" y="449.80" width="46.20" height="6.00" fill="#2fb29a"/>
<rect x="369.60" y="449.80" width="37.80" height="6.00" fill="#6c22a6"/>
<rect x="336.20" y="467.70" width="33.40" height="6.00" fill="#2fb29a"/>
<rect x="369.60" y="467.70" width="32.10" height="6.00" fill="#6c22a6"/>
<rect x="340.90" y="486.80" width="28.70" height="6.00" fill="#2fb29a"/>
<rect x="369.60" y="486.80" width="25.40" height="6.00" fill="#6c22a6"/>
<rect x="342.60" y="505.30" width="27.00" height="6.00" fill="#2fb29a"/>
<rect x="369.60" y="505.30" width="19.30" height="6.00" fill="#6c22a6"/>
<rect x="349.30" y="523.70" width="20.30" height="6.00" fill="#2fb29a"/>
<rect x="369.60" y="523.70" width="18.30" height="6.00" fill="#6c22a6"/>
<rect x="357.00" y="542.20" width="12.60" height="6.00" fill="#2fb29a"/>
<rect x="369.60" y="542.20" width="12.60" height="6.00" fill="#6c22a6"/>
<rect x="358.70" y="560.70" width="10.90" height="6.00" fill="#2fb29a"/>
<rect x="369.60" y="560.70" width="10.20" height="6.00" fill="#6c22a6"/>
<line x1="369.60" y1="443.00" x2="369.60" y2="573.00" stroke="#231f20" stroke-width="1.0"/>
<polyline points="340.90,452.80 329.50,470.70 352.60,489.80 358.00,508.30 358.00,526.70 353.70,545.20 367.80,563.70" fill="none" stroke="#231f20" stroke-width="1.0"/>
<polyline points="372.10,452.80 374.50,470.70 391.60,489.80 396.60,508.30 406.40,526.70 373.80,545.20 376.20,563.70" fill="none" stroke="#231f20" stroke-width="1.0"/>
<rect x="339.25" y="451.15" width="3.30" height="3.30" fill="#111"/>
<rect x="327.85" y="469.05" width="3.30" height="3.30" fill="#111"/>
<rect x="350.95" y="488.15" width="3.30" height="3.30" fill="#111"/>
<rect x="356.35" y="506.65" width="3.30" height="3.30" fill="#111"/>
<rect x="356.35" y="525.05" width="3.30" height="3.30" fill="#111"/>
<rect x="352.05" y="543.55" width="3.30" height="3.30" fill="#111"/>
<rect x="366.15" y="562.05" width="3.30" height="3.30" fill="#111"/>
<rect x="370.45" y="451.15" width="3.30" height="3.30" fill="#111"/>
<rect x="372.85" y="469.05" width="3.30" height="3.30" fill="#111"/>
<rect x="389.95" y="488.15" width="3.30" height="3.30" fill="#111"/>
<rect x="394.95" y="506.65" width="3.30" height="3.30" fill="#111"/>
<rect x="404.75" y="525.05" width="3.30" height="3.30" fill="#111"/>
<rect x="372.15" y="543.55" width="3.30" height="3.30" fill="#111"/>
<rect x="374.55" y="562.05" width="3.30" height="3.30" fill="#111"/>
<text x="318.00" y="456.00" font-size="9.84" text-anchor="end" textLength="52.40" lengthAdjust="spacingAndGlyphs">Cell migration</text>
<text x="318.00" y="473.90" font-size="9.84" text-anchor="end" textLength="61.30" lengthAdjust="spacingAndGlyphs">Cell proliferation</text>
<text x="318.00" y="492.00" font-size="9.84" text-anchor="end" textLength="105.20" lengthAdjust="spacingAndGlyphs">Regulation of MAPK cascade</text>
<text x="318.00" y="510.30" font-size="9.84" text-anchor="end" textLength="50.00" lengthAdjust="spacingAndGlyphs">Angiogenesis</text>
<text x="318.00" y="526.30" font-size="9.84" text-anchor="end" textLength="85.00" lengthAdjust="spacingAndGlyphs">Wnt signaling pathway</text>
<text x="318.00" y="540.40" font-size="9.84" text-anchor="end" textLength="83.50" lengthAdjust="spacingAndGlyphs">Negative regulation of</text>
<text x="318.00" y="549.00" font-size="9.84" text-anchor="end" textLength="105.50" lengthAdjust="spacingAndGlyphs">transcription from RNA pol II</text>
<text x="318.00" y="561.90" font-size="9.84" text-anchor="end" textLength="103.10" lengthAdjust="spacingAndGlyphs">Negative regulation of stem</text>
<text x="318.00" y="570.40" font-size="9.84" text-anchor="end" textLength="106.80" lengthAdjust="spacingAndGlyphs">cell population maintenance</text>
<text x="414.80" y="456.00" font-size="9.84" textLength="107.80" lengthAdjust="spacingAndGlyphs">Response to type I interferon</text>
<text x="414.80" y="469.50" font-size="9.84" textLength="88.30" lengthAdjust="spacingAndGlyphs">Antigen processing and</text>
<text x="414.80" y="478.20" font-size="9.84" textLength="47.30" lengthAdjust="spacingAndGlyphs">presentation</text>
<text x="414.80" y="493.00" font-size="9.84" textLength="86.20" lengthAdjust="spacingAndGlyphs">Programmed cell death</text>
<text x="414.80" y="511.50" font-size="9.84" textLength="89.20" lengthAdjust="spacingAndGlyphs">Immune system process</text>
<text x="414.80" y="527.60" font-size="9.84" textLength="70.00" lengthAdjust="spacingAndGlyphs">Cell differentiation</text>
<text x="414.80" y="540.40" font-size="9.84" textLength="72.60" lengthAdjust="spacingAndGlyphs">Cellular response to</text>
<text x="414.80" y="549.10" font-size="9.84" textLength="78.80" lengthAdjust="spacingAndGlyphs">tumor necrosis factor</text>
<text x="414.80" y="561.20" font-size="9.84" textLength="49.60" lengthAdjust="spacingAndGlyphs">Regulation of</text>
<text x="414.80" y="570.20" font-size="9.84" textLength="61.60" lengthAdjust="spacingAndGlyphs">mitotic cell cycle</text>
<text x="227.30" y="616.60" font-size="16.91" font-weight="bold" fill="#000">l</text>
<line x1="235.70" y1="634.30" x2="235.70" y2="803.10" stroke="#231f20" stroke-width="1.0"/>
<text x="232.30" y="716.20" font-size="10.27" text-anchor="middle" textLength="92.50" lengthAdjust="spacingAndGlyphs" transform="rotate(-90 232.30 716.20)">Enrichment Score (ES)</text>
<rect x="254.60" y="634.30" width="112.90" height="75.30" fill="#fff"/>
<line x1="268.71" y1="634.30" x2="268.71" y2="688.10" stroke="#eeeeee" stroke-width="0.4"/>
<line x1="282.82" y1="634.30" x2="282.82" y2="688.10" stroke="#eeeeee" stroke-width="0.4"/>
<line x1="296.94" y1="634.30" x2="296.94" y2="688.10" stroke="#eeeeee" stroke-width="0.4"/>
<line x1="311.05" y1="634.30" x2="311.05" y2="688.10" stroke="#eeeeee" stroke-width="0.4"/>
<line x1="325.16" y1="634.30" x2="325.16" y2="688.10" stroke="#eeeeee" stroke-width="0.4"/>
<line x1="339.27" y1="634.30" x2="339.27" y2="688.10" stroke="#eeeeee" stroke-width="0.4"/>
<line x1="353.39" y1="634.30" x2="353.39" y2="688.10" stroke="#eeeeee" stroke-width="0.4"/>
<line x1="254.60" y1="654.30" x2="367.50" y2="654.30" stroke="#bdbdbd" stroke-width="0.7"/>
<clipPath id="cp5"><rect x="254.60" y="688.10" width="108.40" height="17.30"/></clipPath>
<g clip-path="url(#cp5)">
<line x1="254.90" y1="688.10" x2="254.90" y2="705.40" stroke="#1e1e1e" stroke-width="0.7"/>
<line x1="255.67" y1="688.10" x2="255.67" y2="705.40" stroke="#000000" stroke-width="0.9"/>
<line x1="256.60" y1="688.10" x2="256.60" y2="705.40" stroke="#464646" stroke-width="0.7"/>
<line x1="257.30" y1="688.10" x2="257.30" y2="705.40" stroke="#464646" stroke-width="0.5"/>
<line x1="258.50" y1="688.10" x2="258.50" y2="705.40" stroke="#323232" stroke-width="0.7"/>
<line x1="259.65" y1="688.10" x2="259.65" y2="705.40" stroke="#323232" stroke-width="0.7"/>
<line x1="260.49" y1="688.10" x2="260.49" y2="705.40" stroke="#464646" stroke-width="0.9"/>
<line x1="261.46" y1="688.10" x2="261.46" y2="705.40" stroke="#323232" stroke-width="0.5"/>
<line x1="262.12" y1="688.10" x2="262.12" y2="705.40" stroke="#8c8c8c" stroke-width="1.2"/>
<line x1="264.90" y1="688.10" x2="264.90" y2="705.40" stroke="#505050" stroke-width="0.5"/>
<line x1="265.56" y1="688.10" x2="265.56" y2="705.40" stroke="#141414" stroke-width="0.5"/>
<line x1="270.51" y1="688.10" x2="270.51" y2="705.40" stroke="#8c8c8c" stroke-width="0.7"/>
<line x1="271.26" y1="688.10" x2="271.26" y2="705.40" stroke="#aaaaaa" stroke-width="0.7"/>
<line x1="272.40" y1="688.10" x2="272.40" y2="705.40" stroke="#141414" stroke-width="0.5"/>
<line x1="273.35" y1="688.10" x2="273.35" y2="705.40" stroke="#969696" stroke-width="1.2"/>
<line x1="276.99" y1="688.10" x2="276.99" y2="705.40" stroke="#969696" stroke-width="0.5"/>
<line x1="279.34" y1="688.10" x2="279.34" y2="705.40" stroke="#aaaaaa" stroke-width="0.7"/>
<line x1="281.09" y1="688.10" x2="281.09" y2="705.40" stroke="#141414" stroke-width="1.2"/>
<line x1="281.77" y1="688.10" x2="281.77" y2="705.40" stroke="#6e6e6e" stroke-width="0.5"/>
<line x1="282.98" y1="688.10" x2="282.98" y2="705.40" stroke="#505050" stroke-width="0.7"/>
<line x1="284.13" y1="688.10" x2="284.13" y2="705.40" stroke="#323232" stroke-width="0.7"/>
<line x1="288.41" y1="688.10" x2="288.41" y2="705.40" stroke="#141414" stroke-width="1.2"/>
<line x1="289.45" y1="688.10" x2="289.45" y2="705.40" stroke="#505050" stroke-width="0.9"/>
<line x1="290.37" y1="688.10" x2="290.37" y2="705.40" stroke="#8c8c8c" stroke-width="1.2"/>
<line x1="291.01" y1="688.10" x2="291.01" y2="705.40" stroke="#323232" stroke-width="0.5"/>
<line x1="293.78" y1="688.10" x2="293.78" y2="705.40" stroke="#aaaaaa" stroke-width="1.2"/>
<line x1="299.77" y1="688.10" x2="299.77" y2="705.40" stroke="#505050" stroke-width="0.9"/>
<line x1="303.93" y1="688.10" x2="303.93" y2="705.40" stroke="#505050" stroke-width="1.2"/>
<line x1="307.65" y1="688.10" x2="307.65" y2="705.40" stroke="#141414" stroke-width="0.7"/>
<line x1="309.43" y1="688.10" x2="309.43" y2="705.40" stroke="#8c8c8c" stroke-width="0.5"/>
<line x1="315.87" y1="688.10" x2="315.87" y2="705.40" stroke="#aaaaaa" stroke-width="0.5"/>
<line x1="317.08" y1="688.10" x2="317.08" y2="705.40" stroke="#969696" stroke-width="1.2"/>
<line x1="318.14" y1="688.10" x2="318.14" y2="705.40" stroke="#5a5a5a" stroke-width="0.5"/>
<line x1="319.05" y1="688.10" x2="319.05" y2="705.40" stroke="#aaaaaa" stroke-width="1.2"/>
<line x1="320.20" y1="688.10" x2="320.20" y2="705.40" stroke="#000000" stroke-width="1.2"/>
<line x1="320.81" y1="688.10" x2="320.81" y2="705.40" stroke="#0a0a0a" stroke-width="0.5"/>
<line x1="322.05" y1="688.10" x2="322.05" y2="705.40" stroke="#1e1e1e" stroke-width="0.9"/>
<line x1="324.07" y1="688.10" x2="324.07" y2="705.40" stroke="#000000" stroke-width="0.5"/>
<line x1="326.66" y1="688.10" x2="326.66" y2="705.40" stroke="#464646" stroke-width="0.9"/>
<line x1="327.48" y1="688.10" x2="327.48" y2="705.40" stroke="#323232" stroke-width="1.2"/>
<line x1="328.74" y1="688.10" x2="328.74" y2="705.40" stroke="#646464" stroke-width="0.7"/>
<line x1="329.62" y1="688.10" x2="329.62" y2="705.40" stroke="#8c8c8c" stroke-width="0.9"/>
<line x1="330.67" y1="688.10" x2="330.67" y2="705.40" stroke="#aaaaaa" stroke-width="1.2"/>
<line x1="331.41" y1="688.10" x2="331.41" y2="705.40" stroke="#aaaaaa" stroke-width="0.7"/>
<line x1="333.44" y1="688.10" x2="333.44" y2="705.40" stroke="#323232" stroke-width="0.9"/>
<line x1="334.41" y1="688.10" x2="334.41" y2="705.40" stroke="#505050" stroke-width="1.2"/>
<line x1="336.91" y1="688.10" x2="336.91" y2="705.40" stroke="#141414" stroke-width="0.9"/>
<line x1="337.92" y1="688.10" x2="337.92" y2="705.40" stroke="#8c8c8c" stroke-width="1.2"/>
<line x1="341.32" y1="688.10" x2="341.32" y2="705.40" stroke="#6e6e6e" stroke-width="1.2"/>
<line x1="344.95" y1="688.10" x2="344.95" y2="705.40" stroke="#505050" stroke-width="1.2"/>
<line x1="345.91" y1="688.10" x2="345.91" y2="705.40" stroke="#8c8c8c" stroke-width="0.5"/>
<line x1="346.91" y1="688.10" x2="346.91" y2="705.40" stroke="#505050" stroke-width="0.9"/>
<line x1="348.78" y1="688.10" x2="348.78" y2="705.40" stroke="#6e6e6e" stroke-width="0.7"/>
<line x1="349.49" y1="688.10" x2="349.49" y2="705.40" stroke="#505050" stroke-width="0.9"/>
<line x1="350.34" y1="688.10" x2="350.34" y2="705.40" stroke="#aaaaaa" stroke-width="0.9"/>
<line x1="351.48" y1="688.10" x2="351.48" y2="705.40" stroke="#505050" stroke-width="1.2"/>
<line x1="352.57" y1="688.10" x2="352.57" y2="705.40" stroke="#141414" stroke-width="1.2"/>
<line x1="355.60" y1="688.10" x2="355.60" y2="705.40" stroke="#323232" stroke-width="0.5"/>
<line x1="356.26" y1="688.10" x2="356.26" y2="705.40" stroke="#1e1e1e" stroke-width="1.2"/>
<line x1="357.19" y1="688.10" x2="357.19" y2="705.40" stroke="#000000" stroke-width="0.7"/>
<line x1="358.15" y1="688.10" x2="358.15" y2="705.40" stroke="#464646" stroke-width="0.5"/>
<line x1="359.21" y1="688.10" x2="359.21" y2="705.40" stroke="#646464" stroke-width="0.7"/>
<line x1="359.93" y1="688.10" x2="359.93" y2="705.40" stroke="#0a0a0a" stroke-width="0.9"/>
<line x1="360.78" y1="688.10" x2="360.78" y2="705.40" stroke="#646464" stroke-width="0.5"/>
<line x1="361.75" y1="688.10" x2="361.75" y2="705.40" stroke="#323232" stroke-width="1.2"/>
</g>
<defs><linearGradient id="gs254634" x1="0" x2="1" y1="0" y2="0">
<stop offset="0" stop-color="#dc3e3e"/><stop offset="0.177" stop-color="#e44a50"/><stop offset="0.19" stop-color="#ec6672"/><stop offset="0.41" stop-color="#f08a94"/><stop offset="0.42" stop-color="#f4bcd8"/><stop offset="0.59" stop-color="#f0c8e4"/><stop offset="0.6" stop-color="#dad2f2"/><stop offset="0.77" stop-color="#c4bcee"/><stop offset="0.78" stop-color="#7468cc"/><stop offset="1" stop-color="#4034b0"/></linearGradient></defs>
<rect x="254.60" y="705.40" width="108.40" height="4.20" fill="url(#gs254634)"/>
<polyline points="254.90,644.23 255.12,643.69 255.34,643.06 255.56,642.26 255.78,641.36 256.00,640.22 256.67,639.37 257.33,638.80 258.00,637.61 259.00,637.55 260.00,636.87 261.00,636.27 261.90,636.17 262.80,636.58 263.70,636.11 264.52,636.22 265.35,636.78 266.18,636.32 267.00,636.47 267.83,637.40 268.67,637.19 269.50,637.98 270.33,638.16 271.17,637.88 272.00,638.75 272.86,639.24 273.71,639.52 274.57,639.91 275.43,640.16 276.29,640.71 277.14,641.22 278.00,641.32 278.88,641.88 279.75,642.80 280.62,643.34 281.50,643.60 282.38,643.99 283.25,644.55 284.12,644.78 285.00,645.43 285.88,646.41 286.75,646.46 287.62,646.97 288.50,647.58 289.38,648.27 290.25,649.43 291.12,650.02 292.00,650.29 292.81,650.84 293.62,651.31 294.44,652.03 295.25,652.25 296.06,653.08 296.88,653.33 297.69,653.88 298.50,654.58 299.33,654.54 300.17,655.73 301.00,655.97 301.83,656.83 302.67,656.86 303.50,657.46 304.33,658.31 305.17,658.67 306.00,659.26 306.80,660.22 307.60,660.77 308.40,660.87 309.20,661.72 310.00,661.83 310.80,662.28 311.60,662.88 312.40,663.37 313.20,663.91 314.00,664.49 314.80,665.20 315.60,665.64 316.40,666.38 317.20,666.78 318.00,667.35 318.80,667.38 319.60,668.31 320.40,668.27 321.20,669.24 322.00,669.80 322.80,670.20 323.60,670.62 324.40,670.78 325.20,671.37 326.00,671.64 326.80,672.23 327.60,672.54 328.40,673.17 329.20,673.61 330.00,674.29 330.80,674.59 331.60,674.84 332.40,675.27 333.20,675.77 334.00,675.99 334.80,676.85 335.60,676.80 336.40,677.54 337.20,677.64 338.00,678.24 338.86,678.68 339.71,679.21 340.57,679.36 341.43,680.19 342.29,680.13 343.14,680.78 344.00,680.91 344.80,681.49 345.60,682.16 346.40,682.21 347.20,682.95 348.00,683.13 349.00,683.75 350.00,684.34 351.00,684.19 352.00,683.88 353.00,683.79 354.00,684.08 355.00,683.33 356.00,682.98 357.00,682.32 357.67,681.43 358.33,680.74 359.00,679.57 359.25,678.59 359.50,677.68 359.75,677.09 360.00,675.60 360.25,674.78 360.50,674.14 360.59,673.46 360.68,672.39 360.77,671.25 360.86,670.67 360.95,670.12 361.05,669.39 361.14,668.20 361.23,667.21 361.32,666.65 361.41,665.98 361.50,664.97 361.56,663.83 361.62,663.58 361.68,662.43 361.73,661.49 361.79,661.08 361.85,660.27 361.91,658.84 361.97,658.57 362.02,657.31 362.08,656.36 362.14,655.92 362.20,655.00" fill="none" stroke="#7ac52e" stroke-width="1.1" stroke-linejoin="round"/>
<rect x="254.60" y="634.30" width="112.90" height="75.30" fill="none" stroke="#3a3a3a" stroke-width="0.9"/>
<line x1="254.60" y1="688.10" x2="367.50" y2="688.10" stroke="#888" stroke-width="0.5"/>
<line x1="253.00" y1="638.80" x2="254.60" y2="638.80" stroke="#231f20" stroke-width="0.6"/>
<text x="253.60" y="641.80" font-size="9.42" text-anchor="end" textLength="11.40" lengthAdjust="spacingAndGlyphs">0.2</text>
<line x1="253.00" y1="646.20" x2="254.60" y2="646.20" stroke="#231f20" stroke-width="0.6"/>
<text x="253.60" y="649.20" font-size="9.42" text-anchor="end" textLength="11.40" lengthAdjust="spacingAndGlyphs">0.1</text>
<line x1="253.00" y1="654.30" x2="254.60" y2="654.30" stroke="#231f20" stroke-width="0.6"/>
<text x="253.60" y="657.30" font-size="9.42" text-anchor="end" textLength="4.60" lengthAdjust="spacingAndGlyphs">0</text>
<line x1="253.00" y1="662.50" x2="254.60" y2="662.50" stroke="#231f20" stroke-width="0.6"/>
<text x="253.60" y="665.50" font-size="9.42" text-anchor="end" textLength="14.00" lengthAdjust="spacingAndGlyphs">-0.1</text>
<line x1="253.00" y1="669.50" x2="254.60" y2="669.50" stroke="#231f20" stroke-width="0.6"/>
<text x="253.60" y="672.50" font-size="9.42" text-anchor="end" textLength="14.00" lengthAdjust="spacingAndGlyphs">-0.2</text>
<line x1="253.00" y1="676.80" x2="254.60" y2="676.80" stroke="#231f20" stroke-width="0.6"/>
<text x="253.60" y="679.80" font-size="9.42" text-anchor="end" textLength="14.00" lengthAdjust="spacingAndGlyphs">-0.3</text>
<line x1="253.00" y1="685.00" x2="254.60" y2="685.00" stroke="#231f20" stroke-width="0.6"/>
<text x="253.60" y="688.00" font-size="9.42" text-anchor="end" textLength="14.00" lengthAdjust="spacingAndGlyphs">-0.4</text>
<text x="312.10" y="630.00" font-size="10.7" text-anchor="middle" textLength="42.30" lengthAdjust="spacingAndGlyphs">Apoptosis</text>
<text x="323.60" y="645.20" font-size="9.42" textLength="37.20" lengthAdjust="spacingAndGlyphs">NES=-1.61</text>
<text x="323.60" y="654.80" font-size="9.42" textLength="26.00" lengthAdjust="spacingAndGlyphs"><tspan font-style="italic">P</tspan>=0.00</text>
<text x="323.60" y="664.00" font-size="9.42" textLength="40.40" lengthAdjust="spacingAndGlyphs">FDR=0.015</text>
<text x="258.30" y="648.40" font-size="8.99" textLength="13.20" lengthAdjust="spacingAndGlyphs">SCR</text>
<text x="332.30" y="677.20" font-size="8.99" textLength="29.70" lengthAdjust="spacingAndGlyphs"><tspan font-style="italic">DLX1</tspan>-KO</text>
<rect x="254.30" y="730.30" width="113.20" height="75.00" fill="#fff"/>
<line x1="268.45" y1="730.30" x2="268.45" y2="784.10" stroke="#eeeeee" stroke-width="0.4"/>
<line x1="282.60" y1="730.30" x2="282.60" y2="784.10" stroke="#eeeeee" stroke-width="0.4"/>
<line x1="296.75" y1="730.30" x2="296.75" y2="784.10" stroke="#eeeeee" stroke-width="0.4"/>
<line x1="310.90" y1="730.30" x2="310.90" y2="784.10" stroke="#eeeeee" stroke-width="0.4"/>
<line x1="325.05" y1="730.30" x2="325.05" y2="784.10" stroke="#eeeeee" stroke-width="0.4"/>
<line x1="339.20" y1="730.30" x2="339.20" y2="784.10" stroke="#eeeeee" stroke-width="0.4"/>
<line x1="353.35" y1="730.30" x2="353.35" y2="784.10" stroke="#eeeeee" stroke-width="0.4"/>
<line x1="254.30" y1="768.50" x2="367.50" y2="768.50" stroke="#bdbdbd" stroke-width="0.7"/>
<clipPath id="cp6"><rect x="254.30" y="784.10" width="108.70" height="16.70"/></clipPath>
<g clip-path="url(#cp6)">
<line x1="254.60" y1="784.10" x2="254.60" y2="800.80" stroke="#1e1e1e" stroke-width="0.9"/>
<line x1="255.27" y1="784.10" x2="255.27" y2="800.80" stroke="#0a0a0a" stroke-width="1.2"/>
<line x1="256.89" y1="784.10" x2="256.89" y2="800.80" stroke="#646464" stroke-width="0.9"/>
<line x1="257.70" y1="784.10" x2="257.70" y2="800.80" stroke="#646464" stroke-width="0.9"/>
<line x1="259.80" y1="784.10" x2="259.80" y2="800.80" stroke="#000000" stroke-width="1.2"/>
<line x1="260.75" y1="784.10" x2="260.75" y2="800.80" stroke="#1e1e1e" stroke-width="1.2"/>
<line x1="262.65" y1="784.10" x2="262.65" y2="800.80" stroke="#323232" stroke-width="0.9"/>
<line x1="264.40" y1="784.10" x2="264.40" y2="800.80" stroke="#787878" stroke-width="0.5"/>
<line x1="267.17" y1="784.10" x2="267.17" y2="800.80" stroke="#bebebe" stroke-width="0.9"/>
<line x1="270.90" y1="784.10" x2="270.90" y2="800.80" stroke="#969696" stroke-width="1.2"/>
<line x1="274.96" y1="784.10" x2="274.96" y2="800.80" stroke="#646464" stroke-width="1.2"/>
<line x1="275.86" y1="784.10" x2="275.86" y2="800.80" stroke="#000000" stroke-width="0.5"/>
<line x1="276.53" y1="784.10" x2="276.53" y2="800.80" stroke="#0a0a0a" stroke-width="0.9"/>
<line x1="277.37" y1="784.10" x2="277.37" y2="800.80" stroke="#464646" stroke-width="0.7"/>
<line x1="278.20" y1="784.10" x2="278.20" y2="800.80" stroke="#464646" stroke-width="0.9"/>
<line x1="279.69" y1="784.10" x2="279.69" y2="800.80" stroke="#323232" stroke-width="1.2"/>
<line x1="280.86" y1="784.10" x2="280.86" y2="800.80" stroke="#bebebe" stroke-width="0.5"/>
<line x1="290.98" y1="784.10" x2="290.98" y2="800.80" stroke="#6e6e6e" stroke-width="1.2"/>
<line x1="291.91" y1="784.10" x2="291.91" y2="800.80" stroke="#505050" stroke-width="0.7"/>
<line x1="292.84" y1="784.10" x2="292.84" y2="800.80" stroke="#141414" stroke-width="0.7"/>
<line x1="296.70" y1="784.10" x2="296.70" y2="800.80" stroke="#141414" stroke-width="0.5"/>
<line x1="297.64" y1="784.10" x2="297.64" y2="800.80" stroke="#505050" stroke-width="0.9"/>
<line x1="298.53" y1="784.10" x2="298.53" y2="800.80" stroke="#505050" stroke-width="0.5"/>
<line x1="300.51" y1="784.10" x2="300.51" y2="800.80" stroke="#aaaaaa" stroke-width="0.5"/>
<line x1="301.21" y1="784.10" x2="301.21" y2="800.80" stroke="#141414" stroke-width="0.5"/>
<line x1="301.83" y1="784.10" x2="301.83" y2="800.80" stroke="#141414" stroke-width="1.2"/>
<line x1="304.31" y1="784.10" x2="304.31" y2="800.80" stroke="#5a5a5a" stroke-width="0.7"/>
<line x1="306.77" y1="784.10" x2="306.77" y2="800.80" stroke="#787878" stroke-width="0.9"/>
<line x1="308.53" y1="784.10" x2="308.53" y2="800.80" stroke="#5a5a5a" stroke-width="1.2"/>
<line x1="313.47" y1="784.10" x2="313.47" y2="800.80" stroke="#323232" stroke-width="0.9"/>
<line x1="314.12" y1="784.10" x2="314.12" y2="800.80" stroke="#aaaaaa" stroke-width="0.5"/>
<line x1="315.35" y1="784.10" x2="315.35" y2="800.80" stroke="#505050" stroke-width="0.5"/>
<line x1="315.99" y1="784.10" x2="315.99" y2="800.80" stroke="#6e6e6e" stroke-width="0.9"/>
<line x1="318.49" y1="784.10" x2="318.49" y2="800.80" stroke="#aaaaaa" stroke-width="1.2"/>
<line x1="319.14" y1="784.10" x2="319.14" y2="800.80" stroke="#aaaaaa" stroke-width="0.7"/>
<line x1="321.75" y1="784.10" x2="321.75" y2="800.80" stroke="#000000" stroke-width="1.2"/>
<line x1="322.47" y1="784.10" x2="322.47" y2="800.80" stroke="#1e1e1e" stroke-width="0.9"/>
<line x1="323.32" y1="784.10" x2="323.32" y2="800.80" stroke="#323232" stroke-width="1.2"/>
<line x1="324.62" y1="784.10" x2="324.62" y2="800.80" stroke="#646464" stroke-width="0.7"/>
<line x1="325.52" y1="784.10" x2="325.52" y2="800.80" stroke="#646464" stroke-width="0.7"/>
<line x1="326.52" y1="784.10" x2="326.52" y2="800.80" stroke="#1e1e1e" stroke-width="1.2"/>
<line x1="327.25" y1="784.10" x2="327.25" y2="800.80" stroke="#1e1e1e" stroke-width="0.5"/>
<line x1="327.91" y1="784.10" x2="327.91" y2="800.80" stroke="#464646" stroke-width="1.2"/>
<line x1="328.68" y1="784.10" x2="328.68" y2="800.80" stroke="#323232" stroke-width="0.5"/>
<line x1="329.61" y1="784.10" x2="329.61" y2="800.80" stroke="#646464" stroke-width="0.7"/>
<line x1="332.86" y1="784.10" x2="332.86" y2="800.80" stroke="#969696" stroke-width="0.7"/>
<line x1="335.67" y1="784.10" x2="335.67" y2="800.80" stroke="#aaaaaa" stroke-width="0.9"/>
<line x1="338.75" y1="784.10" x2="338.75" y2="800.80" stroke="#6e6e6e" stroke-width="0.7"/>
<line x1="342.02" y1="784.10" x2="342.02" y2="800.80" stroke="#505050" stroke-width="1.2"/>
<line x1="342.73" y1="784.10" x2="342.73" y2="800.80" stroke="#141414" stroke-width="1.2"/>
<line x1="349.62" y1="784.10" x2="349.62" y2="800.80" stroke="#5a5a5a" stroke-width="1.2"/>
<line x1="356.45" y1="784.10" x2="356.45" y2="800.80" stroke="#5a5a5a" stroke-width="1.2"/>
<line x1="358.58" y1="784.10" x2="358.58" y2="800.80" stroke="#aaaaaa" stroke-width="0.5"/>
<line x1="359.38" y1="784.10" x2="359.38" y2="800.80" stroke="#464646" stroke-width="0.7"/>
<line x1="360.18" y1="784.10" x2="360.18" y2="800.80" stroke="#646464" stroke-width="0.5"/>
<line x1="360.88" y1="784.10" x2="360.88" y2="800.80" stroke="#000000" stroke-width="0.9"/>
<line x1="361.75" y1="784.10" x2="361.75" y2="800.80" stroke="#323232" stroke-width="0.7"/>
</g>
<defs><linearGradient id="gs254730" x1="0" x2="1" y1="0" y2="0">
<stop offset="0" stop-color="#dc3e3e"/><stop offset="0.177" stop-color="#e44a50"/><stop offset="0.19" stop-color="#ec6672"/><stop offset="0.41" stop-color="#f08a94"/><stop offset="0.42" stop-color="#f4bcd8"/><stop offset="0.59" stop-color="#f0c8e4"/><stop offset="0.6" stop-color="#dad2f2"/><stop offset="0.77" stop-color="#c4bcee"/><stop offset="0.78" stop-color="#7468cc"/><stop offset="1" stop-color="#4034b0"/></linearGradient></defs>
<rect x="254.30" y="800.80" width="108.70" height="4.50" fill="url(#gs254730)"/>
<polyline points="254.60,768.21 254.69,767.15 254.78,766.35 254.87,765.75 254.96,765.20 255.05,763.72 255.14,763.10 255.23,762.72 255.32,761.40 255.41,760.78 255.50,759.81 255.60,758.94 255.70,758.54 255.80,757.86 255.90,756.90 256.00,756.15 256.10,755.05 256.20,754.65 256.30,753.49 256.40,752.61 256.50,752.07 256.60,750.98 256.70,750.63 256.80,749.53 256.90,749.06 257.00,748.10 257.20,747.53 257.40,746.17 257.60,745.42 257.80,744.87 258.00,743.82 258.20,743.24 258.40,742.23 258.60,741.72 258.80,741.01 259.00,740.29 259.43,739.28 259.85,738.03 260.27,737.20 260.70,736.79 261.47,735.77 262.23,734.56 263.00,734.12 264.00,733.35 265.00,733.18 265.95,732.75 266.90,733.34 267.85,733.01 268.80,733.54 269.90,734.32 271.00,734.63 272.00,735.87 273.00,736.43 274.00,736.99 275.00,736.78 276.00,737.11 277.00,737.17 278.00,736.41 279.00,736.61 280.00,737.36 281.00,737.82 281.82,738.25 282.64,738.48 283.45,739.04 284.27,739.57 285.09,739.75 285.91,739.90 286.73,740.87 287.55,741.38 288.36,741.57 289.18,742.14 290.00,742.18 290.83,743.30 291.67,743.48 292.50,743.77 293.33,744.36 294.17,744.83 295.00,745.41 295.83,745.96 296.67,746.64 297.50,747.23 298.33,747.22 299.17,748.05 300.00,748.68 300.83,748.97 301.67,749.55 302.50,749.96 303.33,750.84 304.17,751.16 305.00,752.11 305.83,752.25 306.67,753.48 307.50,753.86 308.33,754.11 309.17,754.94 310.00,755.34 310.83,756.04 311.67,756.90 312.50,757.48 313.33,757.90 314.17,758.56 315.00,759.06 315.83,759.26 316.67,760.49 317.50,760.49 318.33,761.52 319.17,761.92 320.00,762.75 320.81,762.92 321.62,763.87 322.43,764.57 323.24,764.74 324.05,765.35 324.86,766.34 325.67,766.67 326.48,767.23 327.29,767.95 328.10,768.67 328.98,768.52 329.86,769.57 330.73,769.57 331.61,769.62 332.49,770.39 333.37,770.65 334.24,770.97 335.12,771.48 336.00,771.51 336.80,772.18 337.60,772.21 338.40,772.75 339.20,772.72 340.00,773.02 340.80,773.77 341.60,773.92 342.40,774.05 343.20,774.13 344.00,774.25 344.80,774.88 345.60,775.07 346.40,775.65 347.20,775.39 348.00,776.11 348.80,776.03 349.60,776.68 350.40,776.91 351.20,777.21 352.00,777.29 352.85,777.80 353.70,778.03 354.55,778.48 355.40,779.18 356.25,779.18 357.10,779.94 357.95,779.96 358.80,780.75 359.65,779.18 360.50,778.53 360.69,777.40 360.88,776.97 361.07,775.76 361.27,775.08 361.46,774.60 361.65,773.33 361.84,772.60 362.03,771.57 362.23,771.15 362.42,770.20 362.61,769.23 362.80,768.50" fill="none" stroke="#7ac52e" stroke-width="1.1" stroke-linejoin="round"/>
<rect x="254.30" y="730.30" width="113.20" height="75.00" fill="none" stroke="#3a3a3a" stroke-width="0.9"/>
<line x1="254.30" y1="784.10" x2="367.50" y2="784.10" stroke="#888" stroke-width="0.5"/>
<line x1="252.70" y1="737.90" x2="254.30" y2="737.90" stroke="#231f20" stroke-width="0.6"/>
<text x="253.30" y="740.90" font-size="9.42" text-anchor="end" textLength="11.40" lengthAdjust="spacingAndGlyphs">0.4</text>
<line x1="252.70" y1="745.70" x2="254.30" y2="745.70" stroke="#231f20" stroke-width="0.6"/>
<text x="253.30" y="748.70" font-size="9.42" text-anchor="end" textLength="11.40" lengthAdjust="spacingAndGlyphs">0.3</text>
<line x1="252.70" y1="753.40" x2="254.30" y2="753.40" stroke="#231f20" stroke-width="0.6"/>
<text x="253.30" y="756.40" font-size="9.42" text-anchor="end" textLength="11.40" lengthAdjust="spacingAndGlyphs">0.2</text>
<line x1="252.70" y1="761.00" x2="254.30" y2="761.00" stroke="#231f20" stroke-width="0.6"/>
<text x="253.30" y="764.00" font-size="9.42" text-anchor="end" textLength="11.40" lengthAdjust="spacingAndGlyphs">0.1</text>
<line x1="252.70" y1="768.50" x2="254.30" y2="768.50" stroke="#231f20" stroke-width="0.6"/>
<text x="253.30" y="771.50" font-size="9.42" text-anchor="end" textLength="4.60" lengthAdjust="spacingAndGlyphs">0</text>
<line x1="252.70" y1="775.90" x2="254.30" y2="775.90" stroke="#231f20" stroke-width="0.6"/>
<text x="253.30" y="778.90" font-size="9.42" text-anchor="end" textLength="14.00" lengthAdjust="spacingAndGlyphs">-0.1</text>
<line x1="252.70" y1="783.70" x2="254.30" y2="783.70" stroke="#231f20" stroke-width="0.6"/>
<text x="253.30" y="786.70" font-size="9.42" text-anchor="end" textLength="14.00" lengthAdjust="spacingAndGlyphs">-0.2</text>
<text x="312.30" y="727.80" font-size="10.7" text-anchor="middle" textLength="52.10" lengthAdjust="spacingAndGlyphs">Akt1 Targets</text>
<text x="323.60" y="742.20" font-size="9.42" textLength="40.50" lengthAdjust="spacingAndGlyphs">NES=1.763</text>
<text x="323.60" y="751.20" font-size="9.42" textLength="26.00" lengthAdjust="spacingAndGlyphs"><tspan font-style="italic">P</tspan>=0.00</text>
<text x="323.60" y="760.60" font-size="9.42" textLength="40.40" lengthAdjust="spacingAndGlyphs">FDR=0.002</text>
<text x="261.10" y="745.70" font-size="8.99" textLength="12.90" lengthAdjust="spacingAndGlyphs">SCR</text>
<text x="334.60" y="777.00" font-size="8.99" textLength="28.20" lengthAdjust="spacingAndGlyphs"><tspan font-style="italic">DLX1</tspan>-KO</text>
<rect x="387.20" y="634.40" width="116.50" height="75.60" fill="#fff"/>
<line x1="401.76" y1="634.40" x2="401.76" y2="688.20" stroke="#eeeeee" stroke-width="0.4"/>
<line x1="416.32" y1="634.40" x2="416.32" y2="688.20" stroke="#eeeeee" stroke-width="0.4"/>
<line x1="430.89" y1="634.40" x2="430.89" y2="688.20" stroke="#eeeeee" stroke-width="0.4"/>
<line x1="445.45" y1="634.40" x2="445.45" y2="688.20" stroke="#eeeeee" stroke-width="0.4"/>
<line x1="460.01" y1="634.40" x2="460.01" y2="688.20" stroke="#eeeeee" stroke-width="0.4"/>
<line x1="474.57" y1="634.40" x2="474.57" y2="688.20" stroke="#eeeeee" stroke-width="0.4"/>
<line x1="489.14" y1="634.40" x2="489.14" y2="688.20" stroke="#eeeeee" stroke-width="0.4"/>
<line x1="387.20" y1="672.30" x2="503.70" y2="672.30" stroke="#bdbdbd" stroke-width="0.7"/>
<clipPath id="cp7"><rect x="387.20" y="688.20" width="110.70" height="17.10"/></clipPath>
<g clip-path="url(#cp7)">
<line x1="387.50" y1="688.20" x2="387.50" y2="705.30" stroke="#464646" stroke-width="0.9"/>
<line x1="388.71" y1="688.20" x2="388.71" y2="705.30" stroke="#646464" stroke-width="1.2"/>
<line x1="389.40" y1="688.20" x2="389.40" y2="705.30" stroke="#0a0a0a" stroke-width="0.5"/>
<line x1="390.58" y1="688.20" x2="390.58" y2="705.30" stroke="#505050" stroke-width="0.9"/>
<line x1="391.67" y1="688.20" x2="391.67" y2="705.30" stroke="#6e6e6e" stroke-width="0.7"/>
<line x1="393.42" y1="688.20" x2="393.42" y2="705.30" stroke="#323232" stroke-width="1.2"/>
<line x1="394.51" y1="688.20" x2="394.51" y2="705.30" stroke="#8c8c8c" stroke-width="0.9"/>
<line x1="395.19" y1="688.20" x2="395.19" y2="705.30" stroke="#aaaaaa" stroke-width="1.2"/>
<line x1="396.38" y1="688.20" x2="396.38" y2="705.30" stroke="#aaaaaa" stroke-width="0.5"/>
<line x1="397.41" y1="688.20" x2="397.41" y2="705.30" stroke="#505050" stroke-width="1.2"/>
<line x1="398.30" y1="688.20" x2="398.30" y2="705.30" stroke="#505050" stroke-width="0.9"/>
<line x1="399.00" y1="688.20" x2="399.00" y2="705.30" stroke="#323232" stroke-width="0.5"/>
<line x1="399.73" y1="688.20" x2="399.73" y2="705.30" stroke="#323232" stroke-width="0.7"/>
<line x1="400.45" y1="688.20" x2="400.45" y2="705.30" stroke="#aaaaaa" stroke-width="0.9"/>
<line x1="402.50" y1="688.20" x2="402.50" y2="705.30" stroke="#505050" stroke-width="1.2"/>
<line x1="403.28" y1="688.20" x2="403.28" y2="705.30" stroke="#6e6e6e" stroke-width="0.7"/>
<line x1="405.12" y1="688.20" x2="405.12" y2="705.30" stroke="#505050" stroke-width="0.9"/>
<line x1="406.34" y1="688.20" x2="406.34" y2="705.30" stroke="#8c8c8c" stroke-width="1.2"/>
<line x1="407.05" y1="688.20" x2="407.05" y2="705.30" stroke="#787878" stroke-width="0.9"/>
<line x1="407.99" y1="688.20" x2="407.99" y2="705.30" stroke="#5a5a5a" stroke-width="0.5"/>
<line x1="408.93" y1="688.20" x2="408.93" y2="705.30" stroke="#aaaaaa" stroke-width="1.2"/>
<line x1="409.72" y1="688.20" x2="409.72" y2="705.30" stroke="#5a5a5a" stroke-width="1.2"/>
<line x1="410.49" y1="688.20" x2="410.49" y2="705.30" stroke="#000000" stroke-width="0.7"/>
<line x1="411.61" y1="688.20" x2="411.61" y2="705.30" stroke="#646464" stroke-width="0.9"/>
<line x1="412.85" y1="688.20" x2="412.85" y2="705.30" stroke="#464646" stroke-width="0.7"/>
<line x1="414.70" y1="688.20" x2="414.70" y2="705.30" stroke="#0a0a0a" stroke-width="0.7"/>
<line x1="419.09" y1="688.20" x2="419.09" y2="705.30" stroke="#aaaaaa" stroke-width="0.5"/>
<line x1="420.98" y1="688.20" x2="420.98" y2="705.30" stroke="#000000" stroke-width="0.7"/>
<line x1="422.09" y1="688.20" x2="422.09" y2="705.30" stroke="#323232" stroke-width="0.9"/>
<line x1="422.81" y1="688.20" x2="422.81" y2="705.30" stroke="#464646" stroke-width="0.5"/>
<line x1="423.44" y1="688.20" x2="423.44" y2="705.30" stroke="#1e1e1e" stroke-width="1.2"/>
<line x1="437.62" y1="688.20" x2="437.62" y2="705.30" stroke="#505050" stroke-width="0.7"/>
<line x1="438.70" y1="688.20" x2="438.70" y2="705.30" stroke="#141414" stroke-width="0.9"/>
<line x1="444.46" y1="688.20" x2="444.46" y2="705.30" stroke="#323232" stroke-width="0.9"/>
<line x1="446.82" y1="688.20" x2="446.82" y2="705.30" stroke="#323232" stroke-width="1.2"/>
<line x1="448.09" y1="688.20" x2="448.09" y2="705.30" stroke="#0a0a0a" stroke-width="0.5"/>
<line x1="450.62" y1="688.20" x2="450.62" y2="705.30" stroke="#000000" stroke-width="0.9"/>
<line x1="451.26" y1="688.20" x2="451.26" y2="705.30" stroke="#464646" stroke-width="1.2"/>
<line x1="452.13" y1="688.20" x2="452.13" y2="705.30" stroke="#1e1e1e" stroke-width="0.5"/>
<line x1="456.05" y1="688.20" x2="456.05" y2="705.30" stroke="#6e6e6e" stroke-width="0.9"/>
<line x1="456.66" y1="688.20" x2="456.66" y2="705.30" stroke="#141414" stroke-width="0.7"/>
<line x1="457.38" y1="688.20" x2="457.38" y2="705.30" stroke="#323232" stroke-width="1.2"/>
<line x1="458.39" y1="688.20" x2="458.39" y2="705.30" stroke="#323232" stroke-width="0.9"/>
<line x1="459.28" y1="688.20" x2="459.28" y2="705.30" stroke="#aaaaaa" stroke-width="0.7"/>
<line x1="460.54" y1="688.20" x2="460.54" y2="705.30" stroke="#141414" stroke-width="0.5"/>
<line x1="461.49" y1="688.20" x2="461.49" y2="705.30" stroke="#aaaaaa" stroke-width="0.9"/>
<line x1="462.33" y1="688.20" x2="462.33" y2="705.30" stroke="#6e6e6e" stroke-width="1.2"/>
<line x1="463.39" y1="688.20" x2="463.39" y2="705.30" stroke="#141414" stroke-width="0.7"/>
<line x1="464.44" y1="688.20" x2="464.44" y2="705.30" stroke="#141414" stroke-width="1.2"/>
<line x1="466.32" y1="688.20" x2="466.32" y2="705.30" stroke="#141414" stroke-width="0.5"/>
<line x1="467.18" y1="688.20" x2="467.18" y2="705.30" stroke="#aaaaaa" stroke-width="0.5"/>
<line x1="468.75" y1="688.20" x2="468.75" y2="705.30" stroke="#141414" stroke-width="0.5"/>
<line x1="469.83" y1="688.20" x2="469.83" y2="705.30" stroke="#aaaaaa" stroke-width="0.7"/>
<line x1="470.82" y1="688.20" x2="470.82" y2="705.30" stroke="#8c8c8c" stroke-width="0.9"/>
<line x1="473.00" y1="688.20" x2="473.00" y2="705.30" stroke="#141414" stroke-width="0.9"/>
<line x1="473.79" y1="688.20" x2="473.79" y2="705.30" stroke="#505050" stroke-width="0.7"/>
<line x1="475.08" y1="688.20" x2="475.08" y2="705.30" stroke="#bebebe" stroke-width="1.2"/>
<line x1="477.25" y1="688.20" x2="477.25" y2="705.30" stroke="#969696" stroke-width="0.7"/>
<line x1="478.33" y1="688.20" x2="478.33" y2="705.30" stroke="#464646" stroke-width="1.2"/>
<line x1="479.48" y1="688.20" x2="479.48" y2="705.30" stroke="#1e1e1e" stroke-width="0.7"/>
<line x1="481.35" y1="688.20" x2="481.35" y2="705.30" stroke="#0a0a0a" stroke-width="0.9"/>
<line x1="482.11" y1="688.20" x2="482.11" y2="705.30" stroke="#0a0a0a" stroke-width="0.9"/>
<line x1="483.67" y1="688.20" x2="483.67" y2="705.30" stroke="#323232" stroke-width="0.5"/>
<line x1="484.76" y1="688.20" x2="484.76" y2="705.30" stroke="#000000" stroke-width="0.9"/>
<line x1="485.51" y1="688.20" x2="485.51" y2="705.30" stroke="#646464" stroke-width="0.7"/>
<line x1="486.48" y1="688.20" x2="486.48" y2="705.30" stroke="#464646" stroke-width="0.7"/>
<line x1="487.19" y1="688.20" x2="487.19" y2="705.30" stroke="#323232" stroke-width="0.9"/>
<line x1="488.18" y1="688.20" x2="488.18" y2="705.30" stroke="#1e1e1e" stroke-width="0.5"/>
<line x1="492.43" y1="688.20" x2="492.43" y2="705.30" stroke="#000000" stroke-width="0.5"/>
<line x1="493.43" y1="688.20" x2="493.43" y2="705.30" stroke="#646464" stroke-width="1.2"/>
<line x1="494.56" y1="688.20" x2="494.56" y2="705.30" stroke="#323232" stroke-width="0.9"/>
<line x1="495.34" y1="688.20" x2="495.34" y2="705.30" stroke="#000000" stroke-width="0.7"/>
<line x1="496.06" y1="688.20" x2="496.06" y2="705.30" stroke="#0a0a0a" stroke-width="0.9"/>
</g>
<defs><linearGradient id="gs387634" x1="0" x2="1" y1="0" y2="0">
<stop offset="0" stop-color="#dc3e3e"/><stop offset="0.177" stop-color="#e44a50"/><stop offset="0.19" stop-color="#ec6672"/><stop offset="0.41" stop-color="#f08a94"/><stop offset="0.42" stop-color="#f4bcd8"/><stop offset="0.59" stop-color="#f0c8e4"/><stop offset="0.6" stop-color="#dad2f2"/><stop offset="0.77" stop-color="#c4bcee"/><stop offset="0.78" stop-color="#7468cc"/><stop offset="1" stop-color="#4034b0"/></linearGradient></defs>
<rect x="387.20" y="705.30" width="110.70" height="4.70" fill="url(#gs387634)"/>
<polyline points="387.50,672.03 387.59,671.12 387.68,670.14 387.76,669.65 387.85,668.46 387.94,667.65 388.02,666.72 388.11,666.05 388.20,664.75 388.27,663.96 388.33,663.65 388.40,662.43 388.47,661.72 388.53,660.93 388.60,659.84 388.67,659.09 388.73,658.64 388.80,657.81 388.87,656.96 388.93,655.81 389.00,654.82 389.10,654.04 389.20,653.34 389.30,652.56 389.40,651.55 389.50,650.95 389.60,650.00 389.70,649.31 389.80,648.63 389.90,647.71 390.00,647.24 390.21,646.48 390.43,645.53 390.64,644.80 390.86,643.79 391.07,642.67 391.29,642.05 391.50,640.86 392.33,640.47 393.17,639.96 394.00,639.57 394.83,639.16 395.67,639.12 396.50,638.41 397.70,638.39 398.90,638.74 399.93,638.95 400.97,638.70 402.00,638.49 403.10,639.12 404.20,639.58 405.15,639.91 406.10,639.97 407.05,640.70 408.00,640.74 408.84,640.93 409.68,641.19 410.51,641.95 411.35,641.99 412.19,641.85 413.02,642.58 413.86,642.63 414.70,642.85 415.58,643.42 416.47,643.83 417.35,644.21 418.23,644.49 419.12,645.16 420.00,645.77 420.83,646.41 421.67,647.08 422.50,647.37 423.33,647.49 424.17,648.51 425.00,648.56 425.83,649.07 426.67,649.63 427.50,649.98 428.33,650.74 429.17,650.88 430.00,651.23 430.83,651.66 431.67,652.79 432.50,653.18 433.33,653.31 434.17,654.26 435.00,654.23 435.83,654.56 436.67,655.39 437.50,655.85 438.33,656.15 439.17,656.97 440.00,657.52 440.83,658.12 441.67,658.38 442.50,658.73 443.33,659.30 444.17,660.06 445.00,660.43 445.83,661.00 446.67,660.97 447.50,661.46 448.33,662.52 449.17,662.45 450.00,663.26 450.83,663.82 451.67,664.35 452.50,664.60 453.33,665.07 454.17,665.83 455.00,666.28 455.83,666.89 456.67,667.10 457.50,667.34 458.33,667.93 459.17,668.52 460.00,669.35 460.83,669.31 461.67,670.03 462.50,670.23 463.33,670.90 464.17,671.44 465.00,672.00 465.83,672.48 466.67,673.29 467.50,673.27 468.33,673.88 469.17,674.36 470.00,674.95 470.83,675.30 471.67,675.70 472.50,676.50 473.33,676.83 474.17,677.61 475.00,677.88 475.83,678.54 476.67,678.52 477.50,678.91 478.33,679.32 479.17,680.15 480.00,680.54 480.86,680.82 481.71,681.08 482.57,681.85 483.43,682.09 484.29,682.88 485.14,683.36 486.00,683.85 486.98,684.17 487.95,684.28 488.92,685.08 489.90,685.48 490.93,684.78 491.97,684.93 493.00,684.31 493.64,683.28 494.28,682.98 494.92,681.63 495.56,681.27 496.20,680.60 496.37,679.45 496.54,678.41 496.71,677.84 496.88,676.77 497.05,676.10 497.22,675.47 497.39,674.26 497.56,673.41 497.73,672.69 497.90,671.90" fill="none" stroke="#7ac52e" stroke-width="1.1" stroke-linejoin="round"/>
<rect x="387.20" y="634.40" width="116.50" height="75.60" fill="none" stroke="#3a3a3a" stroke-width="0.9"/>
<line x1="387.20" y1="688.20" x2="503.70" y2="688.20" stroke="#888" stroke-width="0.5"/>
<line x1="385.60" y1="640.50" x2="387.20" y2="640.50" stroke="#231f20" stroke-width="0.6"/>
<text x="386.20" y="643.50" font-size="9.42" text-anchor="end" textLength="11.40" lengthAdjust="spacingAndGlyphs">0.4</text>
<line x1="385.60" y1="647.50" x2="387.20" y2="647.50" stroke="#231f20" stroke-width="0.6"/>
<text x="386.20" y="650.50" font-size="9.42" text-anchor="end" textLength="11.40" lengthAdjust="spacingAndGlyphs">0.3</text>
<line x1="385.60" y1="654.90" x2="387.20" y2="654.90" stroke="#231f20" stroke-width="0.6"/>
<text x="386.20" y="657.90" font-size="9.42" text-anchor="end" textLength="11.40" lengthAdjust="spacingAndGlyphs">0.2</text>
<line x1="385.60" y1="663.40" x2="387.20" y2="663.40" stroke="#231f20" stroke-width="0.6"/>
<text x="386.20" y="666.40" font-size="9.42" text-anchor="end" textLength="11.40" lengthAdjust="spacingAndGlyphs">0.1</text>
<line x1="385.60" y1="670.80" x2="387.20" y2="670.80" stroke="#231f20" stroke-width="0.6"/>
<text x="386.20" y="673.80" font-size="9.42" text-anchor="end" textLength="4.60" lengthAdjust="spacingAndGlyphs">0</text>
<line x1="385.60" y1="678.20" x2="387.20" y2="678.20" stroke="#231f20" stroke-width="0.6"/>
<text x="386.20" y="681.20" font-size="9.42" text-anchor="end" textLength="14.00" lengthAdjust="spacingAndGlyphs">-0.1</text>
<text x="445.50" y="630.00" font-size="10.7" text-anchor="middle" textLength="19.30" lengthAdjust="spacingAndGlyphs">EMT</text>
<text x="461.50" y="645.50" font-size="9.42" textLength="34.50" lengthAdjust="spacingAndGlyphs">NES=1.74</text>
<text x="461.50" y="656.20" font-size="9.42" textLength="26.00" lengthAdjust="spacingAndGlyphs"><tspan font-style="italic">P</tspan>=0.00</text>
<text x="461.50" y="666.80" font-size="9.42" textLength="42.10" lengthAdjust="spacingAndGlyphs">FDR=0.009</text>
<text x="393.00" y="650.00" font-size="8.99" textLength="13.20" lengthAdjust="spacingAndGlyphs">SCR</text>
<text x="465.10" y="679.20" font-size="8.99" textLength="28.90" lengthAdjust="spacingAndGlyphs"><tspan font-style="italic">DLX1</tspan>-KO</text>
<rect x="390.00" y="731.50" width="113.70" height="74.50" fill="#fff"/>
<line x1="404.21" y1="731.50" x2="404.21" y2="784.40" stroke="#eeeeee" stroke-width="0.4"/>
<line x1="418.43" y1="731.50" x2="418.43" y2="784.40" stroke="#eeeeee" stroke-width="0.4"/>
<line x1="432.64" y1="731.50" x2="432.64" y2="784.40" stroke="#eeeeee" stroke-width="0.4"/>
<line x1="446.85" y1="731.50" x2="446.85" y2="784.40" stroke="#eeeeee" stroke-width="0.4"/>
<line x1="461.06" y1="731.50" x2="461.06" y2="784.40" stroke="#eeeeee" stroke-width="0.4"/>
<line x1="475.27" y1="731.50" x2="475.27" y2="784.40" stroke="#eeeeee" stroke-width="0.4"/>
<line x1="489.49" y1="731.50" x2="489.49" y2="784.40" stroke="#eeeeee" stroke-width="0.4"/>
<line x1="390.00" y1="776.40" x2="503.70" y2="776.40" stroke="#bdbdbd" stroke-width="0.7"/>
<clipPath id="cp8"><rect x="390.00" y="784.40" width="107.90" height="17.00"/></clipPath>
<g clip-path="url(#cp8)">
<line x1="390.30" y1="784.40" x2="390.30" y2="801.40" stroke="#000000" stroke-width="1.2"/>
<line x1="391.46" y1="784.40" x2="391.46" y2="801.40" stroke="#1e1e1e" stroke-width="0.5"/>
<line x1="392.50" y1="784.40" x2="392.50" y2="801.40" stroke="#646464" stroke-width="0.9"/>
<line x1="393.78" y1="784.40" x2="393.78" y2="801.40" stroke="#0a0a0a" stroke-width="1.2"/>
<line x1="394.77" y1="784.40" x2="394.77" y2="801.40" stroke="#464646" stroke-width="1.2"/>
<line x1="395.58" y1="784.40" x2="395.58" y2="801.40" stroke="#323232" stroke-width="1.2"/>
<line x1="396.30" y1="784.40" x2="396.30" y2="801.40" stroke="#646464" stroke-width="1.2"/>
<line x1="396.93" y1="784.40" x2="396.93" y2="801.40" stroke="#1e1e1e" stroke-width="0.9"/>
<line x1="398.73" y1="784.40" x2="398.73" y2="801.40" stroke="#505050" stroke-width="0.5"/>
<line x1="400.16" y1="784.40" x2="400.16" y2="801.40" stroke="#141414" stroke-width="0.5"/>
<line x1="402.93" y1="784.40" x2="402.93" y2="801.40" stroke="#8c8c8c" stroke-width="0.7"/>
<line x1="404.82" y1="784.40" x2="404.82" y2="801.40" stroke="#505050" stroke-width="0.9"/>
<line x1="405.97" y1="784.40" x2="405.97" y2="801.40" stroke="#141414" stroke-width="1.2"/>
<line x1="408.69" y1="784.40" x2="408.69" y2="801.40" stroke="#464646" stroke-width="1.2"/>
<line x1="411.21" y1="784.40" x2="411.21" y2="801.40" stroke="#646464" stroke-width="1.2"/>
<line x1="412.33" y1="784.40" x2="412.33" y2="801.40" stroke="#464646" stroke-width="0.7"/>
<line x1="413.17" y1="784.40" x2="413.17" y2="801.40" stroke="#0a0a0a" stroke-width="0.7"/>
<line x1="414.37" y1="784.40" x2="414.37" y2="801.40" stroke="#323232" stroke-width="0.9"/>
<line x1="415.45" y1="784.40" x2="415.45" y2="801.40" stroke="#0a0a0a" stroke-width="0.7"/>
<line x1="416.52" y1="784.40" x2="416.52" y2="801.40" stroke="#464646" stroke-width="1.2"/>
<line x1="417.74" y1="784.40" x2="417.74" y2="801.40" stroke="#1e1e1e" stroke-width="0.5"/>
<line x1="418.37" y1="784.40" x2="418.37" y2="801.40" stroke="#000000" stroke-width="0.7"/>
<line x1="419.03" y1="784.40" x2="419.03" y2="801.40" stroke="#646464" stroke-width="0.7"/>
<line x1="419.96" y1="784.40" x2="419.96" y2="801.40" stroke="#000000" stroke-width="0.9"/>
<line x1="421.06" y1="784.40" x2="421.06" y2="801.40" stroke="#464646" stroke-width="0.7"/>
<line x1="422.74" y1="784.40" x2="422.74" y2="801.40" stroke="#141414" stroke-width="1.2"/>
<line x1="423.96" y1="784.40" x2="423.96" y2="801.40" stroke="#8c8c8c" stroke-width="0.9"/>
<line x1="424.69" y1="784.40" x2="424.69" y2="801.40" stroke="#505050" stroke-width="0.7"/>
<line x1="431.23" y1="784.40" x2="431.23" y2="801.40" stroke="#aaaaaa" stroke-width="0.7"/>
<line x1="432.50" y1="784.40" x2="432.50" y2="801.40" stroke="#323232" stroke-width="0.7"/>
<line x1="438.09" y1="784.40" x2="438.09" y2="801.40" stroke="#1e1e1e" stroke-width="0.9"/>
<line x1="442.20" y1="784.40" x2="442.20" y2="801.40" stroke="#000000" stroke-width="0.5"/>
<line x1="443.24" y1="784.40" x2="443.24" y2="801.40" stroke="#000000" stroke-width="1.2"/>
<line x1="445.32" y1="784.40" x2="445.32" y2="801.40" stroke="#323232" stroke-width="0.9"/>
<line x1="446.36" y1="784.40" x2="446.36" y2="801.40" stroke="#1e1e1e" stroke-width="0.7"/>
<line x1="448.11" y1="784.40" x2="448.11" y2="801.40" stroke="#464646" stroke-width="0.9"/>
<line x1="449.01" y1="784.40" x2="449.01" y2="801.40" stroke="#1e1e1e" stroke-width="1.2"/>
<line x1="450.00" y1="784.40" x2="450.00" y2="801.40" stroke="#000000" stroke-width="0.9"/>
<line x1="451.09" y1="784.40" x2="451.09" y2="801.40" stroke="#646464" stroke-width="0.7"/>
<line x1="452.09" y1="784.40" x2="452.09" y2="801.40" stroke="#000000" stroke-width="0.5"/>
<line x1="454.17" y1="784.40" x2="454.17" y2="801.40" stroke="#464646" stroke-width="0.9"/>
<line x1="455.29" y1="784.40" x2="455.29" y2="801.40" stroke="#141414" stroke-width="1.2"/>
<line x1="456.31" y1="784.40" x2="456.31" y2="801.40" stroke="#aaaaaa" stroke-width="0.9"/>
<line x1="458.09" y1="784.40" x2="458.09" y2="801.40" stroke="#141414" stroke-width="0.7"/>
<line x1="461.35" y1="784.40" x2="461.35" y2="801.40" stroke="#8c8c8c" stroke-width="0.5"/>
<line x1="461.96" y1="784.40" x2="461.96" y2="801.40" stroke="#505050" stroke-width="0.5"/>
<line x1="463.61" y1="784.40" x2="463.61" y2="801.40" stroke="#141414" stroke-width="0.5"/>
<line x1="464.40" y1="784.40" x2="464.40" y2="801.40" stroke="#aaaaaa" stroke-width="1.2"/>
<line x1="466.28" y1="784.40" x2="466.28" y2="801.40" stroke="#969696" stroke-width="1.2"/>
<line x1="468.21" y1="784.40" x2="468.21" y2="801.40" stroke="#bebebe" stroke-width="0.7"/>
<line x1="469.46" y1="784.40" x2="469.46" y2="801.40" stroke="#5a5a5a" stroke-width="0.7"/>
<line x1="470.43" y1="784.40" x2="470.43" y2="801.40" stroke="#aaaaaa" stroke-width="0.7"/>
<line x1="474.44" y1="784.40" x2="474.44" y2="801.40" stroke="#bebebe" stroke-width="0.5"/>
<line x1="476.09" y1="784.40" x2="476.09" y2="801.40" stroke="#969696" stroke-width="0.9"/>
<line x1="477.92" y1="784.40" x2="477.92" y2="801.40" stroke="#969696" stroke-width="0.7"/>
<line x1="478.93" y1="784.40" x2="478.93" y2="801.40" stroke="#787878" stroke-width="0.9"/>
<line x1="480.03" y1="784.40" x2="480.03" y2="801.40" stroke="#787878" stroke-width="1.2"/>
<line x1="481.87" y1="784.40" x2="481.87" y2="801.40" stroke="#aaaaaa" stroke-width="0.7"/>
<line x1="483.11" y1="784.40" x2="483.11" y2="801.40" stroke="#787878" stroke-width="1.2"/>
<line x1="487.34" y1="784.40" x2="487.34" y2="801.40" stroke="#787878" stroke-width="1.2"/>
<line x1="488.55" y1="784.40" x2="488.55" y2="801.40" stroke="#5a5a5a" stroke-width="1.2"/>
<line x1="489.75" y1="784.40" x2="489.75" y2="801.40" stroke="#6e6e6e" stroke-width="0.7"/>
<line x1="491.84" y1="784.40" x2="491.84" y2="801.40" stroke="#141414" stroke-width="0.7"/>
<line x1="492.71" y1="784.40" x2="492.71" y2="801.40" stroke="#6e6e6e" stroke-width="0.9"/>
<line x1="494.87" y1="784.40" x2="494.87" y2="801.40" stroke="#323232" stroke-width="0.5"/>
<line x1="496.13" y1="784.40" x2="496.13" y2="801.40" stroke="#505050" stroke-width="0.5"/>
<line x1="497.66" y1="784.40" x2="497.66" y2="801.40" stroke="#505050" stroke-width="0.5"/>
</g>
<defs><linearGradient id="gs390731" x1="0" x2="1" y1="0" y2="0">
<stop offset="0" stop-color="#dc3e3e"/><stop offset="0.177" stop-color="#e44a50"/><stop offset="0.19" stop-color="#ec6672"/><stop offset="0.41" stop-color="#f08a94"/><stop offset="0.42" stop-color="#f4bcd8"/><stop offset="0.59" stop-color="#f0c8e4"/><stop offset="0.6" stop-color="#dad2f2"/><stop offset="0.77" stop-color="#c4bcee"/><stop offset="0.78" stop-color="#7468cc"/><stop offset="1" stop-color="#4034b0"/></linearGradient></defs>
<rect x="390.00" y="801.40" width="107.90" height="4.60" fill="url(#gs390731)"/>
<polyline points="390.50,772.97 390.61,772.43 390.72,771.47 390.83,770.67 390.94,769.86 391.06,769.34 391.17,768.30 391.28,767.35 391.39,766.49 391.50,766.11 391.60,765.19 391.70,764.48 391.80,763.53 391.90,762.67 392.00,761.59 392.10,760.87 392.20,760.37 392.30,759.18 392.40,758.84 392.50,757.62 392.60,757.23 392.70,755.91 392.80,755.12 392.90,754.59 393.00,753.79 393.10,752.71 393.20,752.00 393.30,751.11 393.40,750.70 393.50,749.49 393.60,748.71 393.81,747.87 394.02,746.99 394.23,746.37 394.44,745.68 394.65,744.54 394.86,743.98 395.07,743.09 395.28,742.03 395.49,741.18 395.70,740.40 396.09,739.79 396.47,738.68 396.86,738.08 397.24,737.17 397.63,736.17 398.01,735.23 398.40,734.28 399.27,734.93 400.13,735.11 401.00,735.33 402.05,736.00 403.10,736.46 403.93,735.73 404.77,735.72 405.60,735.38 406.53,735.82 407.47,736.67 408.40,736.97 409.24,736.57 410.08,736.25 410.92,735.88 411.76,735.77 412.60,735.63 413.46,736.11 414.32,735.91 415.18,736.24 416.04,736.92 416.90,737.23 417.93,737.30 418.97,737.40 420.00,737.34 420.88,737.75 421.75,738.40 422.62,738.78 423.50,739.23 424.38,739.88 425.25,740.37 426.12,741.22 427.00,742.06 427.88,742.30 428.76,742.68 429.63,743.61 430.51,744.00 431.39,744.46 432.27,745.42 433.14,745.97 434.02,746.35 434.90,746.54 435.73,747.18 436.55,748.22 437.38,749.07 438.21,749.53 439.04,749.85 439.86,750.81 440.69,751.22 441.52,751.97 442.35,753.00 443.17,753.33 444.00,754.00 444.82,754.48 445.65,755.05 446.48,755.92 447.30,756.77 448.12,757.55 448.95,757.72 449.77,758.53 450.60,759.65 451.42,760.05 452.25,760.35 453.07,761.18 453.90,761.97 454.71,762.37 455.52,763.04 456.33,764.23 457.14,764.50 457.95,765.15 458.76,765.90 459.57,766.65 460.38,767.37 461.19,767.91 462.00,768.28 462.80,768.68 463.60,769.30 464.40,769.88 465.20,770.94 466.00,771.41 466.80,771.98 467.60,772.33 468.40,772.79 469.20,773.80 470.00,774.41 470.80,774.60 471.69,775.34 472.57,775.25 473.46,775.99 474.34,776.54 475.23,776.83 476.11,777.08 477.00,777.33 477.81,777.74 478.62,777.78 479.44,778.35 480.25,778.70 481.06,778.69 481.88,778.95 482.69,779.20 483.50,779.76 484.41,779.55 485.33,780.30 486.24,780.23 487.16,780.66 488.07,781.19 488.99,781.09 489.90,781.44 490.95,781.10 492.00,781.34 492.52,780.01 493.04,778.82 493.56,778.22 494.08,777.31 494.60,776.12 495.50,776.09 496.40,775.46 497.30,774.96 498.80,776.40" fill="none" stroke="#7ac52e" stroke-width="1.1" stroke-linejoin="round"/>
<rect x="390.00" y="731.50" width="113.70" height="74.50" fill="none" stroke="#3a3a3a" stroke-width="0.9"/>
<line x1="390.00" y1="784.40" x2="503.70" y2="784.40" stroke="#888" stroke-width="0.5"/>
<line x1="388.40" y1="735.50" x2="390.00" y2="735.50" stroke="#231f20" stroke-width="0.6"/>
<text x="389.00" y="738.50" font-size="9.42" text-anchor="end" textLength="16.00" lengthAdjust="spacingAndGlyphs">0.45</text>
<line x1="388.40" y1="743.60" x2="390.00" y2="743.60" stroke="#231f20" stroke-width="0.6"/>
<text x="389.00" y="746.60" font-size="9.42" text-anchor="end" textLength="16.00" lengthAdjust="spacingAndGlyphs">0.35</text>
<line x1="388.40" y1="753.50" x2="390.00" y2="753.50" stroke="#231f20" stroke-width="0.6"/>
<text x="389.00" y="756.50" font-size="9.42" text-anchor="end" textLength="16.00" lengthAdjust="spacingAndGlyphs">0.25</text>
<line x1="388.40" y1="762.00" x2="390.00" y2="762.00" stroke="#231f20" stroke-width="0.6"/>
<text x="389.00" y="765.00" font-size="9.42" text-anchor="end" textLength="16.00" lengthAdjust="spacingAndGlyphs">0.15</text>
<line x1="388.40" y1="771.10" x2="390.00" y2="771.10" stroke="#231f20" stroke-width="0.6"/>
<text x="389.00" y="774.10" font-size="9.42" text-anchor="end" textLength="16.00" lengthAdjust="spacingAndGlyphs">0.05</text>
<line x1="388.40" y1="781.00" x2="390.00" y2="781.00" stroke="#231f20" stroke-width="0.6"/>
<text x="389.00" y="784.00" font-size="9.42" text-anchor="end" textLength="18.60" lengthAdjust="spacingAndGlyphs">-0.05</text>
<text x="446.70" y="728.00" font-size="10.7" text-anchor="middle" textLength="61.00" lengthAdjust="spacingAndGlyphs">Wnt Signalling</text>
<text x="459.20" y="743.50" font-size="9.42" textLength="41.30" lengthAdjust="spacingAndGlyphs">NES=1.736</text>
<text x="459.20" y="753.70" font-size="9.42" textLength="26.00" lengthAdjust="spacingAndGlyphs"><tspan font-style="italic">P</tspan>=0.00</text>
<text x="459.20" y="763.60" font-size="9.42" textLength="37.00" lengthAdjust="spacingAndGlyphs">FDR=0.04</text>
<text x="397.80" y="747.70" font-size="8.99" textLength="13.30" lengthAdjust="spacingAndGlyphs">SCR</text>
<text x="473.40" y="774.80" font-size="8.99" textLength="28.10" lengthAdjust="spacingAndGlyphs"><tspan font-style="italic">DLX1</tspan>-KO</text>
<text x="532.50" y="401.00" font-size="16.91" font-weight="bold" fill="#000">m</text>
<text x="541.50" y="413.00" font-size="10.7" textLength="26.10" lengthAdjust="spacingAndGlyphs">22RV1</text>
<text x="577.80" y="416.60" font-size="10.49" textLength="34.90" lengthAdjust="spacingAndGlyphs"><tspan font-style="italic">DLX1</tspan>-KO</text>
<line x1="556.60" y1="418.60" x2="622.50" y2="418.60" stroke="#231f20" stroke-width="1.0"/>
<text x="563.40" y="431.30" font-size="10.49" text-anchor="middle" textLength="13.90" lengthAdjust="spacingAndGlyphs">C-1</text>
<text x="587.90" y="431.30" font-size="10.49" text-anchor="middle" textLength="13.90" lengthAdjust="spacingAndGlyphs">C-2</text>
<text x="615.70" y="431.30" font-size="10.49" text-anchor="middle" textLength="13.90" lengthAdjust="spacingAndGlyphs">C-3</text>
<text x="651.30" y="395.90" font-size="7.28" text-anchor="middle" textLength="23.80" lengthAdjust="spacingAndGlyphs">Log<tspan font-size="4.8" dy="1.2">2</tspan><tspan dy="-1.2"> FC</tspan></text>
<defs><linearGradient id="lfc" x1="0" x2="1" y1="0" y2="0">
<stop offset="0" stop-color="#2f2a7e"/><stop offset="0.2" stop-color="#33298c"/><stop offset="0.42" stop-color="#3c2fa2"/><stop offset="0.44" stop-color="#4538a8"/><stop offset="0.5" stop-color="#6a6660"/><stop offset="0.56" stop-color="#c8c010"/><stop offset="0.62" stop-color="#eadf00"/><stop offset="0.7" stop-color="#ddd400"/><stop offset="1" stop-color="#a09a22"/></linearGradient></defs>
<rect x="628.3" y="398.6" width="45.6" height="11.8" fill="url(#lfc)" stroke="#555" stroke-width="0.5"/>
<line x1="637.30" y1="410.40" x2="637.30" y2="411.80" stroke="#231f20" stroke-width="0.6"/>
<line x1="650.80" y1="410.40" x2="650.80" y2="411.80" stroke="#231f20" stroke-width="0.6"/>
<line x1="665.10" y1="410.40" x2="665.10" y2="411.80" stroke="#231f20" stroke-width="0.6"/>
<text x="640.10" y="419.60" font-size="9.63" text-anchor="end" textLength="9.80" lengthAdjust="spacingAndGlyphs">−5</text>
<text x="650.70" y="419.60" font-size="9.63" text-anchor="middle" textLength="4.50" lengthAdjust="spacingAndGlyphs">0</text>
<text x="665.00" y="419.60" font-size="9.63" text-anchor="middle" textLength="4.50" lengthAdjust="spacingAndGlyphs">5</text>
<rect x="550.20" y="435.20" width="26.30" height="7.12" fill="#302a7e"/>
<rect x="576.50" y="435.20" width="26.70" height="7.12" fill="#302a7e"/>
<rect x="603.20" y="435.20" width="26.60" height="7.12" fill="#302a7e"/>
<rect x="550.20" y="442.32" width="26.30" height="7.12" fill="#4234a4"/>
<rect x="576.50" y="442.32" width="26.70" height="7.12" fill="#36299a"/>
<rect x="603.20" y="442.32" width="26.60" height="7.12" fill="#36299a"/>
<rect x="550.20" y="449.44" width="26.30" height="7.12" fill="#4234a4"/>
<rect x="576.50" y="449.44" width="26.70" height="7.12" fill="#36299a"/>
<rect x="603.20" y="449.44" width="26.60" height="7.12" fill="#36299a"/>
<rect x="550.20" y="456.56" width="26.30" height="7.12" fill="#514789"/>
<rect x="576.50" y="456.56" width="26.70" height="7.12" fill="#4234a4"/>
<rect x="603.20" y="456.56" width="26.60" height="7.12" fill="#36299a"/>
<rect x="550.20" y="463.68" width="26.30" height="7.12" fill="#36299a"/>
<rect x="576.50" y="463.68" width="26.70" height="7.12" fill="#514789"/>
<rect x="603.20" y="463.68" width="26.60" height="7.12" fill="#36299a"/>
<rect x="550.20" y="470.80" width="26.30" height="7.12" fill="#4234a4"/>
<rect x="576.50" y="470.80" width="26.70" height="7.12" fill="#4234a4"/>
<rect x="603.20" y="470.80" width="26.60" height="7.12" fill="#4234a4"/>
<rect x="550.20" y="477.92" width="26.30" height="7.12" fill="#4234a4"/>
<rect x="576.50" y="477.92" width="26.70" height="7.12" fill="#4234a4"/>
<rect x="603.20" y="477.92" width="26.60" height="7.12" fill="#4234a4"/>
<rect x="550.20" y="485.04" width="26.30" height="7.12" fill="#625e68"/>
<rect x="576.50" y="485.04" width="26.70" height="7.12" fill="#4234a4"/>
<rect x="603.20" y="485.04" width="26.60" height="7.12" fill="#4234a4"/>
<rect x="550.20" y="492.16" width="26.30" height="7.12" fill="#625e68"/>
<rect x="576.50" y="492.16" width="26.70" height="7.12" fill="#86814f"/>
<rect x="603.20" y="492.16" width="26.60" height="7.12" fill="#4234a4"/>
<rect x="550.20" y="499.28" width="26.30" height="7.12" fill="#4234a4"/>
<rect x="576.50" y="499.28" width="26.70" height="7.12" fill="#4234a4"/>
<rect x="603.20" y="499.28" width="26.60" height="7.12" fill="#4234a4"/>
<rect x="550.20" y="506.40" width="26.30" height="7.12" fill="#4234a4"/>
<rect x="576.50" y="506.40" width="26.70" height="7.12" fill="#514789"/>
<rect x="603.20" y="506.40" width="26.60" height="7.12" fill="#4234a4"/>
<rect x="550.20" y="513.52" width="26.30" height="7.12" fill="#625e68"/>
<rect x="576.50" y="513.52" width="26.70" height="7.12" fill="#514789"/>
<rect x="603.20" y="513.52" width="26.60" height="7.12" fill="#4234a4"/>
<rect x="550.20" y="520.64" width="26.30" height="7.12" fill="#514789"/>
<rect x="576.50" y="520.64" width="26.70" height="7.12" fill="#4234a4"/>
<rect x="603.20" y="520.64" width="26.60" height="7.12" fill="#4234a4"/>
<rect x="550.20" y="527.76" width="26.30" height="7.12" fill="#514789"/>
<rect x="576.50" y="527.76" width="26.70" height="7.12" fill="#514789"/>
<rect x="603.20" y="527.76" width="26.60" height="7.12" fill="#4234a4"/>
<rect x="550.20" y="534.88" width="26.30" height="7.12" fill="#4234a4"/>
<rect x="576.50" y="534.88" width="26.70" height="7.12" fill="#625e68"/>
<rect x="603.20" y="534.88" width="26.60" height="7.12" fill="#4234a4"/>
<rect x="550.20" y="542.00" width="26.30" height="7.12" fill="#5a5475"/>
<rect x="576.50" y="542.00" width="26.70" height="7.12" fill="#4234a4"/>
<rect x="603.20" y="542.00" width="26.60" height="7.12" fill="#4234a4"/>
<rect x="550.20" y="549.12" width="26.30" height="7.12" fill="#625e68"/>
<rect x="576.50" y="549.12" width="26.70" height="7.12" fill="#5a5475"/>
<rect x="603.20" y="549.12" width="26.60" height="7.12" fill="#514789"/>
<rect x="550.20" y="556.24" width="26.30" height="7.12" fill="#625e68"/>
<rect x="576.50" y="556.24" width="26.70" height="7.12" fill="#514789"/>
<rect x="603.20" y="556.24" width="26.60" height="7.12" fill="#514789"/>
<rect x="550.20" y="563.36" width="26.30" height="7.12" fill="#4a3ea6"/>
<rect x="576.50" y="563.36" width="26.70" height="7.12" fill="#514789"/>
<rect x="603.20" y="563.36" width="26.60" height="7.12" fill="#514789"/>
<rect x="550.20" y="570.48" width="26.30" height="7.12" fill="#5a5475"/>
<rect x="576.50" y="570.48" width="26.70" height="7.12" fill="#4234a4"/>
<rect x="603.20" y="570.48" width="26.60" height="7.12" fill="#5a5475"/>
<rect x="550.20" y="577.60" width="26.30" height="7.12" fill="#5a5475"/>
<rect x="576.50" y="577.60" width="26.70" height="7.12" fill="#5a5475"/>
<rect x="603.20" y="577.60" width="26.60" height="7.12" fill="#5a5475"/>
<rect x="550.20" y="584.72" width="26.30" height="7.12" fill="#5a5475"/>
<rect x="576.50" y="584.72" width="26.70" height="7.12" fill="#625e68"/>
<rect x="603.20" y="584.72" width="26.60" height="7.12" fill="#5a5475"/>
<rect x="550.20" y="591.84" width="26.30" height="7.12" fill="#5a5475"/>
<rect x="576.50" y="591.84" width="26.70" height="7.12" fill="#5a5475"/>
<rect x="603.20" y="591.84" width="26.60" height="7.12" fill="#5a5475"/>
<rect x="550.20" y="598.96" width="26.30" height="7.12" fill="#6e6c5a"/>
<rect x="576.50" y="598.96" width="26.70" height="7.12" fill="#4234a4"/>
<rect x="603.20" y="598.96" width="26.60" height="7.12" fill="#625e68"/>
<rect x="550.20" y="606.08" width="26.30" height="7.12" fill="#5a5475"/>
<rect x="576.50" y="606.08" width="26.70" height="7.12" fill="#514789"/>
<rect x="603.20" y="606.08" width="26.60" height="7.12" fill="#625e68"/>
<rect x="550.20" y="613.20" width="26.30" height="7.12" fill="#6e6c5a"/>
<rect x="576.50" y="613.20" width="26.70" height="7.12" fill="#625e68"/>
<rect x="603.20" y="613.20" width="26.60" height="7.12" fill="#625e68"/>
<rect x="550.20" y="620.32" width="26.30" height="7.12" fill="#9c9640"/>
<rect x="576.50" y="620.32" width="26.70" height="7.12" fill="#4234a4"/>
<rect x="603.20" y="620.32" width="26.60" height="7.12" fill="#625e68"/>
<rect x="550.20" y="627.44" width="26.30" height="7.12" fill="#302a7e"/>
<rect x="576.50" y="627.44" width="26.70" height="7.12" fill="#302a7e"/>
<rect x="603.20" y="627.44" width="26.60" height="7.12" fill="#302a7e"/>
<rect x="550.20" y="634.56" width="26.30" height="7.12" fill="#302a7e"/>
<rect x="576.50" y="634.56" width="26.70" height="7.12" fill="#302a7e"/>
<rect x="603.20" y="634.56" width="26.60" height="7.12" fill="#302a7e"/>
<rect x="550.20" y="641.68" width="26.30" height="7.12" fill="#625e68"/>
<rect x="576.50" y="641.68" width="26.70" height="7.12" fill="#36299a"/>
<rect x="603.20" y="641.68" width="26.60" height="7.12" fill="#302a7e"/>
<rect x="550.20" y="648.80" width="26.30" height="7.12" fill="#4234a4"/>
<rect x="576.50" y="648.80" width="26.70" height="7.12" fill="#4234a4"/>
<rect x="603.20" y="648.80" width="26.60" height="7.12" fill="#36299a"/>
<rect x="550.20" y="655.92" width="26.30" height="7.12" fill="#4234a4"/>
<rect x="576.50" y="655.92" width="26.70" height="7.12" fill="#4a3ea6"/>
<rect x="603.20" y="655.92" width="26.60" height="7.12" fill="#36299a"/>
<rect x="550.20" y="663.04" width="26.30" height="7.12" fill="#4234a4"/>
<rect x="576.50" y="663.04" width="26.70" height="7.12" fill="#36299a"/>
<rect x="603.20" y="663.04" width="26.60" height="7.12" fill="#36299a"/>
<rect x="550.20" y="670.16" width="26.30" height="7.12" fill="#4234a4"/>
<rect x="576.50" y="670.16" width="26.70" height="7.12" fill="#36299a"/>
<rect x="603.20" y="670.16" width="26.60" height="7.12" fill="#36299a"/>
<rect x="550.20" y="677.28" width="26.30" height="7.12" fill="#4234a4"/>
<rect x="576.50" y="677.28" width="26.70" height="7.12" fill="#36299a"/>
<rect x="603.20" y="677.28" width="26.60" height="7.12" fill="#36299a"/>
<rect x="550.20" y="684.40" width="26.30" height="7.12" fill="#625e68"/>
<rect x="576.50" y="684.40" width="26.70" height="7.12" fill="#4a3ea6"/>
<rect x="603.20" y="684.40" width="26.60" height="7.12" fill="#36299a"/>
<rect x="550.20" y="691.52" width="26.30" height="7.12" fill="#4234a4"/>
<rect x="576.50" y="691.52" width="26.70" height="7.12" fill="#36299a"/>
<rect x="603.20" y="691.52" width="26.60" height="7.12" fill="#36299a"/>
<rect x="550.20" y="698.64" width="26.30" height="7.12" fill="#6e6c5a"/>
<rect x="576.50" y="698.64" width="26.70" height="7.12" fill="#4234a4"/>
<rect x="603.20" y="698.64" width="26.60" height="7.12" fill="#4234a4"/>
<rect x="550.20" y="705.76" width="26.30" height="7.12" fill="#5a5475"/>
<rect x="576.50" y="705.76" width="26.70" height="7.12" fill="#4234a4"/>
<rect x="603.20" y="705.76" width="26.60" height="7.12" fill="#4a3ea6"/>
<rect x="550.20" y="712.88" width="26.30" height="7.12" fill="#5a5475"/>
<rect x="576.50" y="712.88" width="26.70" height="7.12" fill="#625e68"/>
<rect x="603.20" y="712.88" width="26.60" height="7.12" fill="#4a3ea6"/>
<rect x="550.20" y="720.00" width="26.30" height="7.12" fill="#6e6c5a"/>
<rect x="576.50" y="720.00" width="26.70" height="7.12" fill="#4234a4"/>
<rect x="603.20" y="720.00" width="26.60" height="7.12" fill="#4a3ea6"/>
<rect x="550.20" y="727.12" width="26.30" height="7.12" fill="#5a5475"/>
<rect x="576.50" y="727.12" width="26.70" height="7.12" fill="#5a5475"/>
<rect x="603.20" y="727.12" width="26.60" height="7.12" fill="#4a3ea6"/>
<rect x="550.20" y="734.24" width="26.30" height="7.12" fill="#5a5475"/>
<rect x="576.50" y="734.24" width="26.70" height="7.12" fill="#4a3ea6"/>
<rect x="603.20" y="734.24" width="26.60" height="7.12" fill="#4234a4"/>
<rect x="550.20" y="741.36" width="26.30" height="7.12" fill="#4234a4"/>
<rect x="576.50" y="741.36" width="26.70" height="7.12" fill="#4a3ea6"/>
<rect x="603.20" y="741.36" width="26.60" height="7.12" fill="#4234a4"/>
<rect x="550.20" y="748.48" width="26.30" height="7.12" fill="#625e68"/>
<rect x="576.50" y="748.48" width="26.70" height="7.12" fill="#4234a4"/>
<rect x="603.20" y="748.48" width="26.60" height="7.12" fill="#4234a4"/>
<rect x="550.20" y="755.60" width="26.30" height="7.12" fill="#514789"/>
<rect x="576.50" y="755.60" width="26.70" height="7.12" fill="#4a3ea6"/>
<rect x="603.20" y="755.60" width="26.60" height="7.12" fill="#4234a4"/>
<rect x="550.20" y="762.72" width="26.30" height="7.12" fill="#4234a4"/>
<rect x="576.50" y="762.72" width="26.70" height="7.12" fill="#625e68"/>
<rect x="603.20" y="762.72" width="26.60" height="7.12" fill="#4234a4"/>
<rect x="550.20" y="769.84" width="26.30" height="7.12" fill="#4234a4"/>
<rect x="576.50" y="769.84" width="26.70" height="7.12" fill="#5a5475"/>
<rect x="603.20" y="769.84" width="26.60" height="7.12" fill="#4234a4"/>
<rect x="550.20" y="776.96" width="26.30" height="7.12" fill="#4a3ea6"/>
<rect x="576.50" y="776.96" width="26.70" height="7.12" fill="#4a3ea6"/>
<rect x="603.20" y="776.96" width="26.60" height="7.12" fill="#4234a4"/>
<rect x="550.20" y="784.08" width="26.30" height="7.12" fill="#5a5475"/>
<rect x="576.50" y="784.08" width="26.70" height="7.12" fill="#4234a4"/>
<rect x="603.20" y="784.08" width="26.60" height="7.12" fill="#4234a4"/>
<rect x="550.20" y="791.20" width="26.30" height="7.12" fill="#625e68"/>
<rect x="576.50" y="791.20" width="26.70" height="7.12" fill="#514789"/>
<rect x="603.20" y="791.20" width="26.60" height="7.12" fill="#4234a4"/>
<rect x="550.20" y="798.32" width="26.30" height="7.12" fill="#d8ca0c"/>
<rect x="576.50" y="798.32" width="26.70" height="7.12" fill="#4234a4"/>
<rect x="603.20" y="798.32" width="26.60" height="7.12" fill="#4234a4"/>
<rect x="550.20" y="805.44" width="26.30" height="7.12" fill="#514789"/>
<rect x="576.50" y="805.44" width="26.70" height="7.12" fill="#4a3ea6"/>
<rect x="603.20" y="805.44" width="26.60" height="7.12" fill="#4234a4"/>
<rect x="550.20" y="812.56" width="26.30" height="7.12" fill="#4234a4"/>
<rect x="576.50" y="812.56" width="26.70" height="7.12" fill="#4234a4"/>
<rect x="603.20" y="812.56" width="26.60" height="7.12" fill="#4234a4"/>
<line x1="550.20" y1="435.20" x2="629.80" y2="435.20" stroke="#2c2850" stroke-width="0.4"/>
<line x1="550.20" y1="442.32" x2="629.80" y2="442.32" stroke="#2c2850" stroke-width="0.4"/>
<line x1="550.20" y1="449.44" x2="629.80" y2="449.44" stroke="#2c2850" stroke-width="0.4"/>
<line x1="550.20" y1="456.56" x2="629.80" y2="456.56" stroke="#2c2850" stroke-width="0.4"/>
<line x1="550.20" y1="463.68" x2="629.80" y2="463.68" stroke="#2c2850" stroke-width="0.4"/>
<line x1="550.20" y1="470.80" x2="629.80" y2="470.80" stroke="#2c2850" stroke-width="0.4"/>
<line x1="550.20" y1="477.92" x2="629.80" y2="477.92" stroke="#2c2850" stroke-width="0.4"/>
<line x1="550.20" y1="485.04" x2="629.80" y2="485.04" stroke="#2c2850" stroke-width="0.4"/>
<line x1="550.20" y1="492.16" x2="629.80" y2="492.16" stroke="#2c2850" stroke-width="0.4"/>
<line x1="550.20" y1="499.28" x2="629.80" y2="499.28" stroke="#2c2850" stroke-width="0.4"/>
<line x1="550.20" y1="506.40" x2="629.80" y2="506.40" stroke="#2c2850" stroke-width="0.4"/>
<line x1="550.20" y1="513.52" x2="629.80" y2="513.52" stroke="#2c2850" stroke-width="0.4"/>
<line x1="550.20" y1="520.64" x2="629.80" y2="520.64" stroke="#2c2850" stroke-width="0.4"/>
<line x1="550.20" y1="527.76" x2="629.80" y2="527.76" stroke="#2c2850" stroke-width="0.4"/>
<line x1="550.20" y1="534.88" x2="629.80" y2="534.88" stroke="#2c2850" stroke-width="0.4"/>
<line x1="550.20" y1="542.00" x2="629.80" y2="542.00" stroke="#2c2850" stroke-width="0.4"/>
<line x1="550.20" y1="549.12" x2="629.80" y2="549.12" stroke="#2c2850" stroke-width="0.4"/>
<line x1="550.20" y1="556.24" x2="629.80" y2="556.24" stroke="#2c2850" stroke-width="0.4"/>
<line x1="550.20" y1="563.36" x2="629.80" y2="563.36" stroke="#2c2850" stroke-width="0.4"/>
<line x1="550.20" y1="570.48" x2="629.80" y2="570.48" stroke="#2c2850" stroke-width="0.4"/>
<line x1="550.20" y1="577.60" x2="629.80" y2="577.60" stroke="#2c2850" stroke-width="0.4"/>
<line x1="550.20" y1="584.72" x2="629.80" y2="584.72" stroke="#2c2850" stroke-width="0.4"/>
<line x1="550.20" y1="591.84" x2="629.80" y2="591.84" stroke="#2c2850" stroke-width="0.4"/>
<line x1="550.20" y1="598.96" x2="629.80" y2="598.96" stroke="#2c2850" stroke-width="0.4"/>
<line x1="550.20" y1="606.08" x2="629.80" y2="606.08" stroke="#2c2850" stroke-width="0.4"/>
<line x1="550.20" y1="613.20" x2="629.80" y2="613.20" stroke="#2c2850" stroke-width="0.4"/>
<line x1="550.20" y1="620.32" x2="629.80" y2="620.32" stroke="#2c2850" stroke-width="0.4"/>
<line x1="550.20" y1="627.44" x2="629.80" y2="627.44" stroke="#2c2850" stroke-width="0.4"/>
<line x1="550.20" y1="634.56" x2="629.80" y2="634.56" stroke="#2c2850" stroke-width="0.4"/>
<line x1="550.20" y1="641.68" x2="629.80" y2="641.68" stroke="#2c2850" stroke-width="0.4"/>
<line x1="550.20" y1="648.80" x2="629.80" y2="648.80" stroke="#2c2850" stroke-width="0.4"/>
<line x1="550.20" y1="655.92" x2="629.80" y2="655.92" stroke="#2c2850" stroke-width="0.4"/>
<line x1="550.20" y1="663.04" x2="629.80" y2="663.04" stroke="#2c2850" stroke-width="0.4"/>
<line x1="550.20" y1="670.16" x2="629.80" y2="670.16" stroke="#2c2850" stroke-width="0.4"/>
<line x1="550.20" y1="677.28" x2="629.80" y2="677.28" stroke="#2c2850" stroke-width="0.4"/>
<line x1="550.20" y1="684.40" x2="629.80" y2="684.40" stroke="#2c2850" stroke-width="0.4"/>
<line x1="550.20" y1="691.52" x2="629.80" y2="691.52" stroke="#2c2850" stroke-width="0.4"/>
<line x1="550.20" y1="698.64" x2="629.80" y2="698.64" stroke="#2c2850" stroke-width="0.4"/>
<line x1="550.20" y1="705.76" x2="629.80" y2="705.76" stroke="#2c2850" stroke-width="0.4"/>
<line x1="550.20" y1="712.88" x2="629.80" y2="712.88" stroke="#2c2850" stroke-width="0.4"/>
<line x1="550.20" y1="720.00" x2="629.80" y2="720.00" stroke="#2c2850" stroke-width="0.4"/>
<line x1="550.20" y1="727.12" x2="629.80" y2="727.12" stroke="#2c2850" stroke-width="0.4"/>
<line x1="550.20" y1="734.24" x2="629.80" y2="734.24" stroke="#2c2850" stroke-width="0.4"/>
<line x1="550.20" y1="741.36" x2="629.80" y2="741.36" stroke="#2c2850" stroke-width="0.4"/>
<line x1="550.20" y1="748.48" x2="629.80" y2="748.48" stroke="#2c2850" stroke-width="0.4"/>
<line x1="550.20" y1="755.60" x2="629.80" y2="755.60" stroke="#2c2850" stroke-width="0.4"/>
<line x1="550.20" y1="762.72" x2="629.80" y2="762.72" stroke="#2c2850" stroke-width="0.4"/>
<line x1="550.20" y1="769.84" x2="629.80" y2="769.84" stroke="#2c2850" stroke-width="0.4"/>
<line x1="550.20" y1="776.96" x2="629.80" y2="776.96" stroke="#2c2850" stroke-width="0.4"/>
<line x1="550.20" y1="784.08" x2="629.80" y2="784.08" stroke="#2c2850" stroke-width="0.4"/>
<line x1="550.20" y1="791.20" x2="629.80" y2="791.20" stroke="#2c2850" stroke-width="0.4"/>
<line x1="550.20" y1="798.32" x2="629.80" y2="798.32" stroke="#2c2850" stroke-width="0.4"/>
<line x1="550.20" y1="805.44" x2="629.80" y2="805.44" stroke="#2c2850" stroke-width="0.4"/>
<line x1="550.20" y1="812.56" x2="629.80" y2="812.56" stroke="#2c2850" stroke-width="0.4"/>
<line x1="550.20" y1="819.68" x2="629.80" y2="819.68" stroke="#2c2850" stroke-width="0.4"/>
<line x1="550.20" y1="435.20" x2="550.20" y2="819.68" stroke="#2c2850" stroke-width="0.45"/>
<line x1="576.50" y1="435.20" x2="576.50" y2="819.68" stroke="#2c2850" stroke-width="0.45"/>
<line x1="603.20" y1="435.20" x2="603.20" y2="819.68" stroke="#2c2850" stroke-width="0.45"/>
<line x1="629.80" y1="435.20" x2="629.80" y2="819.68" stroke="#2c2850" stroke-width="0.45"/>
<text x="634.70" y="441.56" font-size="8.77" font-style="italic" textLength="25.20" lengthAdjust="spacingAndGlyphs" style="stroke-width:0.08px">WNT5A</text>
<text x="634.70" y="448.68" font-size="8.77" font-style="italic" textLength="32.40" lengthAdjust="spacingAndGlyphs" style="stroke-width:0.08px">ALDH1A1</text>
<text x="634.70" y="455.80" font-size="8.77" font-style="italic" textLength="27.22" lengthAdjust="spacingAndGlyphs" style="stroke-width:0.08px">CX3CL1</text>
<text x="634.70" y="462.92" font-size="8.77" font-style="italic" textLength="19.22" lengthAdjust="spacingAndGlyphs" style="stroke-width:0.08px">SOX2</text>
<text x="634.70" y="470.04" font-size="8.77" font-style="italic" textLength="18.79" lengthAdjust="spacingAndGlyphs" style="stroke-width:0.08px">EML1</text>
<text x="634.70" y="477.16" font-size="8.77" font-style="italic" textLength="15.62" lengthAdjust="spacingAndGlyphs" style="stroke-width:0.08px">GLI3</text>
<text x="634.70" y="484.28" font-size="8.77" font-style="italic" textLength="22.39" lengthAdjust="spacingAndGlyphs" style="stroke-width:0.08px">FBLN1</text>
<text x="634.70" y="491.40" font-size="8.77" font-style="italic" textLength="19.08" lengthAdjust="spacingAndGlyphs" style="stroke-width:0.08px">TERT</text>
<text x="634.70" y="498.52" font-size="8.77" font-style="italic" textLength="24.84" lengthAdjust="spacingAndGlyphs" style="stroke-width:0.08px">KDM1A</text>
<text x="634.70" y="505.64" font-size="8.77" font-style="italic" textLength="17.86" lengthAdjust="spacingAndGlyphs" style="stroke-width:0.08px">PAX2</text>
<text x="634.70" y="512.76" font-size="8.77" font-style="italic" textLength="26.42" lengthAdjust="spacingAndGlyphs" style="stroke-width:0.08px">NANOG</text>
<text x="634.70" y="519.88" font-size="8.77" font-style="italic" textLength="26.21" lengthAdjust="spacingAndGlyphs" style="stroke-width:0.08px">ZNF706</text>
<text x="634.70" y="527.00" font-size="8.77" font-style="italic" textLength="25.20" lengthAdjust="spacingAndGlyphs" style="stroke-width:0.08px">WNT7B</text>
<text x="634.70" y="534.12" font-size="8.77" font-style="italic" textLength="19.87" lengthAdjust="spacingAndGlyphs" style="stroke-width:0.08px">ARTN</text>
<text x="634.70" y="541.24" font-size="8.77" font-style="italic" textLength="24.84" lengthAdjust="spacingAndGlyphs" style="stroke-width:0.08px">VEGFC</text>
<text x="634.70" y="548.36" font-size="8.77" font-style="italic" textLength="17.93" lengthAdjust="spacingAndGlyphs" style="stroke-width:0.08px">PAX8</text>
<text x="634.70" y="555.48" font-size="8.77" font-style="italic" textLength="35.21" lengthAdjust="spacingAndGlyphs" style="stroke-width:0.08px">SMARCD3</text>
<text x="634.70" y="562.60" font-size="8.77" font-style="italic" textLength="22.82" lengthAdjust="spacingAndGlyphs" style="stroke-width:0.08px">RAB10</text>
<text x="634.70" y="569.72" font-size="8.77" font-style="italic" textLength="20.81" lengthAdjust="spacingAndGlyphs" style="stroke-width:0.08px">ASPM</text>
<text x="634.70" y="576.84" font-size="8.77" font-style="italic" textLength="22.39" lengthAdjust="spacingAndGlyphs" style="stroke-width:0.08px">FGF13</text>
<text x="634.70" y="583.96" font-size="8.77" font-style="italic" textLength="25.20" lengthAdjust="spacingAndGlyphs" style="stroke-width:0.08px">NUMBL</text>
<text x="634.70" y="591.08" font-size="8.77" font-style="italic" textLength="21.46" lengthAdjust="spacingAndGlyphs" style="stroke-width:0.08px">LTBP3</text>
<text x="634.70" y="598.20" font-size="8.77" font-style="italic" textLength="23.62" lengthAdjust="spacingAndGlyphs" style="stroke-width:0.08px">FGFR1</text>
<text x="634.70" y="605.32" font-size="8.77" font-style="italic" textLength="28.01" lengthAdjust="spacingAndGlyphs" style="stroke-width:0.08px">POU5F1</text>
<text x="634.70" y="612.44" font-size="8.77" font-style="italic" textLength="29.74" lengthAdjust="spacingAndGlyphs" style="stroke-width:0.08px">ZFP36L1</text>
<text x="634.70" y="619.56" font-size="8.77" font-style="italic" textLength="11.59" lengthAdjust="spacingAndGlyphs" style="stroke-width:0.08px">KIT</text>
<text x="634.70" y="626.68" font-size="8.77" font-style="italic" textLength="24.77" lengthAdjust="spacingAndGlyphs" style="stroke-width:0.08px">ABCG2</text>
<text x="634.70" y="633.80" font-size="8.77" font-style="italic" textLength="18.00" lengthAdjust="spacingAndGlyphs" style="stroke-width:0.08px">GJA1</text>
<text x="634.70" y="640.92" font-size="8.77" font-style="italic" textLength="21.17" lengthAdjust="spacingAndGlyphs" style="stroke-width:0.08px">TGFBI</text>
<text x="634.70" y="648.04" font-size="8.77" font-style="italic" textLength="33.62" lengthAdjust="spacingAndGlyphs" style="stroke-width:0.08px">PCOLCE2</text>
<text x="634.70" y="655.16" font-size="8.77" font-style="italic" textLength="23.62" lengthAdjust="spacingAndGlyphs" style="stroke-width:0.08px">PMP22</text>
<text x="634.70" y="662.28" font-size="8.77" font-style="italic" textLength="19.66" lengthAdjust="spacingAndGlyphs" style="stroke-width:0.08px">CDH6</text>
<text x="634.70" y="669.40" font-size="8.77" font-style="italic" textLength="12.82" lengthAdjust="spacingAndGlyphs" style="stroke-width:0.08px">VIM</text>
<text x="634.70" y="676.52" font-size="8.77" font-style="italic" textLength="19.58" lengthAdjust="spacingAndGlyphs" style="stroke-width:0.08px">MSX1</text>
<text x="634.70" y="683.64" font-size="8.77" font-style="italic" textLength="20.02" lengthAdjust="spacingAndGlyphs" style="stroke-width:0.08px">EDIL3</text>
<text x="634.70" y="690.76" font-size="8.77" font-style="italic" textLength="19.22" lengthAdjust="spacingAndGlyphs" style="stroke-width:0.08px">TPM2</text>
<text x="634.70" y="697.88" font-size="8.77" font-style="italic" textLength="25.20" lengthAdjust="spacingAndGlyphs" style="stroke-width:0.08px">CADM1</text>
<text x="634.70" y="705.00" font-size="8.77" font-style="italic" textLength="20.81" lengthAdjust="spacingAndGlyphs" style="stroke-width:0.08px">SNAI1</text>
<text x="634.70" y="712.12" font-size="8.77" font-style="italic" textLength="22.39" lengthAdjust="spacingAndGlyphs" style="stroke-width:0.08px">LOXL2</text>
<text x="634.70" y="719.24" font-size="8.77" font-style="italic" textLength="18.79" lengthAdjust="spacingAndGlyphs" style="stroke-width:0.08px">DAB2</text>
<text x="634.70" y="726.36" font-size="8.77" font-style="italic" textLength="20.74" lengthAdjust="spacingAndGlyphs" style="stroke-width:0.08px">AREG</text>
<text x="634.70" y="733.48" font-size="8.77" font-style="italic" textLength="29.23" lengthAdjust="spacingAndGlyphs" style="stroke-width:0.08px">CTHRC1</text>
<text x="634.70" y="740.60" font-size="8.77" font-style="italic" textLength="18.79" lengthAdjust="spacingAndGlyphs" style="stroke-width:0.08px">CAP2</text>
<text x="634.70" y="747.72" font-size="8.77" font-style="italic" textLength="23.18" lengthAdjust="spacingAndGlyphs" style="stroke-width:0.08px">SNTB1</text>
<text x="634.70" y="754.84" font-size="8.77" font-style="italic" textLength="19.58" lengthAdjust="spacingAndGlyphs" style="stroke-width:0.08px">ENO2</text>
<text x="634.70" y="761.96" font-size="8.77" font-style="italic" textLength="18.00" lengthAdjust="spacingAndGlyphs" style="stroke-width:0.08px">FZD8</text>
<text x="634.70" y="769.08" font-size="8.77" font-style="italic" textLength="24.84" lengthAdjust="spacingAndGlyphs" style="stroke-width:0.08px">MMP14</text>
<text x="634.70" y="776.20" font-size="8.77" font-style="italic" textLength="21.60" lengthAdjust="spacingAndGlyphs" style="stroke-width:0.08px">FSTL1</text>
<text x="634.70" y="783.32" font-size="8.77" font-style="italic" textLength="23.62" lengthAdjust="spacingAndGlyphs" style="stroke-width:0.08px">HTRA1</text>
<text x="634.70" y="790.44" font-size="8.77" font-style="italic" textLength="19.22" lengthAdjust="spacingAndGlyphs" style="stroke-width:0.08px">SDC1</text>
<text x="634.70" y="797.56" font-size="8.77" font-style="italic" textLength="18.43" lengthAdjust="spacingAndGlyphs" style="stroke-width:0.08px">PFN2</text>
<text x="634.70" y="804.68" font-size="8.77" font-style="italic" textLength="24.84" lengthAdjust="spacingAndGlyphs" style="stroke-width:0.08px">QSOX1</text>
<text x="634.70" y="811.80" font-size="8.77" font-style="italic" textLength="19.58" lengthAdjust="spacingAndGlyphs" style="stroke-width:0.08px">RGS4</text>
<text x="634.70" y="818.92" font-size="8.77" font-style="italic" textLength="19.87" lengthAdjust="spacingAndGlyphs" style="stroke-width:0.08px">COPA</text>
<line x1="671.50" y1="435.20" x2="671.50" y2="622.00" stroke="#231f20" stroke-width="1.0"/>
<line x1="671.50" y1="631.00" x2="671.50" y2="815.50" stroke="#231f20" stroke-width="1.0"/>
<text x="685.20" y="541.30" font-size="10.27" text-anchor="middle" textLength="39.60" lengthAdjust="spacingAndGlyphs" transform="rotate(-90 685.20 541.30)">Stemness</text>
<text x="685.20" y="709.60" font-size="10.27" text-anchor="middle" textLength="17.00" lengthAdjust="spacingAndGlyphs" transform="rotate(-90 685.20 709.60)">EMT</text>
</svg></body></html>
